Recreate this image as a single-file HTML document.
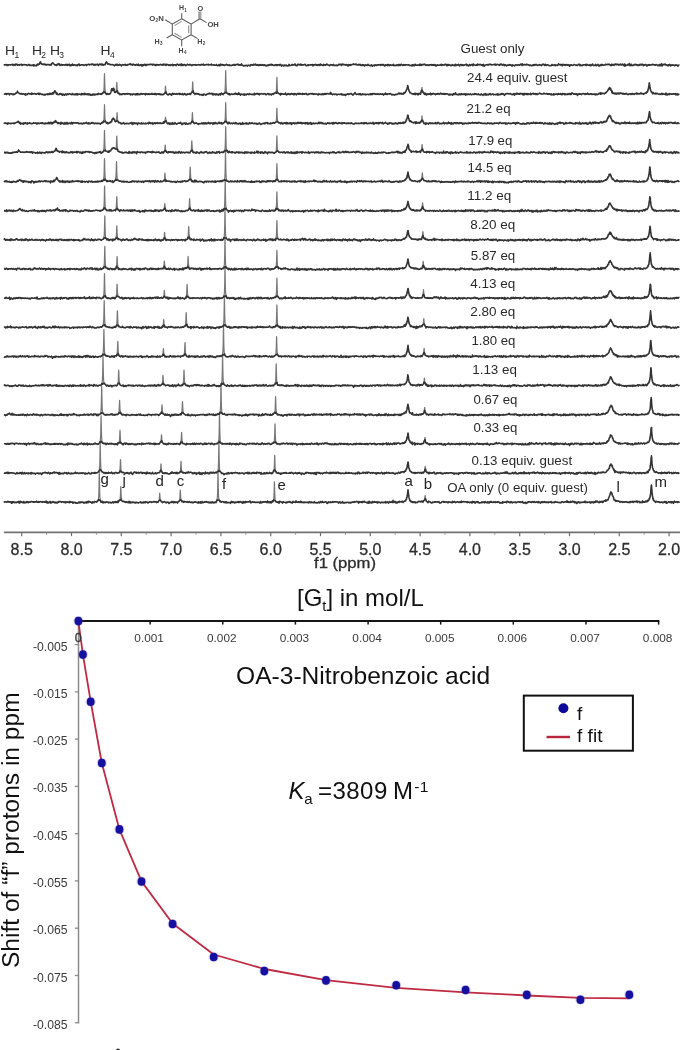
<!DOCTYPE html>
<html><head><meta charset="utf-8">
<style>
html,body{margin:0;padding:0;background:#fff;}
body{width:681px;height:1050px;overflow:hidden;position:relative;}
svg{position:absolute;left:0;top:0;filter:blur(0.3px);}
text{font-family:"Liberation Sans",sans-serif;}
.tk{font-size:16px;fill:#2e2e2e;stroke:#2e2e2e;stroke-width:0.3px;}
.lb{font-size:12.2px;fill:#2a2a2a;}
.pk{font-size:15px;fill:#222;}
.hl{font-size:12px;fill:#2a2a2a;}
.sm{font-size:6px;fill:#6a6a6a;}
.ct{font-size:11.8px;fill:#3a3a3a;}
.big{font-size:21px;fill:#111;}
</style></head>
<body>
<svg width="681" height="1050" viewBox="0 0 681 1050">
<rect x="0" y="0" width="681" height="1050" fill="#fff"/>
<!-- spectra -->
<g fill="none" stroke-linejoin="round">
<g stroke="#777" stroke-width="1.2"><path d="M103.2 93.2l.2-.5 .2-.6 .2-.9 .1-1.4 .1-1.1 .1-1.9 .1-3.1 .1-4 .1-3.9 .1-2.3 .1 2.3 .1 4.1 .1 4 .1 2.9 .1 2 .1 1.4 .1 .8 .2 1.1 .2 .7 .2 .5"/>
<path d="M115.8 92.2l.2-.6 .2-.9 .1-.6 .1-1.2 .1-1.6 .1-2.1 .1-2 .1-.9 .1 1.1 .1 2 .1 2.3 .1 1.4 .1 1.6 .1 .6 .2 .9 .2 .5"/>
<path d="M164.6 93.1l.2-.2 .2-1 .1-.6 .1-1.6 .2-2.7 .1-.9 .1 .8 .2 2.6 .1 1.5 .1 .8 .2 1.2 .2 .4"/>
<path d="M191.6 93.0l.2-.2 .2-.8 .2-1.5 .1-1.2 .1-1.7 .2-4.6 .1-1.2 .1 1 .2 4.7 .1 1.7 .1 1.1 .2 1.4 .2 .8 .2 .4"/>
<path d="M224.4 93.1l.2-.5 .2-.3 .2-1.4 .1-1 .1-1.5 .1-2.1 .1-3 .1-4.6 .1-5.4 .1-2.6 .1 2.6 .1 5.2 .1 4.9 .1 3.1 .1 2.4 .1 1 .1 1.1 .2 1.3 .2 .5 .2 .2"/>
<path d="M275.8 92.7l.2-.3 .2-.9 .1-.8 .1-.9 .1-1.6 .1-2.4 .2-6.7 .1-1.7 .1 1.7 .2 6.8 .1 2.2 .1 1.7 .1 1 .1 .6 .2 1 .2 .7"/>
<path d="M421.3 92.1l.2-.7 .2-1.7 .2-2 .1-.4 .1 .4 .2 1.9 .2 1.6 .2 .8"/>
<path d="M103.3 122.3l.2-.6 .2-.7 .2-1.2 .1-1.2 .1-2 .1-2.6 .1-3.5 .1-3.7 .1-2.1 .1 2 .1 3.6 .1 3.6 .1 2.8 .1 1.8 .1 1 .2 1.5 .2 .9 .2 .3"/>
<path d="M116.1 121.5l.2-.3 .2-.8 .1-.6 .1-1 .1-1.5 .1-1.8 .1-1.8 .1-1 .1 .9 .1 2.1 .1 1.6 .1 1.7 .1 1 .1 .6 .2 1 .2 .5"/>
<path d="M164.8 122.0l.2-.9 .2-1.4 .2-2.2 .1-.2 .1 .4 .2 2 .2 1.5 .2 .7"/>
<path d="M191.4 122.6l.2-.5 .2-.8 .1-1.2 .1-.8 .1-1.6 .1-2.2 .1-1.9 .1-1 .1 1 .1 2.1 .1 1.6 .1 1.9 .1 .9 .1 1 .2 .7 .2 .6"/>
<path d="M224.5 122.6l.2-.4 .2-.9 .2-1.5 .1-1.1 .1-1.9 .1-2.7 .1-4.6 .1-4.5 .1-2.3 .1 2.1 .1 4.9 .1 4.4 .1 2.8 .1 1.6 .1 1.5 .2 1.4 .2 .7 .2 .4"/>
<path d="M275.8 122.1l.2-.6 .2-.7 .2-1.5 .1-1.5 .1-1.8 .2-6.2 .1-1.7 .1 1.7 .2 6 .1 2.1 .1 1.4 .2 1.5 .2 1.1 .2 .2"/>
<path d="M421.3 121.1l.2-.9 .2-1.6 .2-1.7 .1-1 .1 .7 .2 2.3 .2 1.4 .2 1"/>
<path d="M103.2 151.1l.2-.1 .2-.8 .2-1.3 .1-1 .1-1.3 .1-2.2 .1-2.9 .1-4.4 .1-4.4 .1-2.3 .1 2.1 .1 4.4 .1 4.4 .1 3.2 .1 2.4 .1 .9 .1 1 .2 1.4 .2 .6 .2 .3"/>
<path d="M115.6 149.0l.2-.4 .2-.4 .2-.9 .1-.9 .1-1.7 .1-2.1 .1-2.6 .1-2.6 .1-1.3 .1 1.2 .1 3 .1 2.9 .1 2 .1 1.5 .1 1.3 .2 1.4 .2 .8 .2 .4"/>
<path d="M164.3 151.6l.2-.5 .2-1 .1-.8 .1-1 .2-2.8 .1-.5 .1 .4 .2 2.9 .1 1 .1 1.1 .2 .8 .2 .4"/>
<path d="M190.7 151.9l.2-.6 .2-.8 .2-1.2 .1-1.3 .1-1.6 .2-4.5 .1-1 .1 .9 .2 4.3 .1 1.9 .1 1.1 .2 1.6 .2 .7 .2 .3"/>
<path d="M224.4 151.2l.2-.2 .2-.7 .2-1.5 .1-.9 .1-1.5 .1-2.6 .1-3.5 .1-5.2 .1-5.6 .1-3 .1 2.8 .1 5.7 .1 5.3 .1 3.7 .1 2.2 .1 1.5 .1 1.2 .2 1.1 .2 .8 .2 .5"/>
<path d="M275.7 151.9l.2-.4 .2-.6 .2-1.4 .1-1.1 .1-1.6 .1-2.4 .1-3.4 .1-3.5 .1-1.6 .1 1.7 .1 3.6 .1 3 .1 2.6 .1 1.5 .1 1 .2 1.4 .2 .7 .2 .5"/>
<path d="M421.3 150.3l.2-.5 .2-1.4 .2-2.3 .1-1 .1-.6 .1 .3 .1 1.3 .2 2.3 .2 1.1 .2 1"/>
<path d="M103.2 180.2l.2-.4 .2-.6 .2-1.2 .1-1.2 .1-1.4 .1-2 .1-3.5 .1-4.4 .1-4.9 .1-2.1 .1 2.2 .1 5.1 .1 4.1 .1 3.4 .1 2.2 .1 1.6 .1 .6 .2 1.6 .2 .6 .2 .4"/>
<path d="M115.1 180.8l.2-.4 .2-.6 .2-1.2 .2-1.4 .1-1.5 .1-2.2 .1-2.7 .1-3.4 .1-4 .1-1.7 .1 1.9 .1 3.4 .1 3.7 .1 2.8 .1 2.1 .1 1.5 .2 1.7 .2 .7 .2 .7 .2 .3"/>
<path d="M164.0 180.5l.2-.5 .2-1.1 .1-.9 .1-1.1 .2-3.3 .1-.6 .1 .7 .2 3.1 .1 1.2 .1 .9 .2 1.1 .2 .6"/>
<path d="M189.0 180.4l.2-.5 .2-.4 .2-1.4 .1-1.1 .1-1.4 .1-2.2 .1-2.8 .1-2.7 .1-.9 .1 1 .1 2.8 .1 2.5 .1 2.2 .1 1.7 .1 .9 .2 1.3 .2 .7 .2 .4"/>
<path d="M224.1 180.7l.2-.5 .2-.7 .2-1.2 .1-.5 .1-1.5 .1-1.9 .1-2.7 .1-4.4 .1-6.1 .1-7 .1-3.4 .1 3.4 .1 7.1 .1 6 .1 4.2 .1 2.8 .1 1.9 .1 1.2 .1 1.1 .2 1.1 .2 .6 .2 .2"/>
<path d="M275.7 180.7l.2-.7 .2-.5 .2-1.4 .1-1.3 .1-1.7 .1-2.5 .1-3.1 .1-4.1 .1-1.7 .1 1.9 .1 3.7 .1 3.5 .1 2.3 .1 1.7 .1 1.7 .2 1 .2 .7 .2 .4"/>
<path d="M421.5 179.4l.2-1 .2-1.2 .2-2.5 .1-1.2 .1-.7 .1 .5 .1 1.3 .2 2.2 .2 1.8 .2 .4"/>
<path d="M103.2 209.7l.2-.6 .2-.4 .2-1 .1-.9 .1-1 .1-1.6 .1-2.4 .1-3.3 .1-4.9 .1-5.2 .1-2.4 .1 2.5 .1 5.4 .1 4.6 .1 3.6 .1 2.2 .1 1.3 .1 1.4 .1 .6 .2 1 .2 .6 .2 .7"/>
<path d="M115.7 209.4l.2-.4 .2-.7 .2-1.7 .1-1.7 .1-1.8 .2-5.2 .1-1.2 .1 1.3 .2 5 .1 2 .1 1.7 .2 1.3 .2 1 .2 .6"/>
<path d="M164.0 209.4l.2-.5 .2-1.3 .2-2.1 .1-1.4 .1-.4 .1 .7 .1 1.1 .2 2.3 .2 1.3 .2 .5"/>
<path d="M188.5 209.6l.2-.1 .2-.9 .2-1.5 .1-1.5 .1-1.5 .2-4.4 .1-1.2 .1 .8 .2 4.7 .1 1.8 .1 1.2 .2 1.5 .2 .8 .2 .4"/>
<path d="M223.8 209.9l.2-.6 .2-.5 .2-1 .1-1.1 .1-1.1 .1-2.1 .1-2.7 .1-4.2 .1-5.9 .1-7.2 .1-3.3 .1 3.2 .1 7.1 .1 6.2 .1 4.2 .1 2.6 .1 1.8 .1 1.6 .1 .6 .2 1.3 .2 .5 .2 .5"/>
<path d="M275.7 209.9l.2-.5 .2-.9 .2-1.7 .1-1 .1-1.8 .1-2.7 .1-3.5 .1-4.3 .1-1.6 .1 1.8 .1 3.9 .1 3.9 .1 2.3 .1 2 .1 1.3 .2 1.2 .2 .8 .2 .6"/>
<path d="M421.8 208.9l.2-.7 .2-1.3 .2-2.3 .1-1.5 .1-.3 .1 .5 .1 1.4 .2 2.3 .2 1.4 .2 .5"/>
<path d="M103.4 238.8l.2-.3 .2-.6 .2-.9 .1-1.1 .1-.9 .1-1.5 .1-2.4 .1-3.2 .1-4.7 .1-5.1 .1-2.2 .1 2.1 .1 5.3 .1 4.5 .1 3.3 .1 2.2 .1 1.6 .1 1.1 .1 .9 .2 .7 .2 1 .2 .3"/>
<path d="M115.7 238.8l.2-.8 .2-1 .2-1.5 .1-1.4 .1-1.9 .2-5.2 .1-1.2 .1 1.2 .2 5 .1 2.4 .1 1.1 .2 1.9 .2 1 .2 .3"/>
<path d="M163.7 239.3l.2-.4 .2-1.2 .1-.6 .1-1.3 .2-2.9 .1-.6 .1 .5 .2 2.9 .1 1.3 .1 .8 .2 1 .2 .3"/>
<path d="M187.6 238.7l.2-.4 .2-.9 .2-1.7 .1-1.4 .1-2 .2-4.8 .1-1 .1 1 .2 5 .1 1.7 .1 1.5 .2 1.4 .2 .9 .2 .3"/>
<path d="M223.6 238.8l.2-.4 .2-.8 .2-1.1 .1-.9 .1-1.4 .1-1.8 .1-2.8 .1-4 .1-6 .1-7.2 .1-3.5 .1 3.6 .1 6.9 .1 6.1 .1 4.4 .1 2.7 .1 1.8 .1 1.2 .1 1.2 .2 .9 .2 .7 .2 .3"/>
<path d="M275.7 238.8l.2-.3 .2-.9 .2-1.4 .1-1.3 .1-2.1 .1-2.8 .1-3.4 .1-4.2 .1-1.7 .1 1.7 .1 4 .1 3.9 .1 2.6 .1 1.9 .1 1.2 .2 1.6 .2 .9 .2 .2"/>
<path d="M422.1 237.7l.2-1 .2-1.2 .2-2.4 .1-1.3 .1-.1 .1 .5 .1 1.2 .2 1.9 .2 1.5 .2 .7"/>
<path d="M103.5 268.0l.2-.6 .2-.6 .2-1.1 .1-1.2 .1-1.4 .1-2.3 .1-3.1 .1-4.2 .1-4.8 .1-2.4 .1 2.4 .1 4.6 .1 4.4 .1 3.1 .1 2.4 .1 1.1 .1 1 .2 1.5 .2 .4 .2 .6"/>
<path d="M116.0 268.1l.2-.6 .2-.5 .2-1.5 .1-1.4 .1-2 .2-4.3 .1-1.3 .1 1.2 .2 4.7 .1 1.6 .1 1.2 .2 1.7 .2 .8 .2 .4"/>
<path d="M163.4 268.0l.2-.3 .2-1.1 .1-.9 .1-1.1 .2-2.9 .1-.7 .1 .7 .2 2.8 .1 1.2 .1 .8 .2 1.1 .2 .6"/>
<path d="M187.0 267.9l.2-.5 .2-.8 .2-1.6 .1-1.1 .1-1.9 .2-4.5 .1-1.1 .1 1.2 .2 4.5 .1 2 .1 1.1 .2 1.4 .2 .9 .2 .3"/>
<path d="M223.6 268.0l.2-.4 .2-.4 .2-1.5 .1-.8 .1-1.3 .1-1.8 .1-2.7 .1-4.4 .1-6.1 .1-6.8 .1-3.5 .1 3.3 .1 6.9 .1 6.4 .1 4.2 .1 2.8 .1 1.6 .1 1.4 .1 .9 .2 1.2 .2 .6 .2 .4"/>
<path d="M275.7 267.8l.2-.6 .2-.7 .2-1.4 .1-1.2 .1-1.7 .1-2.6 .1-3.6 .1-3.6 .1-2 .1 1.8 .1 4 .1 3.4 .1 2.6 .1 1.8 .1 1.1 .2 1.5 .2 .8 .2 .3"/>
<path d="M422.4 267.3l.2-.7 .2-1.3 .2-2.2 .1-1 .1-.8 .1 .5 .1 1.2 .2 2.3 .2 1.3 .2 .6"/>
<path d="M103.1 297.1l.2-.5 .2-.5 .2-1 .1-.8 .1-.9 .1-1.5 .1-2.8 .1-3.3 .1-4.6 .1-5.3 .1-2.4 .1 2.6 .1 5.3 .1 4.7 .1 3.3 .1 2.4 .1 1.5 .1 1.2 .1 .6 .2 1 .2 .7 .2 .6"/>
<path d="M116.0 297.0l.2-.8 .2-.7 .2-1.8 .1-1.3 .1-2.2 .2-4.9 .1-1.3 .1 1.2 .2 5.2 .1 1.7 .1 1.6 .2 1.9 .2 .7 .2 .6"/>
<path d="M163.4 297.3l.2-.6 .2-.9 .1-.7 .1-1 .2-2.9 .1-.9 .1 .9 .2 2.5 .1 1.3 .1 .7 .2 1.1 .2 .4"/>
<path d="M186.0 297.4l.2-.8 .2-.7 .2-1.8 .1-1.5 .1-2.1 .2-5 .1-1.2 .1 1.2 .2 5 .1 2 .1 1.5 .2 1.7 .2 .9 .2 .6"/>
<path d="M223.6 296.7l.2-.1 .2-1.2 .2-.7 .1-1.1 .1-1 .1-2.2 .1-2.5 .1-4.5 .1-6.2 .1-6.7 .1-3.5 .1 3.3 .1 7.4 .1 5.7 .1 4.5 .1 2.5 .1 1.9 .1 1.4 .1 .7 .2 1.4 .2 .3 .2 .7"/>
<path d="M275.7 296.8l.2-.5 .2-.7 .2-1.6 .1-1.3 .1-1.7 .1-2.9 .1-3.8 .1-4 .1-2.2 .1 2.1 .1 4 .1 4 .1 2.8 .1 1.8 .1 1.2 .2 1.6 .2 .8 .2 .7"/>
<path d="M422.7 296.2l.2-.8 .2-1.2 .2-2.4 .1-1.2 .1-.9 .1 .8 .1 1.3 .2 2.2 .2 1.5 .2 .7"/>
<path d="M102.8 325.9l.2-.3 .2-.5 .2-1.4 .1-.9 .1-1 .1-1.7 .1-2.5 .1-3.9 .1-4.9 .1-5.7 .1-2.4 .1 2.7 .1 5.2 .1 4.9 .1 4 .1 2.5 .1 1.8 .1 1.1 .1 .9 .2 1.4 .2 .3 .2 .4"/>
<path d="M116.2 326.3l.2-.7 .2-.5 .2-1.6 .1-1.3 .1-1.6 .1-2.2 .1-3 .1-3 .1-1.5 .1 1.2 .1 3.2 .1 3 .1 2.6 .1 1.1 .1 1.6 .2 1.3 .2 .8 .2 .3"/>
<path d="M162.8 326.4l.2-.6 .2-1 .1-.3 .1-1.2 .2-2.9 .1-.7 .1 .4 .2 3 .1 1.1 .1 .9 .2 .7 .2 .7"/>
<path d="M185.0 326.1l.2-.3 .2-.8 .2-1.2 .1-1 .1-1.8 .1-1.7 .1-2.6 .1-3.1 .1-1 .1 1 .1 2.8 .1 3 .1 2 .1 1.6 .1 .9 .2 1.4 .2 .6 .2 .6"/>
<path d="M223.0 326.3l.2-.6 .2-.8 .2-1.1 .1-.9 .1-1.1 .1-1.9 .1-2.9 .1-4 .1-6.3 .1-6.7 .1-3.6 .1 3.6 .1 6.7 .1 6 .1 4.2 .1 3.1 .1 1.6 .1 1.6 .1 .7 .2 1.2 .2 .4 .2 .5"/>
<path d="M275.6 326.2l.2-.4 .2-.9 .2-1 .1-1.2 .1-1.2 .1-2.3 .1-3.1 .1-4.3 .1-4.5 .1-2.4 .1 2.4 .1 4.4 .1 4.5 .1 3 .1 2.3 .1 1.3 .1 1.1 .2 1.4 .2 .5 .2 .3"/>
<path d="M423.0 325.0l.2-.7 .2-1.3 .2-2.6 .1-1.1 .1-.7 .1 .7 .1 1.2 .2 2.5 .2 1.5 .2 .6"/>
<path d="M102.5 355.7l.2-.9 .2-.6 .2-1 .1-1 .1-1.1 .1-1.7 .1-2.6 .1-3.8 .1-5.2 .1-5.5 .1-2.9 .1 2.7 .1 5.8 .1 5 .1 3.7 .1 2.7 .1 1.7 .1 1.3 .1 .8 .2 1.2 .2 .7 .2 .2"/>
<path d="M116.6 355.2l.2-.1 .2-.9 .2-1.4 .1-1.1 .1-1.3 .1-2.2 .1-2.9 .1-2.7 .1-1.3 .1 1.6 .1 2.6 .1 2.8 .1 2 .1 1.6 .1 1.2 .2 1.2 .2 .9 .2 .3"/>
<path d="M162.5 355.8l.2-.5 .2-1.1 .1-.6 .1-1.3 .2-2.9 .1-.9 .1 .7 .2 3 .1 1.1 .1 .9 .2 1 .2 .6"/>
<path d="M183.9 355.3l.2-.7 .2-.6 .2-1.9 .1-1.5 .1-1.9 .2-5.1 .1-1.1 .1 1.4 .2 4.9 .1 2.1 .1 1.2 .2 1.8 .2 .8 .2 .5"/>
<path d="M222.1 355.5l.2-.5 .2-.7 .2-1.2 .1-.6 .1-1.5 .1-1.9 .1-2.7 .1-4.2 .1-6.1 .1-6.9 .1-3.8 .1 3.6 .1 7.2 .1 6.2 .1 3.9 .1 2.9 .1 1.6 .1 1.4 .1 .9 .2 1.2 .2 .5 .2 .7"/>
<path d="M275.4 355.3l.2-.5 .2-.7 .2-1.6 .1-1.4 .1-1.8 .1-2.5 .1-4.1 .1-4.1 .1-2.1 .1 2 .1 4.2 .1 3.5 .1 3 .1 2 .1 1.3 .2 1.7 .2 1 .2 .2"/>
<path d="M423.3 354.4l.2-.7 .2-1.2 .2-2.5 .1-1.2 .1-.5 .1 .6 .1 .9 .2 2.5 .2 1 .2 1"/>
<path d="M101.5 384.6l.2-.2 .2-.8 .2-1.1 .2-1.4 .1-1.4 .1-1.8 .1-2.7 .1-4.1 .1-5.8 .1-6 .1-2.8 .1 3 .1 6.2 .1 5.3 .1 4 .1 2.7 .1 1.9 .1 1.2 .2 1.6 .2 1 .2 .6 .2 .2"/>
<path d="M117.5 384.5l.2-.5 .2-.7 .2-1.4 .1-1 .1-1.6 .1-2.5 .1-2.5 .1-2.8 .1-1.4 .1 1.4 .1 2.7 .1 2.9 .1 2.1 .1 1.7 .1 1.1 .2 1.1 .2 .8 .2 .6"/>
<path d="M162.0 384.5l.2-.5 .2-1 .1-.7 .1-.9 .1-1.4 .1-1.9 .1-2 .1-.7 .1 .8 .1 1.7 .1 1.9 .1 1.5 .1 .9 .1 .9 .2 .9 .2 .5"/>
<path d="M182.8 384.4l.2-.4 .2-.6 .2-1.5 .1-1 .1-1.6 .1-2.4 .1-2.5 .1-3.1 .1-1.3 .1 1.5 .1 2.6 .1 3.1 .1 2.1 .1 1.6 .1 1 .2 1.2 .2 .7 .2 .6"/>
<path d="M221.2 384.7l.2-.5 .2-.7 .2-1.1 .1-.8 .1-1.3 .1-1.8 .1-2.9 .1-4.1 .1-6.1 .1-6.9 .1-3.8 .1 3.6 .1 7.1 .1 5.7 .1 4.6 .1 2.7 .1 1.9 .1 1.2 .1 1 .2 .9 .2 .6 .2 .5"/>
<path d="M274.9 384.5l.2-.7 .2-.4 .2-1.2 .1-.9 .1-1.6 .1-1.9 .1-3.1 .1-4.1 .1-4.6 .1-2.2 .1 2.1 .1 4.5 .1 4.4 .1 2.8 .1 2.1 .1 1.5 .1 .9 .2 1 .2 .8 .2 .4"/>
<path d="M423.7 383.6l.2-.9 .2-1.8 .2-2.3 .1-.4 .1 .6 .2 2.2 .2 1.7 .2 .7"/>
<path d="M100.2 414.2l.2-.4 .2-.6 .2-.7 .2-1.9 .1-1.2 .1-2 .1-2.7 .1-4.1 .1-5.5 .1-6.2 .1-2.7 .1 2.9 .1 6 .1 5.5 .1 4.3 .1 2.8 .1 1.6 .1 1.3 .2 1.7 .2 .8 .2 .6 .2 .4"/>
<path d="M118.5 413.1l.2-.2 .2-1.1 .2-1.8 .1-1.3 .1-1.8 .2-5.4 .1-1.1 .1 1 .2 5.4 .1 1.9 .1 1.6 .2 1.6 .2 .8 .2 .3"/>
<path d="M161.0 413.8l.2-.4 .2-.9 .1-.7 .1-1 .1-1.4 .1-2 .1-1.8 .1-.7 .1 .8 .1 1.7 .1 1.7 .1 1.7 .1 1.1 .1 .8 .2 .7 .2 .4"/>
<path d="M181.4 413.5l.2-.5 .2-.9 .2-1.6 .1-1.4 .1-1.7 .2-4.7 .1-1.1 .1 1.1 .2 4.9 .1 2 .1 1.1 .2 1.8 .2 .6 .2 .5"/>
<path d="M219.6 413.4l.2-.6 .2-.2 .2-1.3 .1-.9 .1-1.1 .1-2 .1-2.7 .1-4.7 .1-5.7 .1-7 .1-3.6 .1 3.7 .1 6.8 .1 6 .1 4.1 .1 3.2 .1 1.4 .1 1.6 .1 1 .2 1.1 .2 .5 .2 .4"/>
<path d="M274.4 413.5l.2-.3 .2-.8 .2-1.5 .1-1.2 .1-1.4 .1-2.8 .1-3.4 .1-3.4 .1-2.1 .1 1.7 .1 3.8 .1 3.7 .1 2.4 .1 1.7 .1 1 .2 1.6 .2 .8 .2 .4"/>
<path d="M424.0 412.6l.2-.9 .2-1.9 .2-2 .1-.4 .1 .6 .2 2.1 .2 1.6 .2 .5"/>
<path d="M99.6 443.0l.2-.3 .2-.7 .2-.8 .2-1.8 .1-1.1 .1-1.8 .1-2.8 .1-3.9 .1-5.6 .1-5.9 .1-2.7 .1 2.6 .1 6.1 .1 5.6 .1 3.8 .1 2.7 .1 1.8 .1 1.2 .2 1.7 .2 .8 .2 .6 .2 .3"/>
<path d="M118.9 443.0l.2-.4 .2-.8 .2-1.7 .1-1.5 .1-2 .2-5.3 .1-1.1 .1 1.3 .2 5.2 .1 2 .1 1.1 .2 2 .2 .8 .2 .6"/>
<path d="M160.6 442.4l.2-.4 .2-1.2 .1-1 .1-1 .2-3.3 .1-.6 .1 .8 .2 3.2 .1 1.2 .1 .9 .2 .8 .2 .9"/>
<path d="M180.6 443.0l.2-.4 .2-1.1 .1-.9 .1-.9 .1-1.9 .1-2.1 .1-2 .1-1.4 .1 1.1 .1 2.4 .1 2 .1 1.8 .1 1.1 .1 .8 .2 1.2 .2 .4"/>
<path d="M218.1 442.9l.2-.3 .2-.8 .2-1.1 .1-.9 .1-1 .1-1.7 .1-2.9 .1-4.5 .1-6 .1-7 .1-3.4 .1 3.6 .1 6.8 .1 6.2 .1 3.8 .1 3.2 .1 1.7 .1 1.4 .1 .9 .2 1.1 .2 .7 .2 .5"/>
<path d="M273.8 442.4l.2-.4 .2-.4 .2-1.7 .1-1.4 .1-1.9 .1-2.8 .1-3.7 .1-4.3 .1-2 .1 1.9 .1 4.5 .1 3.7 .1 2.7 .1 1.8 .1 1.5 .2 1.6 .2 1 .2 .4"/>
<path d="M424.3 441.9l.2-.7 .2-1.5 .2-1.7 .1-.6 .1 .6 .2 1.9 .2 1.4 .2 .6"/>
<path d="M98.7 471.4l.2-.2 .2-.6 .2-1.2 .2-1.4 .1-1.1 .1-2.4 .1-2.4 .1-4.1 .1-5.8 .1-5.8 .1-3 .1 2.8 .1 6.3 .1 5.6 .1 3.8 .1 2.9 .1 2 .1 1.1 .2 2 .2 .7 .2 .7 .2 .4"/>
<path d="M119.4 472.1l.2-.4 .2-.9 .2-1.6 .1-1.6 .1-1.8 .2-5.2 .1-1.1 .1 1.1 .2 4.9 .1 2.1 .1 1.5 .2 1.8 .2 .7 .2 .5"/>
<path d="M160.1 471.8l.2-.6 .2-1 .1-1.1 .1-1.1 .2-3.5 .1-.6 .1 .6 .2 3.4 .1 1.5 .1 .6 .2 1.3 .2 .6"/>
<path d="M179.9 472.4l.2-.5 .2-.7 .2-1.6 .1-1 .1-1.7 .2-4.4 .1-1.2 .1 1.1 .2 4.3 .1 1.8 .1 1 .2 1.6 .2 .7 .2 .6"/>
<path d="M217.5 471.5l.2-.1 .2-.7 .2-1 .1-1.1 .1-1.2 .1-1.7 .1-3 .1-4.2 .1-6 .1-7.3 .1-3.2 .1 3.5 .1 6.9 .1 5.9 .1 4.3 .1 2.8 .1 1.9 .1 1.4 .1 .8 .2 1.3 .2 .5 .2 .5"/>
<path d="M273.5 471.8l.2-.4 .2-.6 .2-1.3 .1-1.3 .1-1.4 .1-2.7 .1-3.2 .1-3.9 .1-1.7 .1 1.9 .1 3.5 .1 3.4 .1 2.6 .1 1.7 .1 1 .2 1.5 .2 .6 .2 .4"/>
<path d="M424.5 471.3l.2-1.1 .2-1.4 .2-1.9 .1-.6 .1 .4 .2 2.1 .2 1.5 .2 .9"/>
<path d="M97.8 501.3l.2-.1 .2-.9 .2-.8 .2-2 .1-1.2 .1-1.9 .1-2.9 .1-4.2 .1-5.8 .1-6.3 .1-2.9 .1 3.1 .1 6.2 .1 5.6 .1 4.3 .1 2.8 .1 2.2 .1 1.4 .2 1.5 .2 .9 .2 .5 .2 .4"/>
<path d="M119.6 500.7l.2-.6 .2-.4 .2-1.2 .1-1.3 .1-1.6 .1-2.2 .1-2.6 .1-3.1 .1-1.2 .1 1.3 .1 2.5 .1 3.1 .1 2.3 .1 1.6 .1 1 .2 1.2 .2 1 .2 .4"/>
<path d="M158.8 501.1l.2-.4 .2-1.3 .1-.8 .1-1.4 .2-3 .1-1.1 .1 1.1 .2 2.8 .1 1.3 .1 1.1 .2 1 .2 .8"/>
<path d="M179.2 501.4l.2-.5 .2-.9 .2-1.4 .1-1.2 .1-1.9 .2-4.5 .1-1 .1 .9 .2 4.6 .1 1.9 .1 1.1 .2 1.3 .2 1 .2 .4"/>
<path d="M216.6 501.1l.2-.2 .2-.8 .2-1.3 .1-.9 .1-1.1 .1-2 .1-2.7 .1-4.3 .1-6 .1-7.2 .1-3.5 .1 3.6 .1 6.8 .1 6.2 .1 4.2 .1 2.8 .1 1.8 .1 1.3 .1 .7 .2 1.4 .2 .6 .2 .4"/>
<path d="M273.1 501.4l.2-.5 .2-.8 .2-.9 .1-1.1 .1-1.3 .1-2.2 .1-2.7 .1-3.9 .1-4.1 .1-2.1 .1 2.1 .1 4.1 .1 3.9 .1 3 .1 1.8 .1 1.4 .1 .9 .2 .9 .2 .7 .2 .6"/>
<path d="M424.5 499.8l.2-.6 .2-1.5 .2-2 .1-.2 .1 .4 .2 2 .2 1.2 .2 .8"/></g><g stroke="#333" stroke-width="1.6"><path d="M4.0 65.5l.5-.7 .5 .2 .5-.3 .5 .1 .5-.3 .5 1 .5-.6 .5 .5 .5-.4 .5-.3 .5 .1 .5-.1 .5 .2 .5-.1 .5 0 .5-.5 .5 .2 .5 1 .5-.9 .5-.2 .5 .6 .5 .4 .5-1.2 .5 .5 .5-.1 .5-.5 .5 1.1 .5-.4 .5 .1 .5-.3 .5 .5 .5-.4 .5 .1 .5-.4 .5-.1 .5 1.1 .5-.8 .5 .3 .5-.1 .5-.2 .5 0 .5 .4 .5-.3 .5 .1 .5 0 .5 .6 .5-.2 .5-.1 .5-.4 .5-.3 .5 1 .5 0 .5-.4 .5 .3 .5 .1 .5 0 .5 .1 .5-.6 .5 .9 .5-1.1 .5 .9 .5-.2 .5 .1 .5 .4 .5-.2 .5-1.2 .5-.4 .5 1 .5-1 .5 .1 .5-.1 .5-1.8 .5-.5 .5 1.6 .5 .5 .5 .2 .5 .4 .5-.3 .5-.2 .5 .6 .5-.3 .5-.3 .5 1 .5-.2 .5 .2 .5-.6 .5 .2 .5-.1 .5 0 .5 .5 .5-.5 .5 .4 .5-.1 .5 .5 .5-1.8 .5 .3 .5-.9 .5 .3 .5 0 .5 .9 .5 .8 .5-.2 .5 .2 .5-.1 .5 .6 .5-.5 .5-.9 .5 .7 .5-.6 .5-.5 .5 1.2 .5 .7 .5-.5 .5-.6 .5 .1 .5 .9 .5-.5 .5 0 .5-.1 .5 0 .5 .3 .5-.1 .5-.1 .5-.5 .5 .7 .5-.5 .5 .7 .5-.9 .5 .5 .5 0 .5-.5 .5 1.3 .5-.1 .5-.8 .5 .6 .5-.2 .5-1.2 .5 1.2 .5-.1 .5 0 .5-.4 .5 .3 .5 0 .5 .6 .5-.5 .5-.1 .5 .6 .5-1 .5 .1 .5-.7 .5 1.4 .5-.3 .5 0 .5-.1 .5-.2 .5 .1 .5-.2 .5 0 .5 .2 .5 .6 .5-.4 .5-.2 .5-.3 .5 0 .5 .9 .5-.5 .5-.2 .5-.2 .5-.4 .5 .4 .5 .4 .5-.6 .5 .1 .5 0 .5 .1 .5-.7 .5 .6 .5-.2 .5 .7 .5-.7 .5 .6 .5 .4 .5-.8 .5-.1 .5 .3 .5-.1 .5-.4 .5 .6 .5 .6 .5-1 .5 0 .5-.3 .5 .6 .5-.7 .5 .1 .5 1 .5-.9 .5 .8 .5 .1 .5-.6 .5 0 .5 .3 .5-1.4 .5-.9 .5-.7 .5 .9 .5 1.3 .5 .2 .5-.5 .5 .2 .5 .3 .5 .4 .5-.1 .5 .2 .5 .1 .5-.2 .5 .2 .5 .1 .5 0 .5 .2 .5 .7 .5-.5 .5-.3 .5-.7 .5 .9 .5-1 .5 .2 .5 1 .5-.1 .5-.3 .5-.7 .5 .6 .5-.2 .5 .6 .5 .6 .5-.8 .5-.4 .5-.2 .5 .4 .5 0 .5-.4 .5 .5 .5-.6 .5 .9 .5-.1 .5 0 .5-.7 .5 .4 .5-.4 .5-.1 .5-.1 .5-.4 .5 0 .5 1 .5-.4 .5 .2 .5 .4 .5-1.1 .5 .4 .5 .5 .5 .1 .5-.3 .5 .6 .5-.3 .5-.6 .5 .1 .5 .8 .5-.2 .5-.9 .5 1.3 .5-.3 .5 .3 .5-.7 .5 .1 .5-.4 .5 1.6 .5-1.2 .5 .8 .5-1 .5 .4 .5-.8 .5 .6 .5 .5 .5-1 .5 1 .5-.4 .5-.6 .5 .2 .5 0 .5 .1 .5-.2 .5-.2 .5 .3 .5-.3 .5-.1 .5 .5 .5 .4 .5-.9 .5 .6 .5-.2 .5-.1 .5 .8 .5-.6 .5 .8 .5-1 .5 .5 .5-.3 .5-.2 .5 .6 .5-.4 .5 .3 .5-.2 .5-.5 .5 .4 .5 .1 .5 .4 .5-.8 .5 .4 .5-.7 .5 1 .5-.7 .5-.3 .5 .7 .5 .6 .5-1.1 .5 .2 .5 .2 .5-.1 .5 .7 .5-.5 .5 .1 .5 .6 .5-.6 .5 .4 .5-.6 .5-.1 .5-.3 .5 1.5 .5-1 .5 .2 .5-.2 .5 .1 .5 0 .5 .8 .5-1.3 .5-.2 .5 .3 .5-.1 .5 .9 .5 0 .5-.7 .5-.2 .5 .5 .5 .7 .5-1.7 .5 1.4 .5-.7 .5 .9 .5-.8 .5 .3 .5-.5 .5 .3 .5 .9 .5-.2 .5-.6 .5-.2 .5-.5 .5 .6 .5 .2 .5-.1 .5 0 .5-.5 .5 .5 .5 0 .5 .5 .5 .3 .5-.8 .5-.3 .5 .3 .5-.2 .5 0 .5 .3 .5-.5 .5 .7 .5-.3 .5 .2 .5-.2 .5-.2 .5-.1 .5 .3 .5-.1 .5 .3 .5-.1 .5-.6 .5 .6 .5-.5 .5 .3 .5 .1 .5-.8 .5 1 .5 0 .5-.2 .5-.1 .5 0 .5-.3 .5 .3 .5-.2 .5 .3 .5-.6 .5 .6 .5-.1 .5-.1 .5-.1 .5 .4 .5-.9 .5 .9 .5 0 .5 0 .5 .1 .5-.4 .5 .2 .5 .4 .5-.1 .5 0 .5-.7 .5 .9 .5 .2 .5 0 .5-.3 .5-.7 .5 1.1 .5-.5 .5-1 .5 1.1 .5-.8 .5 0 .5 .2 .5 .7 .5-.7 .5 .2 .5 .6 .5-.2 .5-.6 .5 0 .5-.4 .5 .3 .5 .5 .5 0 .5 0 .5 .4 .5-.7 .5 .4 .5 .3 .5-.1 .5 .2 .5-.3 .5-.3 .5 .2 .5-.5 .5-.3 .5 .9 .5-.3 .5 .1 .5-.8 .5 .5 .5-.1 .5-.1 .5-.6 .5 .8 .5 .5 .5-.3 .5-.4 .5 .3 .5 .4 .5-1.4 .5 1.1 .5 .4 .5 .1 .5 .5 .5-.2 .5-.3 .5 .1 .5 .1 .5-.5 .5 .1 .5 .4 .5 .4 .5-.9 .5 0 .5 .1 .5 .5 .5-.6 .5 .5 .5-1 .5 .3 .5-.1 .5 .4 .5 0 .5-1.1 .5 .2 .5 .5 .5-.4 .5-.4 .5 1.1 .5-.2 .5 .1 .5-.4 .5 .6 .5-.5 .5 .6 .5-.8 .5 .1 .5 .4 .5-.4 .5 .6 .5-.1 .5-.5 .5 .4 .5-.2 .5 .6 .5-.7 .5 .1 .5 .7 .5 .4 .5-.1 .5-.8 .5 0 .5 .6 .5-.7 .5-.4 .5 .4 .5 .1 .5-.5 .5-.3 .5 .1 .5 .9 .5-.6 .5 .3 .5 .2 .5 .2 .5-.4 .5 .4 .5-.6 .5 .2 .5-.3 .5 .9 .5-.5 .5-.4 .5 .2 .5 0 .5 .4 .5-1 .5 .3 .5 .3 .5 1.2 .5-.6 .5-.5 .5 .4 .5 .6 .5-1 .5 0 .5 .7 .5-.3 .5 .1 .5-.5 .5 1 .5-.1 .5-.4 .5 .1 .5-1.2 .5 1.2 .5-.4 .5 .3 .5 0 .5-.5 .5-.6 .5 .8 .5-.5 .5 .2 .5-.2 .5 .1 .5-.9 .5 1.5 .5-.4 .5 .4 .5 .4 .5-.8 .5-.8 .5 .4 .5-.1 .5 .3 .5 .3 .5-.9 .5 1 .5-.8 .5 .7 .5-.2 .5-.1 .5 .1 .5-.2 .5 0 .5-.5 .5 .7 .5 .8 .5 .1 .5-.3 .5-.2 .5-.6 .5 .9 .5-.6 .5 0 .5-.1 .5 .1 .5-.2 .5 .1 .5-.4 .5 .2 .5 1.1 .5-1 .5-.1 .5 .3 .5 0 .5-.7 .5 .4 .5 .5 .5-.3 .5 0 .5 .6 .5-1 .5 .4 .5-.3 .5 .9 .5-1.4 .5 .5 .5 .1 .5 .5 .5 0 .5 .3 .5-1.2 .5 1 .5-.5 .5-.1 .5 .5 .5-.6 .5-.4 .5 .7 .5-.5 .5 .4 .5 .5 .5 0 .5 .5 .5-.7 .5-.5 .5 .3 .5-.1 .5-.1 .5 .7 .5-.4 .5-.6 .5 1.1 .5-.3 .5 .2 .5-.2 .5 .2 .5-.3 .5 .5 .5-.4 .5-.1 .5-.1 .5-.8 .5 .5 .5-.1 .5 .2 .5-.6 .5 1.2 .5-.6 .5-.5 .5-.2 .5 .6 .5 .1 .5-.3 .5 .4 .5-.3 .5 .5 .5-.5 .5 .3 .5 .5 .5 .7 .5-1.5 .5 .3 .5-.1 .5 .7 .5-.9 .5 .2 .5 .2 .5-.5 .5-.1 .5 .2 .5-.7 .5 .2 .5 .3 .5 .2 .5-.1 .5-.6 .5 .6 .5 .5 .5 0 .5-.3 .5-.3 .5 .7 .5-.5 .5-.2 .5 .2 .5 .9 .5-.5 .5 .4 .5-.7 .5 .6 .5-.6 .5 .2 .5 1.1 .5-.7 .5-.5 .5 .2 .5 .2 .5 .4 .5-.7 .5-.5 .5 .7 .5 .1 .5 .1 .5 .5 .5-.4 .5 .2 .5-.8 .5 .8 .5 .5 .5-.6 .5-.2 .5-.1 .5 .7 .5-1.1 .5 .3 .5 .2 .5 .1 .5-.5 .5 .3 .5-.3 .5 .1 .5-.1 .5-.4 .5 .4 .5 .4 .5-.8 .5 .3 .5 .4 .5-.7 .5 .5 .5-.5 .5 .9 .5 .5 .5-.1 .5-1 .5 .4 .5-.2 .5 0 .5 .6 .5-1.2 .5 1 .5-.5 .5 .6 .5-.5 .5-.3 .5 .4 .5 .3 .5-.3 .5 .2 .5-.3 .5-.7 .5 1.3 .5 0 .5-.2 .5-.1 .5 .4 .5-.7 .5-.1 .5 .1 .5 .6 .5-1.1 .5 1 .5-.8 .5-.3 .5 1 .5-.5 .5-.5 .5 .4 .5 .5 .5 .1 .5-.7 .5 .4 .5 .1 .5-.5 .5 .4 .5-.2 .5-.1 .5 0 .5 .2 .5 0 .5-.2 .5 .1 .5 .6 .5-.3 .5 .2 .5 .2 .5-.3 .5 .7 .5-1.3 .5 .7 .5-.5 .5 .9 .5-.1 .5-1.5 .5 .4 .5 .6 .5 .1 .5 0 .5-.4 .5 .3 .5 0 .5-.3 .5 .5 .5-1.4 .5 1.2 .5-.7 .5 .8 .5-.5 .5-.3 .5 .5 .5-.6 .5 0 .5-.3 .5 .6 .5 .3 .5 .2 .5-.4 .5 .5 .5-.4 .5 0 .5 .3 .5 .2 .5-.6 .5 .1 .5 0 .5 .1 .5-.4 .5 .8 .5-.6 .5 .3 .5-.5 .5 .5 .5 0 .5-.4 .5 1.1 .5-.7 .5 .7 .5-.4 .5-.6 .5 .2 .5 .3 .5-.1 .5 0 .5-.1 .5-.6 .5 .6 .5-.8 .5 1.1 .5-.5 .5 0 .5 .2 .5 .2 .5-.7 .5-.2 .5 .3 .5-.4 .5 .4 .5 1.1 .5-1.2 .5 .7 .5-.8 .5 .7 .5-.3 .5 .1 .5 .2 .5 .6 .5-.7 .5 0 .5-.4 .5 .6 .5-.3 .5 .5 .5-.4 .5 .8 .5-1.6 .5 .7 .5 .5 .5-.6 .5-.2 .5 .2 .5-.5 .5 .6 .5 1 .5-.6 .5-.9 .5 .1 .5 .2 .5 .7 .5-.8 .5 .1 .5 .7 .5 0 .5-.5 .5-.2 .5-.2 .5 .3 .5-.7 .5 1.3 .5-.6 .5 .4 .5 .6 .5-.4 .5-1 .5 .9 .5 .1 .5-.8 .5-.1 .5 .4 .5-.6 .5 1.3 .5-1.6 .5 .5 .5 .4 .5 0 .5 .2 .5 0 .5-.3 .5 .5 .5-1.4 .5 .9 .5-.4 .5 .4 .5-.1 .5-.5 .5 .2 .5 .6 .5-.1 .5-.4 .5 1.2 .5 .1 .5-1.5 .5 .7 .5 1 .5-.7 .5-.3 .5-.2 .5-.2 .5 .1 .5-.2 .5 .5 .5-.5 .5-.1 .5-.3 .5 .4 .5-.4 .5 .3 .5 .5 .5-.2 .5 0 .5-.1 .5-.1 .5-.1 .5-.1 .5 .5 .5-.8 .5 1.1 .5-.5 .5-.3 .5 .1 .5 0 .5 .4 .5-.3 .5 .8 .5-.8 .5-.6 .5 .6 .5-.5 .5 .8 .5 .4 .5-.2 .5-.8 .5 .2 .5 1.1 .5-.7 .5-.1 .5 .5 .5 .6 .5-.5 .5-.4 .5 .1 .5 .1 .5-.5 .5-.1 .5 .5 .5-.4 .5 .4 .5 .1 .5 1 .5-1.3 .5 .4 .5 0 .5 .3 .5 .3 .5-.6 .5-.2 .5-.4 .5 .2 .5 .5 .5-.2 .5-.5 .5 .2 .5 .1 .5 .1 .5-.5 .5 .1 .5-.6 .5 .2 .5 1.2 .5-1.6 .5 .8 .5 .2 .5-.2 .5-.2 .5 .3 .5 .1 .5 0 .5-.8 .5 .8 .5-.3 .5 .1 .5 .4 .5 .2 .5 .1 .5-.6 .5 .6 .5 .2 .5-.1 .5 .2 .5-.7 .5 0 .5 .4 .5-.9 .5 .7 .5-.3 .5 0 .5-.6 .5 .4 .5 .3 .5 .4 .5 0 .5-.4 .5-.1 .5-.3 .5 .5 .5-.2 .5 .3 .5 .5 .5-.8 .5-.6 .5 .3 .5-.3 .5 .2 .5 1 .5-.5 .5-.7 .5 1 .5 .2 .5-.6 .5-.1 .5 .1 .5 .3 .5 .2 .5 .2 .5 .1 .5-.1 .5 .1 .5-.3 .5-.9 .5 .6 .5 .2 .5-.3 .5 .5 .5-.5 .5-.3 .5 1 .5-.4 .5-.2 .5 .3 .5 0 .5-.3 .5-1.3 .5 .8 .5 0 .5-.2 .5 .5 .5 .4 .5-.7 .5-.2 .5 1.3 .5-1 .5-.3 .5 .6 .5 .1 .5-.4 .5 .6 .5-.5 .5-.2 .5 .5 .5 .2 .5-.6 .5 .4 .5-.1 .5 1.2 .5-1.5 .5 .9 .5-.7 .5 0 .5 .3 .5 .1 .5 .1 .5-.4 .5-.4 .5 0 .5 .4 .5 0 .5 .4 .5-.4 .5 .3 .5 .2 .5-.5 .5-.7 .5 .2 .5-.1 .5 1.3 .5-1 .5 .8 .5-.3 .5 .5 .5-.3 .5-.5 .5-.1 .5 .1 .5 0 .5-.3 .5 .2 .5 .8 .5-1.4 .5 .9 .5-.5 .5 .5 .5 .3 .5-.3 .5 .4 .5-1 .5 1.2 .5-.8 .5 .5 .5-.2 .5-1.2 .5 .8 .5 .4 .5 .5 .5-.5 .5 0 .5-.8 .5 1.2 .5 .2 .5-.8 .5-.1 .5-.6 .5 1.1 .5 .8 .5-.9 .5 .3 .5-.4 .5-.6 .5 .9 .5-1.1 .5 .5 .5 .1 .5 .3 .5-.2 .5-.1 .5-.4 .5-.3 .5 .6 .5-.3 .5-.2 .5 0 .5 .3 .5-.5 .5 .2 .5-.1 .5 .8 .5 0 .5 .6 .5-1.5 .5 .3 .5 .7 .5-.6 .5-.1 .5 .9 .5-.9 .5-.4 .5-.1 .5 .7 .5 0 .5-.6 .5 .1 .5 .7 .5 0 .5-.5 .5 .6 .5 0 .5-1 .5 .7 .5 .3 .5-.4 .5-.6 .5 .8 .5 .5 .5 .4 .5-1.6 .5 2.1 .5-1.6 .5 .8 .5 0 .5-.1 .5-.4 .5-.6 .5 .7 .5-.7 .5-.8 .5 2.2 .5-.8 .5 .5 .5-1.1 .5 1.1 .5 .1 .5 .1 .5-.6 .5-.4 .5 .4 .5-.7 .5 .1 .5 .7 .5-.5 .5 .3 .5 0 .5 .8 .5-.4 .5-.6 .5 .5 .5-.9 .5 .2 .5 .6 .5-.8 .5 .4 .5-.4 .5 .7 .5 .7 .5-1 .5 .5 .5-.4 .5-.2 .5 0 .5 1.1 .5 .3 .5-.8 .5-.5 .5 .5 .5-.5 .5 .5 .5-.3 .5 .1 .5 .1 .5-.4 .5 .1 .5-.5 .5 .5 .5-.3 .5 .5 .5-.3 .5 .5 .5 .1 .5-.8 .5 .3 .5-.1 .5 .7 .5 .4 .5-.4 .5-.5 .5 .8 .5-1.3 .5 1.2 .5-.9 .5-.9 .5 2.2 .5-.5 .5-1.1 .5 .4 .5-.2 .5 .1 .5-.7 .5 .4 .5 .6 .5-.1 .5 .5 .5-.4 .5 1 .5-1.2 .5 .5 .5-.9 .5 .3 .5 1.1 .5-.9 .5 .6 .5-.2 .5-.4 .5 .3 .5-.1 .5 0 .5 .5 .5 0 .5-.6 .5-.1 .5 .4 .5-.2 .5 .5 .5 .6 .5-.8 .5-.4 .5-.1"/>
<path d="M4.0 93.5l.5 .6 .5 .2 .5-.7 .5 .2 .5 .6 .5-.7 .5 .3 .5-.5 .5 .1 .5 .1 .5 1.1 .5-1.1 .5 0 .5 0 .5 .1 .5 .4 .5-.2 .5 .8 .5-.8 .5 .5 .5-.5 .5 .1 .5-1 .5 .3 .5-.3 .5-.6 .5-1.3 .5 1.5 .5 .1 .5 .4 .5 .3 .5 .2 .5 .3 .5-.6 .5 .2 .5 .6 .5 0 .5-.2 .5-.1 .5 0 .5 .3 .5 .6 .5-1 .5 1.1 .5-.3 .5-.6 .5 .5 .5-1 .5-.1 .5 .1 .5 .4 .5 0 .5-.1 .5 .3 .5-.9 .5 1.1 .5-.8 .5 .3 .5 .1 .5-.3 .5-.1 .5 .2 .5 .4 .5 .2 .5 0 .5-.7 .5 0 .5 0 .5 .5 .5-1 .5 1.3 .5-.7 .5-.1 .5 .5 .5 .4 .5-.2 .5 .3 .5-.3 .5 .5 .5 .1 .5-.5 .5 .7 .5-.6 .5-.1 .5-.4 .5 .2 .5 .4 .5-.9 .5 .8 .5-.1 .5-.1 .5-1.1 .5 .9 .5 .3 .5-.7 .5 .3 .5-1.1 .4 1.1 .1-.6 .5 .2 .1-1.2 .4 .4 .2-.8 .3-.2 .1-.8 .3-.2 .1 1.2 .2-.9 .3 .5 .1 .4 .4 .5 .2 1.2 .3 .5 .4-.7 .1-.4 .5 1.4 .5 0 .5 0 .5 .2 .5-.9 .5 .3 .5-.5 .5 .1 .5 1 .5-.7 .5 1.3 .5-.9 .5-.3 .5 .6 .5 .5 .5-.6 .5-.7 .5 .6 .5 .4 .5-.8 .5-.2 .5 .7 .5-.4 .5-.5 .5 .3 .5-.2 .5 .4 .5 0 .5 .4 .5-.1 .5-1 .5 .9 .5 .2 .5-.2 .5 .3 .5-.6 .5-.2 .5 .9 .5-.8 .5-.4 .5 1.3 .5-.7 .5 .3 .5-.4 .5 0 .5 .1 .5 .3 .5 .2 .5-1.2 .5 1.2 .5-.9 .5 0 .5 .6 .5-.4 .5-.7 .5 1.3 .5-1 .5 .5 .5 0 .5 .6 .5-.8 .5 .7 .5-.7 .5 .9 .5-.8 .5 .2 .5 1 .5-.7 .5 0 .5 .9 .5-.8 .5-.5 .5 .7 .5-.8 .5 .9 .5 .1 .5-.8 .5 0 .5 .3 .5-.1 .5-.5 .5 .6 .5-1.1 .5 .6 .5 0 .5 0 .5 .2 .5-.7 .5 .8 .5-.5 .5-.3 .5-.7 .5-.8 .5 .4 .5-.6 .5 .4 .5 .7 .5 .9 .5 .6 .5-.7 .5-.2 .5 .9 .5-.4 .5 .3 .5-.6 .5 .2 .2-.4 .3-.4 .3-.6 .2-.8 .2-.9 .3-1.1 0 .3 .3-1.3 .2 1 .1-.7 .3 1.1 .1-.3 .1 0 .2 .8 .2-1.3 0-.5 .3-.5 .1 0 .1 .9 .1-.9 .3 1 .1-.3 .2 1.2 .3 1.3 .1 .8 .4-.5 .2 .7 .3 0 .5-1.2 .5 .3 .5 0 .5-.7 .5 2.4 .5 .5 .5-.2 .5-.3 .5 1.3 .5-.5 .5 .3 .5 .2 .5-.8 .5 .5 .5-.4 .5 0 .5 0 .5 0 .5 .5 .5-.4 .5-.2 .5 0 .5 .3 .5-.5 .5 .1 .5 .2 .5-.2 .5 .2 .5-.2 .5 1.1 .5-.3 .5-.3 .5-.2 .5 .9 .5-.8 .5-.2 .5 .2 .5 0 .5 .5 .5-.6 .5 .9 .5-1.2 .5 .6 .5-.7 .5 1.2 .5-.9 .5 .2 .5 .4 .5 .1 .5-1 .5 .4 .5-.5 .5 .7 .5-.1 .5-.1 .5-.1 .5 .1 .5-.1 .5 .5 .5 .4 .5-1.4 .5 .7 .5-.1 .5 .4 .5-.6 .5 .4 .5-.4 .5 .7 .5-.2 .5-.2 .5 .2 .5-.3 .5-.6 .5 .9 .5-.2 .5-.2 .5 .4 .5 .1 .5-1 .5 .2 .5 1 .5 0 .5-.8 .5-.1 .5 .3 .5 .1 .5-.4 .5 .8 .5-.5 .5 0 .5 .9 .5-.7 .5 .2 .5 .3 .5 0 .5-.6 .5 0 .5-.8 .5-.2 .5-.4 .5-.8 .5 1.7 .5 .7 .5 0 .5 .7 .5-.2 .5-.8 .5 .2 .5-.5 .5 .7 .5-.1 .5 1 .5-1.1 .5-.9 .5 .6 .5 .3 .5-.6 .5 .1 .5 .2 .5 .3 .5-.2 .5-.3 .5 .7 .5-.5 .5 0 .5-.4 .5 .3 .5 .6 .5-1 .5 .7 .5 .3 .5-.4 .5 .3 .5-.6 .5 1 .5 0 .5-.4 .5-.8 .5 .3 .5 .8 .5 .4 .5-.7 .5 .4 .5-.8 .5 .2 .5 .1 .5 .1 .5-.8 .5 1 .5 0 .5-1.3 .5-.5 .5-.5 .5-.5 .5-.7 .5 1.5 .5 .7 .5 0 .5 1.2 .5-.7 .5-.3 .5 .5 .5-.4 .5 .2 .5 .5 .5-.3 .5 .1 .5 .9 .5-.3 .5 .1 .5-.1 .5 0 .5 .5 .5-.6 .5 .9 .5-1.2 .5 .4 .5-.4 .5 .4 .5 .3 .5 .3 .5-1 .5 .2 .5-.3 .5-.3 .5-.3 .5 .5 .5-.9 .5 .7 .5 0 .5-.2 .5-.1 .5-.1 .5 1.4 .5-1.3 .5 1.3 .5-.3 .5-.4 .5-.2 .5 .9 .5 .2 .5-1.1 .5 .3 .5 .5 .5-.3 .5 .7 .5-1.1 .5 .4 .5-.8 .5 1.4 .5-1.2 .5-.6 .5 .8 .5-.1 .5 .8 .5-1.1 .5-.1 .5-.3 .5-.4 .5-.7 .5 .5 .5-.2 .5 .7 .5 .7 .5 .2 .5-.3 .5 1 .5-1 .5 1.1 .5-.1 .5-.5 .5-.3 .5 .2 .5 .2 .5 .1 .5-.3 .5 .3 .5-.7 .5 .3 .5-.8 .5 1 .5-.2 .5-.2 .5 .7 .5-.2 .5-1.4 .5 1.2 .5-.6 .5 1.1 .5 .6 .5-1.2 .5 .3 .5-.1 .5 .3 .5 .1 .5 .3 .5-.9 .5 1.1 .5-1 .5 .5 .5 .3 .5-.2 .5-.8 .5 .1 .5 .1 .5 .1 .5 .5 .5-1.1 .5 .7 .5 0 .5 0 .5 0 .5 .4 .5-.4 .5 .1 .5-.1 .5 .5 .5-1.5 .5 1.3 .5-.6 .5 0 .5-.3 .5-.4 .5 .6 .5-.1 .5 .5 .5-.8 .5 1.3 .5-.5 .5-.2 .5-.3 .5 0 .5-.2 .5 .3 .5 .2 .5-.1 .5-.5 .5 .4 .5-.2 .5 .4 .5 .8 .5-.5 .5-.3 .5-.5 .5 .1 .5-.1 .5 1.1 .5-.6 .5 .4 .5-.4 .5 .3 .5 .5 .5-1 .5 .1 .5-.3 .5 .6 .5-.9 .5-.1 .5-.3 .5-.3 .5-.1 .5 .5 .5-1.4 .5 .8 .5 .6 .5 .1 .5 .6 .5 .2 .5-.1 .5 1.1 .5-1.6 .5 .9 .5-.1 .5-.4 .5 .3 .5 .2 .5-.3 .5 .1 .5 0 .5-1.1 .5 1.6 .5 .3 .5-.5 .5 .1 .5-1 .5 .6 .5-.2 .5 .1 .5 .7 .5-.8 .5 .3 .5-.8 .5 .8 .5 0 .5-.3 .5 0 .5 1 .5-1.3 .5 .1 .5 0 .5 .8 .5 .3 .5-.8 .5-.5 .5 .1 .5 .6 .5-.9 .5 .9 .5 0 .5-.6 .5 .3 .5 .2 .5 .3 .5-1 .5 1 .5-.6 .5-.1 .5 .4 .5 0 .5-.4 .5-.3 .5 .3 .5 1 .5 .1 .5-.5 .5 .2 .5-.8 .5 .2 .5 .1 .5-.5 .5 0 .5 .5 .5-.2 .5-.3 .5 .7 .5-.3 .5 .5 .5-.4 .5-.1 .5 .2 .5 0 .5-.2 .5 .2 .5 .5 .5 0 .5 .3 .5-1.2 .5 .6 .5 0 .5 .2 .5-.3 .5-.1 .5 .5 .5-.3 .5-.7 .5 1 .5-.2 .5-.7 .5 .5 .5-.6 .5 .8 .5-.6 .5-.2 .5 .1 .5-.1 .5 .4 .5 0 .5-.1 .5-.2 .5-1.3 .5 1.7 .5-.8 .5 .9 .5 .5 .5-.3 .5-.3 .5 .2 .5 .1 .5-.2 .5 0 .5-.2 .5 .9 .5-.6 .5 .4 .5-.5 .5 .1 .5-.1 .5 .2 .5 .1 .5-.2 .5-.3 .5-.1 .5 1.1 .5-.8 .5 0 .5 .8 .5-.1 .5-.2 .5-.4 .5 1.2 .5-.9 .5 0 .5-.3 .5-.5 .5 0 .5 .7 .5-.1 .5-.3 .5-.4 .5-.1 .5 .4 .5-.5 .5 1 .5 .1 .5 .6 .5-.8 .5-.7 .5-.1 .5-1.1 .5 1.2 .5 .2 .5 .5 .5-.1 .5 0 .5-.2 .5 .2 .5 .4 .5-1 .5 .2 .5-.3 .5 1.3 .5-.1 .5-.2 .5-.8 .5 .6 .5-.2 .5 .2 .5-.1 .5 .3 .5-.4 .5 .6 .5-.3 .5-.2 .5 0 .5-.1 .5 .5 .5-.5 .5 .3 .5-.3 .5-.5 .5 1 .5-.9 .5 .7 .5-.1 .5-.9 .5 .3 .5 .2 .5-.2 .5-.2 .5 .8 .5-.4 .5 .3 .5-.3 .5 .3 .5-.5 .5 .3 .5 .3 .5-.2 .5-.3 .5-.2 .5 .5 .5 .1 .5-.3 .5-.2 .5 .5 .5 .8 .5-1.1 .5 .2 .5 .1 .5-1.3 .5 1.1 .5-.3 .5 .8 .5-.7 .5-.2 .5 .2 .5 .2 .5-.4 .5 .2 .5-.4 .5 .5 .5 .5 .5 .5 .5-.5 .5-.1 .5 .4 .5 0 .5 .3 .5-.2 .5-.5 .5 .1 .5-.1 .5 0 .5-.1 .5-.5 .5-.6 .5 .6 .5-.7 .5 .8 .5-.1 .5-.7 .5 .9 .5 0 .5-.5 .5 .6 .5-.1 .5-1.5 .5 .7 .5-.7 .3-.2 .2 0 .5-1.4 .3-.6 .2-.4 .1-.3 .4-.7 0-.7 0 .1 .4-.8 .1-.8 .1-.2 0-1 .2 .2 .2 .6 0 .3 .2 .8 0 .7 .3 .9 .1 .3 .3 1 .1 .6 .5 .5 .4 1.3 .1-.3 .5 .4 .5 .2 .2 .3 .3 .4 .5 .1 .5-.1 .5 .4 .5-.3 .5 .6 .5-.5 .5-.8 .5 1.5 .5-.5 .5-.6 .5 .5 .5-.3 .5 1.2 .5-.7 .5-.9 .5 .7 .5-.5 .5 .7 .5-1.9 .5-2 .5 .4 .5 .3 .5 1.5 .5-.1 .5 1.3 .5 .7 .5-1.4 .5 1.3 .5-.7 .5 1.3 .5-.8 .5-.2 .5 .5 .5-.2 .5-.5 .5 .5 .5-.5 .5-.5 .5 1.6 .5-1 .5 0 .5 .4 .5-.8 .5 .1 .5 .4 .5 0 .5 .2 .5 .5 .5-.8 .5 .4 .5 0 .5-.7 .5 .5 .5-.5 .5 .8 .5-.3 .5-.2 .5-.6 .5 .6 .5-.3 .5 .6 .5-.4 .5-.2 .5 .7 .5-.1 .5-.5 .5 .7 .5-.5 .5 0 .5 .2 .5-.3 .5 .2 .5 .2 .5 .7 .5 .1 .5-.7 .5 .8 .5-.7 .5 .1 .5 .2 .5-.3 .5 .9 .5-1 .5-.6 .5 1 .5-.7 .5 0 .5-1.1 .5 1.7 .5-.1 .5 0 .5 .1 .5 .4 .5-.8 .5 .5 .5-.7 .5 .2 .5 .6 .5-.3 .5-.7 .5 .8 .5-.3 .5-.2 .5 .5 .5-.3 .5-.5 .5 .3 .5 1.1 .5-1.3 .5 .7 .5 .1 .5 0 .5-.8 .5 .4 .5 .2 .5 .2 .5-.6 .5-.2 .5 .9 .5 0 .5-.3 .5-.4 .5 .4 .5-.2 .5 .3 .5-.9 .5 .6 .5-.1 .5-.3 .5 .6 .5 0 .5-.2 .5 .4 .5-.7 .5 .6 .5 .3 .5-.1 .5 .3 .5-.9 .5-.2 .5 .7 .5 .1 .5 .6 .5-.6 .5-.7 .5 .7 .5-.8 .5-.3 .5 1.7 .5-.9 .5 .1 .5-.1 .5 .5 .5-.6 .5 .3 .5-.9 .5-.2 .5 1.2 .5 0 .5-.3 .5-.1 .5 0 .5-.4 .5 1 .5-.4 .5 0 .5 0 .5 .2 .5-.2 .5 .1 .5-.8 .5 .7 .5 .7 .5-1.2 .5 .2 .5 .4 .5 0 .5-.1 .5-1 .5 .9 .5-.8 .5 .1 .5 .6 .5-.4 .5 .4 .5 1 .5-1 .5 0 .5-.7 .5 .1 .5-.1 .5 .2 .5-.2 .5 .2 .5 .2 .5-.3 .5-.1 .5 0 .5 .7 .5-.1 .5 .4 .5 0 .5-.6 .5 .4 .5-.9 .5 1.6 .5-.5 .5-.6 .5-.5 .5 .6 .5-.9 .5 .4 .5 .6 .5-.3 .5-.3 .5 .5 .5-.8 .5 .6 .5-.3 .5-.1 .5 .6 .5-.6 .5 1.2 .5-1 .5 1.2 .5-1.3 .5 .8 .5-.8 .5-.1 .5 .7 .5 .2 .5-.8 .5 1 .5-.8 .5 .3 .5 .1 .5 .1 .5-1 .5 1.5 .5-.5 .5-.4 .5-.3 .5-.3 .5 .2 .5 .8 .5-.4 .5-.3 .5 .2 .5 .8 .5-.8 .5-.1 .5 .8 .5-.4 .5-.2 .5-.3 .5-.5 .5 .2 .5 .3 .5 .1 .5 .3 .5 .1 .5-.1 .5 0 .5-.4 .5-.5 .5 .7 .5-.1 .5 .1 .5 .2 .5-.4 .5 0 .5 .5 .5 .1 .5-.4 .5 .5 .5-.3 .5-.3 .5 .5 .5 .7 .5-1 .5 .7 .5 .1 .5 .1 .5-1 .5 1.2 .5-.8 .5-.1 .5-.1 .5 .4 .5-.3 .5-.1 .5 .6 .5-.9 .5-.2 .5 .8 .5-.1 .5 .1 .5-.8 .5 .9 .5-.2 .5 .6 .5-1.2 .5 .6 .5-.2 .5-.5 .5 .4 .5 .9 .5-.8 .5-.1 .5 .6 .5 0 .5 0 .5-.8 .5 .3 .5 .4 .5-.8 .5-.1 .5 .7 .5 .4 .5-1.2 .5-.5 .5 .5 .5 .2 .5 .4 .5 .3 .5-.3 .5-.2 .5 .4 .5-.5 .5 .5 .5-.3 .5 1.5 .5-.8 .5-.6 .5-.1 .5 .3 .5-.5 .5 .4 .5-.1 .5 .6 .5-.6 .5-.2 .5-.2 .5 0 .5 .4 .5-.1 .5 .5 .5-.7 .5 .7 .5-.3 .5-.1 .5-.9 .5 .3 .5 .9 .5 .2 .5-.5 .5 .3 .5-.5 .5 .1 .5-.1 .5 .7 .5-.2 .5-.2 .5-.1 .5 .4 .5 0 .5-.5 .5 1 .5-.6 .5-.2 .5 .6 .5-.2 .5-.5 .5 .2 .5-.8 .5 .2 .5-.8 .5 1.5 .5-1.4 .5 1.1 .5-.7 .5-.1 .5 .2 .5 .1 .5 .1 .5 .3 .5-.7 .3 .1 .2-.8 .5 .3 .5-.6 .3-.5 .2-.1 .5-.6 .5-.7 0 0 .5-1.2 .3-.6 .2 .3 .5-1.3 .5 .8 .2 1.2 .3-1.3 .5 1.7 0 .6 .5-.1 .5 2.5 .2-1.9 .3 1.9 .5 .5 .5 0 .2-.4 .3 .4 .5-.3 .5 .9 .5-.8 .5 .3 .5 .6 .5-.9 .5 .3 .5 .2 .5-.7 .5 1 .5-.4 .5-.8 .5 .6 .5-.2 .5 .1 .5 .3 .5-.3 .5 .8 .5-.7 .5 .8 .5-.4 .5 .4 .5-.6 .5 0 .5-.3 .5 .8 .5 .1 .5 .5 .5-.3 .5-.5 .5-.2 .5 .3 .5-.2 .5 .6 .5-.2 .5-.7 .5 0 .5 .9 .5-.5 .5-.2 .5 .6 .5-.7 .5 .1 .5-.1 .5-.6 .5 1.2 .5-.9 .5 .3 .5-.1 .5 .6 .5-.3 .5 0 .5-.8 .5 .7 .5-.6 .5 .7 .5 0 .5-.2 .5 .8 .5-.7 .5-.1 .5-.3 .5-.3 .5 .3 .2-.1 .3-1.2 .5 .5 .2-.6 .3-.2 .5-1.4 .2-1.2 0-.2 .3 0 .1-1.2 .1-1.1 .3-1.1 0-.4 .2-1.8 0-.3 .2-.1 .1 1 .1 .5 .1 .8 .1 1 .2 1.5 .2-.1 0 1.1 .3 .9 .1 .2 .4 1.3 .2 .5 .3 .4 .5 0 .2 .6 .3 1.2 .5-1.1 .5-.1 .5 1 .5 .2 .5-.1 .5-.5 .5 .9 .5-.7 .5-.1 .5 .3 .5 .3 .5 .3 .5 0 .5-.2 .5 .4 .5-.3 .5 .4 .5-1 .5-.1 .5 1 .5-.8 .5 .4 .5 .1 .5-.1 .5 0 .5 .7 .5-1.6 .5 1.4 .5 .6 .5-1 .5-.1 .5 .3 .5 .5 .5-1.3 .5 .5 .5-.1 .5 .3 .5-.1 .5 .2 .5-.4 .5 .2 .5-.3 .5 0 .5 .3 .5 0 .5-.4 .5 1.2 .5-.7 .5-.5 .5 1.1 .5-.8 .5 .6 .5-.2 .5 .2"/>
<path d="M4.0 124.0l.5-1 .5 0 .5 .3 .5-.2 .5 .1 .5 .5 .5 .5 .5-1.5 .5 .8 .5 0 .5-.1 .5 0 .5-.1 .5 .5 .5-.6 .5 .1 .5 0 .5 0 .5-.2 .5 .5 .5-.5 .5 0 .5-.1 .5-.5 .5 0 .5-.4 .5 .1 .5-.9 .5 0 .5 1.2 .5 .7 .5-.7 .5 1.6 .5-.7 .5 0 .5 .4 .5-.4 .5-.3 .5 1.1 .5-1.4 .5 .4 .5 .3 .5-.8 .5 .5 .5 .2 .5 .8 .5-1.4 .5 .4 .5 .3 .5-.2 .5-.6 .5 .7 .5-.1 .5 .1 .5 .3 .5 0 .5-.3 .5 0 .5-.6 .5 .4 .5 .1 .5-.2 .5 .2 .5-.4 .5 .9 .5 .3 .5-1.1 .5 .3 .5-.2 .5 .6 .5-.4 .5-.1 .5-.1 .5 .1 .5-.4 .5 .7 .5-.6 .5 .6 .5-.2 .5 .5 .5-.5 .5 .5 .5-.8 .5 .6 .5-.4 .5 .2 .5-.1 .5 .4 .5-1.3 .5 1 .5-.8 .5 1.1 .5-1.3 .5 .4 .5-.3 .5 1.4 .5-1.3 .5 .6 .5-.5 .5-.8 .2 .4 .3 .1 .3-.8 .2 .1 .2-.9 .3-.2 .3 .2 .2 .6 .2 1 .3-.2 .3 .3 .2-.1 .5 .2 .5 1.1 .5-1 .5 .2 .5 .3 .5-.1 .5 1 .5-1.8 .5 1.2 .5 .2 .5-.8 .5 .2 .5 .5 .5 .5 .5-1.1 .5-.3 .5 1.1 .5 .2 .5-.8 .5-.8 .5 1.5 .5-.7 .5 .5 .5-.5 .5-.1 .5-.1 .5 .8 .5 0 .5-1.5 .5 .4 .5 1.1 .5-.9 .5-.4 .5 .5 .5 0 .5-.1 .5-.1 .5 .1 .5 0 .5 .3 .5-.4 .5 .2 .5 .1 .5 .7 .5-.4 .5-.2 .5 .3 .5-.1 .5 .3 .5-.3 .5 .5 .5-.2 .5-.6 .5-.1 .5 .5 .5-.2 .5-.2 .5-.5 .5-.2 .5 1 .5 .2 .5 .1 .5-.9 .5 1 .5-.6 .5 .4 .5 0 .5-.5 .5 .1 .5-.7 .5 .5 .5-.4 .5 .9 .5-.2 .5 .4 .5-.3 .5-.4 .5 .5 .5-.3 .5 .4 .5-.1 .5-.5 .5 .5 .5 0 .5-.1 .5 .5 .5 .3 .5-.9 .5-.1 .5-.9 .5 .7 .5-.4 .5-1.6 .5 .5 .5 .1 .5-.6 .5 .6 .5 .6 .5 1 .5-.8 .5 .5 .5 1 .5-.9 .5 .2 .5-.4 .5-.6 .2 .4 .3 0 .5-1.1 0 .6 .5-.3 .3-.6 0-1.2 .2-.2 .2-.6 .3 .5 .1-.3 .4-.3 0-.7 .1-.2 .3 .5 0 0 .1-.4 .3 .5 .2 .6 .2 .1 0-.5 .3 .4 .5 1.8 .1 .3 .4 .1 .3 0 .2-.2 .5-.4 .5-.1 .5 .1 .5 .4 .5 .9 .5 .6 .5-.3 .5-.1 .5 .5 .5 .7 .5-.4 .5 .6 .5-.7 .5 0 .5-.5 .5 .4 .5 .9 .5-.5 .5 .2 .5 0 .5-.3 .5-.1 .5 .2 .5 .2 .5-.1 .5 .1 .5-.2 .5-.4 .5 .2 .5-.3 .5 .8 .5-1.4 .5 .8 .5 1.1 .5-1.2 .5-.4 .5 .4 .5 .6 .5-.6 .5 .3 .5-.2 .5-.1 .5 1.5 .5-1.3 .5-.2 .5 0 .5 .4 .5 .1 .5 .2 .5-.3 .5-.6 .5 .9 .5-.3 .5 .1 .5-.5 .5 .4 .5 0 .5 .3 .5-.6 .5 .6 .5-.1 .5-.5 .5 .1 .5-.2 .5 .7 .5-1.5 .5 .9 .5-.6 .5 .5 .5 .5 .5-.6 .5 .3 .5-.4 .5 1.2 .5-.5 .5 .1 .5-1 .5 .1 .5 .9 .5-.6 .5 0 .5 .2 .5-.6 .5 .8 .5-.3 .5 .1 .5-.4 .5 .4 .5-.5 .5 .7 .5 0 .5-.1 .5-.2 .5 0 .5-1.5 .5 1.4 .5-.8 .5-1.1 .5-.3 .5-.2 .5 1.6 .5 .9 .5 .5 .5-.7 .5-.1 .5 1.1 .5-.9 .5 1.3 .5-.9 .5-.4 .5 .8 .5 .3 .5-1.4 .5 1.2 .5-.7 .5 .7 .5-.8 .5-.6 .5 .9 .5 .2 .5 .5 .5-.2 .5-.4 .5-.4 .5-.1 .5 .1 .5-.2 .5 .2 .5-.9 .5 1.2 .5-.1 .5 1.2 .5-.8 .5-.5 .5 .5 .5-.7 .5 .3 .5-.5 .5 1.4 .5-.3 .5-.8 .5 .5 .5 .4 .5-.2 .5 0 .5-.5 .5 0 .5 .3 .5 .1 .5-1 .5-.9 .5 .1 .5-.9 .5 .8 .5 .6 .5 .7 .5 .4 .5-.4 .5 .1 .5-.6 .5 .2 .5 .6 .5 .4 .5 0 .5 .4 .5-.8 .5 0 .5 .4 .5-.4 .5 0 .5-.5 .5 .9 .5-.9 .5 .7 .5-.8 .5 1 .5-.9 .5 .8 .5-1 .5 .4 .5 .7 .5-.8 .5 .3 .5-.2 .5-.8 .5 1.1 .5 .1 .5-.7 .5 .7 .5-.6 .5 0 .5 .4 .5-.3 .5 1.2 .5-1.6 .5 1 .5 .1 .5-1.2 .5 0 .5 1 .5-.5 .5 .4 .5 .3 .5-.6 .5-.4 .5-.7 .5 1.2 .5-.4 .5 .5 .5 0 .5-.7 .5 1.3 .5-.2 .5-.2 .5-.9 .5 .1 .5-.5 .5-.8 .5-.3 .5 .6 .5-.1 .5 1.1 .5 0 .5 1 .5-.4 .5-1.2 .5 .9 .5 .2 .5 .5 .5-.6 .5 .1 .5-.2 .5 .5 .5-.4 .5-.1 .5-.1 .5 .6 .5-.5 .5-.4 .5 1 .5-.6 .5 .5 .5 0 .5 .4 .5-.1 .5-.6 .5 .2 .5-.5 .5 1.3 .5-.6 .5 .4 .5-.7 .5-.7 .5 1.5 .5-.6 .5 0 .5-.1 .5 .3 .5-.1 .5-.9 .5 1.1 .5-.7 .5 0 .5 1 .5-.4 .5-.5 .5-.7 .5 .9 .5 .1 .5-.2 .5-.5 .5 .2 .5-.2 .5 .6 .5 .2 .5 .1 .5-.7 .5 .4 .5 .1 .5-.4 .5 .2 .5 1 .5-.8 .5 .3 .5-.5 .5 .2 .5-.7 .5 .8 .5 .5 .5 .3 .5-.4 .5-.2 .5-.3 .5-.3 .5 .1 .5 .3 .5-.6 .5 .7 .5-.8 .5-.4 .5 .3 .5-.3 .5 .2 .5 1 .5-.6 .5 .2 .5 .4 .5 0 .5-.8 .5 .8 .5-.5 .5-.1 .5 .1 .5-.8 .5 .2 .5 .2 .5 .3 .5-.6 .5-.2 .5-.3 .5-.4 .5-.2 .5 .2 .5 .3 .5 .6 .5 .4 .5-.1 .5 0 .5 .9 .5-.8 .5-.3 .5 .6 .5 .6 .5-.8 .5 .5 .5-.7 .5 0 .5-.1 .5 .2 .5 .9 .5-1.3 .5 1.2 .5-1 .5 .3 .5 .5 .5-.1 .5-.1 .5-.8 .5 .9 .5-.6 .5 1.5 .5-1.2 .5 .2 .5-.5 .5 .2 .5-.3 .5 1 .5-.6 .5 .3 .5-.5 .5 0 .5 .7 .5-1 .5-.4 .5 .9 .5-.7 .5 .2 .5 .5 .5-.7 .5 .8 .5-.6 .5 1 .5-.1 .5-.7 .5 .2 .5-.2 .5 .4 .5 .5 .5-1.1 .5 1 .5-.9 .5 .2 .5-.4 .5 1.7 .5-.9 .5 .1 .5-.4 .5 .8 .5-1.4 .5 .9 .5 .9 .5-1.1 .5 .2 .5 .3 .5-.7 .5 .4 .5 .3 .5-.3 .5 .1 .5-.4 .5 .3 .5-.1 .5 .5 .5-.3 .5-.4 .5-1 .5 1.3 .5 0 .5-.6 .5-.5 .5 .5 .5 .9 .5-.8 .5 .3 .5 .3 .5 .5 .5-.5 .5 0 .5-.2 .5 .9 .5-.3 .5-.5 .5-.6 .5 .2 .5 .5 .5-.6 .5 .7 .5-.3 .5 0 .5 .1 .5-.1 .5-.6 .5 .2 .5 1.2 .5-1.5 .5 .2 .5 .7 .5-.5 .5-.3 .5-.2 .5 .8 .5 .2 .5 .1 .5-.5 .5 .4 .5-.9 .5 .5 .5-.3 .5 .4 .5 .2 .5 .2 .5-.9 .5 1 .5-.7 .5-.2 .5 .4 .5-.5 .5 .6 .5 .1 .5-.1 .5 .3 .5-.4 .5 .2 .5-.6 .5 .7 .5-.4 .5 .2 .5 .2 .5 .1 .5-.8 .5 .1 .5 .5 .5 .3 .5 0 .5 .2 .5 .2 .5-.3 .5-.3 .5-.4 .5 0 .5 .2 .5 .3 .5-.1 .5-.1 .5-.1 .5 .3 .5-.2 .5 .1 .5-.1 .5-.4 .5-.2 .5 .6 .5 0 .5-.3 .5-.2 .5 1.1 .5-1.3 .5 .2 .5 .3 .5-.6 .5 .5 .5 .7 .5-.3 .5-.1 .5 0 .5-.2 .5 .3 .5-.4 .5-.1 .5 .2 .5 .3 .5-.2 .5 .1 .5-1.1 .5 1.3 .5 .5 .5-.4 .5-.7 .5-.3 .5 .5 .5-.5 .5 .8 .5-.6 .5 .7 .5 .2 .5-1.4 .5 .9 .5-.4 .5-.3 .5 .3 .5 .1 .5 .5 .5-1.1 .5 1.1 .5 .3 .5-.6 .5-.1 .5-.2 .5-.5 .5 .8 .5 0 .5 .1 .5 .9 .5-.8 .5-.1 .5 .6 .5-1.2 .5 .1 .5 .3 .5-.1 .5 .6 .5-.4 .5 .8 .5 0 .5-.3 .5-.5 .5 .4 .5 .1 .5-.8 .5 .5 .5 .2 .5-.3 .5 .6 .5-.2 .5-.9 .5 .4 .5-.5 .5 .6 .5-.7 .5 .8 .5-.3 .5 .2 .5-.5 .5-.7 .5 1.3 .5-1 .1 .6 .4-.6 .5-.2 .4 .2 .1-.8 .5-.2 .4-2.1 .1 .9 .2-1 .3-.8 .1-.2 0 0 .4-1 0-1.5 .2 0 0-.4 .2 .4 .1-.5 .1 .8 .2 .7 0 .5 .2 1 .2 .1 .3 1.1 0-.5 .1 1 .4 1 .5 .1 0 .7 .5-.9 .5 .4 .3 .3 .2 .5 .5 .3 .5 .1 .5 .1 .5 .4 .5-.5 .5-.3 .5 0 .5 1.5 .5-1.9 .5 1 .5 .7 .5-.4 .5-.6 .5 .4 .5 .3 .5 .1 .5-1.1 .5 .5 .5-.8 .5-1.1 .5-.4 .5-.1 .5 1.1 .5 1.4 .5 .9 .5-.2 .5-.1 .5 1 .5-1.4 .5 .9 .5-.6 .5 .2 .5 .1 .5 .6 .5-1.1 .5 .2 .5-.4 .5 .8 .5-.4 .5 .3 .5-.6 .5 .3 .5 .5 .5-.5 .5 .3 .5-.1 .5-.4 .5-.5 .5 1.2 .5-.4 .5 .4 .5-1.2 .5 .2 .5-.2 .5 .6 .5 .8 .5-.1 .5-.3 .5 0 .5 .3 .5-.5 .5 .2 .5-.1 .5-1 .5 .7 .5 .7 .5-.8 .5 .2 .5-.2 .5 .1 .5 .7 .5-.5 .5-.3 .5-.8 .5 1.1 .5-.5 .5 .1 .5 1 .5 0 .5-1.2 .5 1.2 .5-.2 .5-.5 .5 .6 .5-1 .5 .1 .5-.1 .5 .1 .5 .8 .5-.9 .5 0 .5 .1 .5 .5 .5-.3 .5 .5 .5-.7 .5-.3 .5 .4 .5 .3 .5-.4 .5 .5 .5 .7 .5-1 .5 .3 .5 .6 .5-.8 .5-.1 .5-.1 .5 .6 .5 0 .5-.3 .5 0 .5 .5 .5-.2 .5-1 .5 .5 .5 .1 .5 .2 .5-.4 .5-.2 .5 .1 .5-.6 .5 .8 .5-.3 .5 .5 .5-.7 .5 .3 .5-.2 .5-.1 .5 .7 .5-.5 .5 .4 .5-.7 .5 .5 .5-.7 .5 .5 .5-.1 .5 .5 .5-.1 .5-.1 .5 .5 .5-.3 .5 .2 .5 .1 .5-.3 .5 0 .5 .3 .5-.3 .5 .3 .5 .3 .5-.1 .5-.6 .5-.3 .5 .5 .5-.1 .5 .5 .5-.6 .5 .1 .5 .4 .5-.5 .5 .1 .5 .8 .5-.1 .5-.4 .5-.1 .5-.5 .5 .6 .5-.2 .5 0 .5-.3 .5 .2 .5-.1 .5 .2 .5 .5 .5-.4 .5-.9 .5 .3 .5-.2 .5 .3 .5 .6 .5 0 .5-.4 .5 .4 .5-.3 .5-.3 .5 .1 .5 .2 .5 .9 .5-1.2 .5 1.1 .5 0 .5-.7 .5 0 .5-.3 .5 .3 .5 .2 .5-.3 .5 .4 .5 .1 .5-.4 .5 0 .5-.2 .5 .2 .5-.6 .5 .6 .5-.1 .5-.4 .5 1.3 .5-1.3 .5 .1 .5 .5 .5-.9 .5 .5 .5-.2 .5 .3 .5 .3 .5 .3 .5 .3 .5-.1 .5 .2 .5-.3 .5-.4 .5 .6 .5-.6 .5-.1 .5 .9 .5-.3 .5-.2 .5 .2 .5 0 .5-1 .5 .5 .5-.5 .5 .6 .5-.4 .5 .8 .5-.3 .5-.6 .5 .2 .5-.5 .5 .5 .5 .1 .5-.1 .5-1 .5 .6 .5 .3 .5-.1 .5 .4 .5-1 .5 .8 .5-.5 .5 .4 .5 .1 .5 .1 .5-.5 .5 .4 .5-.6 .5 0 .5 .8 .5-.2 .5-.6 .5 .3 .5 .4 .5 .7 .5-.2 .5-.1 .5-1 .5 .6 .5 .3 .5-.1 .5 0 .5-.3 .5 .9 .5-.2 .5-.6 .5-.4 .5 1.2 .5-1 .5 .7 .5 .4 .5-1.2 .5 .6 .5-.3 .5 .4 .5 0 .5 .7 .5-.5 .5-.4 .5 .4 .5-.6 .5-.1 .5 1 .5-1.3 .5 0 .5 .2 .5-.5 .5-.5 .5 1.3 .5-.7 .5 .2 .5 .1 .5-.2 .5 0 .5 .5 .5 1 .5-.6 .5 0 .5-1 .5 .6 .5-.5 .5 .8 .5-.4 .5 0 .5 0 .5-.3 .5-.4 .5 .9 .5-.8 .5 .1 .5 .4 .5-.1 .5 .4 .5 .4 .5-.3 .5 0 .5 0 .5 .4 .5-1.2 .5 .9 .5-.6 .5-.1 .5 .5 .5-.2 .5 .4 .5 .1 .5-1.4 .5 .9 .5 .9 .5-.5 .5 .3 .5-.5 .5-.7 .5 .2 .5 .8 .5 .1 .5-.7 .5 .2 .5 .2 .5-.9 .5 .6 .5 .8 .5 .2 .5-1 .5 .7 .5-1 .5-.2 .5-.6 .5 1.3 .5-.6 .5 1.2 .5-.9 .5-.1 .5-.9 .5 1.4 .5-.8 .5 .1 .5-.9 .5 1.3 .5 0 .5-.7 .5 .3 .5 .1 .5 .3 .5-.4 .5 .6 .5-.8 .5-.2 .5 .1 .5-.9 .5 .6 .5 .8 .5-.4 .5-.6 .5 .4 .5-1.1 .5 .6 .5 .1 .4-.1 .1-.7 .5 .4 .5-.1 .4-1.4 .1 .3 .5-1.8 .5-1.2 .1 .8 .4-1.1 .4-.7 .1-.6 .5-.5 .1 .5 .4 .6 .3-.2 .2-.2 .5 2.4 .1-.1 .4 1 .5 .7 .3 1.4 .2-.7 .5 .8 .5-.6 .3 .8 .2 0 .5 .6 .5 .4 .5-.3 .5 1.1 .5-1.1 .5 .4 .5 .3 .5-.5 .5 .8 .5 .1 .5-.4 .5 1 .5-.8 .5 .1 .5-.5 .5-.4 .5 .5 .5 .1 .5-.1 .5 .5 .5-1.3 .5 .5 .5-.3 .5 1.3 .5-.8 .5 0 .5-.3 .5 .8 .5-.6 .5 .3 .5-1 .5 1.3 .5-.3 .5 .1 .5 .3 .5-.6 .5 .1 .5 .4 .5-.1 .5-.3 .5 .1 .5-.2 .5 .5 .5 .1 .5-.4 .5 .8 .5-1.5 .5 .5 .5 .8 .5-.9 .5-.5 .5 1.2 .5-.3 .5-.7 .5 .8 .5-.7 .5-.1 .5 .5 .5-.2 .5-.3 .5 .3 .5-.3 .5 .2 .5-.3 .3 .2 .2-.7 .5-.9 .4-.5 .1 .2 .5-.5 .2-1.2 .1-.8 .2-.2 .2-2.1 .1 .6 .2-2.3 .1-.2 .2-1.6 0-.5 .2-.3 .2 .4 .1 1.4 .1 1.4 .1 2 .3 .7 .1 .1 .1 .3 .2 1.7 .3-.2 .2 1 .3 .9 .5-.1 .3 1.5 .2-.1 .5-.4 .5 .2 .5-.2 .5 .1 .5 .8 .5 .2 .5-.1 .5 0 .5-.4 .5 .4 .5-.7 .5 .6 .5 .6 .5-.1 .5-.7 .5 0 .5 .7 .5 .1 .5-1.4 .5 .4 .5 .3 .5 .4 .5-.9 .5 .6 .5-.5 .5 1.2 .5-.8 .5-.2 .5 0 .5 .6 .5-.2 .5-.7 .5 .6 .5-.6 .5 .3 .5-.3 .5 0 .5 .3 .5-.2 .5 .7 .5 .1 .5-.5 .5-.4 .5 .9 .5-1.2 .5 0 .5 1.2 .5 0 .5 .2 .5-.5 .5-.4 .5 .3 .5 .5 .5-.5"/>
<path d="M4.0 152.2l.5 0 .5 .8 .5-.7 .5 .6 .5-.4 .5-.3 .5 .6 .5-.4 .5 .8 .5 0 .5-.3 .5 .2 .5 0 .5-.4 .5 .4 .5-.5 .5 .3 .5-.8 .5 .4 .5 .1 .5-.6 .5 .1 .5-.1 .5 .5 .5-.7 .5 .3 .5 .2 .5-1 .5-1.4 .5 .6 .5 1 .5 0 .5 .8 .5 0 .5 0 .5-.3 .5 0 .5 .1 .5 .1 .5 .2 .5-.1 .5-.3 .5 .2 .5 .1 .5-.8 .5 .4 .5 0 .5 .2 .5 0 .5 0 .5-.2 .5 .6 .5-.1 .5-.8 .5 .8 .5-.5 .5 1.2 .5-.8 .5 0 .5 .2 .5 0 .5 0 .5 .7 .5-.5 .5 .2 .5 .1 .5-.8 .5 1.1 .5-.5 .5 .2 .5-.8 .5 .7 .5-.2 .5-.4 .5 1.2 .5-.8 .5-.3 .5 .2 .5 .2 .5 .1 .5-.2 .5 .2 .5 .1 .5-1.1 .5 .3 .5-.3 .5 .5 .5 .5 .5-.4 .5-.7 .5 .3 .5 .5 .5-.6 .5 .2 .5 .1 .5-.9 .5 1.1 .5-.3 .5 0 .5-.8 .1 0 .4-.2 .3 0 .2-.4 .4-.9 .1 .5 .3-.9 .2-1.3 .1 0 .3 1.4 .1-.7 .3 1.4 .2 .5 .4-.2 .1 .3 .5 .5 .1-.3 .4 .1 .5 .4 .5 .6 .5-.6 .5 .2 .5 0 .5-.3 .5 1.2 .5-1.6 .5 .8 .5 .5 .5-.7 .5 .8 .5 .3 .5-.8 .5 .4 .5-.5 .5 .7 .5-.2 .5 0 .5 .5 .5-.3 .5 .3 .5-.3 .5-.8 .5 .6 .5 .1 .5-.8 .5 1.2 .5-.6 .5 .1 .5-.5 .5 .4 .5 .1 .5-.3 .5 .2 .5-.9 .5 1.5 .5-1 .5-.4 .5 .5 .5 .1 .5 .6 .5-.6 .5 .5 .5-.6 .5 1.3 .5-.7 .5 .6 .5-1.3 .5 .7 .5-.7 .5 .6 .5 0 .5-.9 .5 .2 .5 0 .5-.2 .5 .3 .5-.1 .5-.2 .5 .7 .5 .2 .5-.8 .5 .3 .5 .3 .5 0 .5-.2 .5 .7 .5 .1 .5 0 .5-.3 .5 .9 .5 0 .5-.9 .5 0 .5 .6 .5-.9 .5 .5 .5-.2 .5-.4 .5 .2 .5-.6 .5 .3 .5-.6 .5 1.8 .5-.4 .5-.2 .5-.6 .5-.1 .5-.8 .5-.3 .5-.1 .5-.8 .5 .7 .5 .5 .5 0 .5 .1 .5 .6 .5 .2 .5-1.1 .5 1.2 .1-.2 .4-.9 .5-.4 .5-.1 .1 .3 .4-.8 .5-.9 .5 0 0-1 .5 .2 .2 .1 .3-.7 .5 0 .5 0 .3 .4 .2 0 .5 .2 0 .3 .5 .3 .5 0 .4 .5 .1-.4 .5-.2 .5 .3 .4 1.1 .1 .9 .5 .2 .5 .2 .5-.1 .5 .8 .5-.1 .5-.1 .5 .2 .5 .7 .5-.7 .5 .8 .5-.2 .5-.4 .5 .3 .5-.3 .5-.3 .5 .3 .5-.3 .5 .7 .5-.2 .5 .3 .5 .1 .5-1.6 .5 1.5 .5-.9 .5 .8 .5-.5 .5 .4 .5 .4 .5-1.3 .5 .7 .5-.1 .5-.9 .5 1.1 .5-.3 .5-.3 .5 0 .5 1.6 .5-1.5 .5-.6 .5 .4 .5 .3 .5 0 .5 .1 .5-.4 .5 .7 .5-.5 .5-.3 .5 .2 .5 .2 .5 .5 .5-.2 .5-.3 .5 .1 .5 .1 .5 .7 .5-1.2 .5 .4 .5 0 .5-.8 .5 .4 .5-.1 .5-.3 .5 .4 .5 .1 .5 .1 .5-.5 .5 .2 .5 .9 .5-1.4 .5 .6 .5 .3 .5-.2 .5 .2 .5-.1 .5 .3 .5 .2 .5-.6 .5 .2 .5-.1 .5-.1 .5 .2 .5-.4 .5 .8 .5 .4 .5 0 .5-.1 .5-1 .5 1 .5-.9 .5 .2 .5 .7 .5-1.4 .5-.1 .5-.8 .5-.2 .5 .5 .5 1.2 .5-.2 .5 .7 .5 .1 .5-1.1 .5 .4 .5 .1 .5-.4 .5 0 .5 .6 .5-.1 .5-.6 .5 .6 .5 .4 .5-.6 .5 .1 .5 1.1 .5-.1 .5-1.2 .5 .1 .5 .7 .5-.6 .5 .4 .5-.1 .5 .4 .5-1.3 .5 .2 .5 .4 .5 .9 .5-.5 .5-.7 .5 .9 .5 0 .5-.4 .5-.1 .5 .3 .5 .3 .5-.5 .5 .2 .5-.2 .5-.1 .5-.2 .5 .5 .5-.2 .5 0 .5 .5 .5-.2 .5 0 .5-1.3 .5-.1 .5-.8 .5-.1 .5 0 .5 2.1 .5 .2 .5-.5 .5 0 .5 .5 .5-.2 .5 .9 .5-1.3 .5-.2 .5 .6 .5 .1 .5 .1 .5 .2 .5 .5 .5-1 .5-.1 .5-.6 .5 .8 .5 .3 .5-.5 .5 .5 .5-.5 .5 .6 .5-.5 .5-.6 .5 .2 .5-.3 .5-.1 .5 .9 .5 .4 .5 .5 .5-.8 .5-.1 .5-.3 .5 1 .5-.3 .5-.5 .5 .5 .5-.1 .5-1 .5 1 .5-.2 .5-.3 .5 0 .5 .8 .5-.1 .5 .1 .5-1.2 .5 .2 .5 .6 .5-.9 .5 .2 .5-.4 .5 1.5 .5-.4 .5-.2 .5-.1 .5-.3 .5 0 .5 .4 .5-.6 .5 .6 .5-.9 .5-.9 .5 .3 .5-.6 .5 .3 .5-.4 .5 0 .5 1.7 .5-.6 .5 1.2 .5-1.1 .5-.1 .5 .9 .5 .2 .5-.1 .5-.5 .5 .9 .5-1 .5 .5 .5-.1 .5 .2 .5 .6 .5-.6 .5 .5 .5 0 .5-1 .5 .2 .5 .4 .5-.1 .5 .4 .5-1 .5 1.1 .5 0 .5-.4 .5-.5 .5 .6 .5-.2 .5 .5 .5-.3 .5 .4 .5-.5 .5 .8 .5-1.6 .5 .6 .5 .6 .5-.9 .5 1 .5-.9 .5 .6 .5-.5 .5 .2 .5 .3 .5-.2 .5-.1 .5 1 .5-.9 .5-.5 .5 .8 .5-.1 .5 .2 .5 .2 .5-1.2 .5 .8 .5 .1 .5-.5 .5 .1 .5-1.3 .5 1 .5 1 .5-1.5 .5 .6 .5 .3 .5 .1 .5 .5 .5-1.4 .5 .8 .5 .4 .5-.9 .5 .5 .5 .9 .5-.3 .5-.3 .5-1.3 .5 1 .5 .2 .5-.3 .5 .1 .5 1.3 .5-1.4 .5-.4 .5 .5 .5-.3 .5 0 .5 .2 .5 .4 .5-.2 .5-.5 .5 .5 .5 .3 .5-.4 .5 .7 .5-.1 .5-.8 .5 .1 .5-.3 .5-.6 .5-.7 .5 .3 .5 .1 .5 .2 .5 1 .5-.1 .5 .2 .5-.2 .5 .1 .5-.3 .5 .4 .5 .2 .5-.4 .5 .3 .5-1 .5 .4 .5 .9 .5 .2 .5-.6 .5-.1 .5-.5 .5 .7 .5 .3 .5-.9 .5 .8 .5 .1 .5 0 .5-.7 .5 .7 .5-.9 .5 1.3 .5-.6 .5-.5 .5 1 .5-.1 .5-.8 .5 1.2 .5-1.3 .5 .5 .5 .4 .5-1.5 .5 1.3 .5-.4 .5 0 .5-.5 .5 .6 .5-.6 .5 0 .5 .2 .5-.3 .5 1.2 .5-1.2 .5 .2 .5 .2 .5 .1 .5 .3 .5 0 .5-.4 .5 0 .5 .2 .5 .3 .5 0 .5-.5 .5-.7 .5 1.8 .5-.5 .5-.3 .5 .1 .5-.4 .5-.2 .5 .3 .5 .1 .5-.2 .5-.3 .5 .5 .5 .4 .5-.5 .5 .2 .5-.8 .5 .7 .5 .1 .5-.5 .5-.2 .5 .9 .5-.5 .5 .5 .5-.4 .5 .5 .5-.5 .5-.5 .5 .6 .5-.1 .5 .3 .5-.4 .5 0 .5 .5 .5 .1 .5-.2 .5 .1 .5-.2 .5 .2 .5 0 .5-.2 .5-.1 .5 .1 .5 .9 .5-1 .5-.1 .5 0 .5 .2 .5 .1 .5-.6 .5-.3 .5 .9 .5-.8 .5 .8 .5 0 .5 .4 .5 .2 .5-.5 .5-.4 .5-.3 .5 .2 .5 .3 .5-.9 .5 .9 .5 0 .5 .2 .5-.5 .5 .1 .5-.4 .5 0 .5-.6 .5 .7 .5 .5 .5-.7 .5 0 .5-.5 .5 1.1 .5-.9 .5 .7 .5-.2 .5-.4 .5 .8 .5-.3 .5 .1 .5 .1 .5-.2 .5-.1 .5 .4 .5-.4 .5 .2 .5-.3 .5-.4 .5 .4 .5 .1 .5 .2 .5 .5 .5-1.2 .5 .8 .5-1 .5 .5 .5 .2 .5-.7 .5 .2 .5 .8 .5 0 .5 0 .5-.3 .5 1.2 .5-.9 .5-.3 .5 1 .5-.4 .5-.4 .5 .7 .5-.5 .5 .3 .5-.2 .5-.5 .5 .9 .5-.4 .5-.4 .5 .1 .5 .7 .5-.5 .5 .2 .5 .2 .5-.2 .5-.7 .5 .9 .5 .1 .5 0 .5 .3 .5-.6 .5 .2 .5 .3 .5-.8 .5 .9 .5-.1 .5-.4 .5 .5 .5-.5 .5-.7 .5 .8 .5-.3 .5 0 .5-.1 .5 .5 .5-.4 .5-.5 .5 .5 .5 .1 .5-.6 .5 .1 .5 .1 .5-.1 .5 .4 .5 .3 .5 .4 .5-.2 .5-.1 .5 .1 .5 .1 .5-.6 .5 .4 .5-.1 .5-.2 .5-.2 .5-.1 .5 .1 .5-.5 .5 .7 .5-.3 .5 0 .5 0 .5 .1 .5-.5 .5 .2 .5-.6 .5-.3 .5 .2 .5 1.4 .5-1.4 .5 1 .5 .4 .5-.8 .5 .9 .5 0 .5-.4 .5 .6 .5-.8 .5-.6 .5 .4 .5-.5 .2-.5 .3-.1 .5 1.3 .5-1.7 0 .2 .5-.9 .5-.6 0-.2 .3-.8 .2-.9 .2-.6 0 0 .3-.8 .1 .4 .2-1.5 0 .3 .2-.9 .2 .4 .2 .6 0 .6 .1-.5 .3 2.1 .2 1.6 .1-.4 .1 .8 .3 0 .5 .3 .1 .5 .4 .4 .5 .9 .4 .5 .1-1.1 .5 .3 .5 .2 .5-.1 .5-.3 .5 .5 .5 .1 .5 0 .5-.6 .5 .6 .5-.6 .5 1.1 .5-.7 .5 .3 .5 0 .5-.1 .5-.2 .5-.4 .5 1.2 .5-1.2 .5-1.4 .5 0 .5-.8 .5 1.9 .5 .5 .5 .8 .5-.1 .5 .1 .5-.2 .5 .3 .5 .4 .5-1.3 .5 .8 .5-.1 .5 .1 .5-.7 .5 1.2 .5-.7 .5 .3 .5-.1 .5-.4 .5 .5 .5-.6 .5 .4 .5 .3 .5 .2 .5 .1 .5-.1 .5 .9 .5-.7 .5-.7 .5 .3 .5-.1 .5 .2 .5-.2 .5-.1 .5 1 .5-.6 .5-.2 .5 0 .5 0 .5 .7 .5-.4 .5 .2 .5-1.8 .5 1.5 .5 .2 .5 .4 .5-.8 .5-.7 .5 1 .5-.5 .5-.4 .5 .5 .5 .7 .5 .1 .5-.2 .5-.7 .5 1.5 .5-1.6 .5 .5 .5-.6 .5 1.2 .5-.4 .5 .2 .5-.4 .5-.1 .5 .1 .5-.8 .5 1.2 .5-.1 .5-.5 .5 .1 .5 .1 .5 .6 .5-.5 .5-.2 .5-.2 .5-.4 .5 .3 .5 .3 .5-.1 .5 .1 .5 .3 .5-.1 .5-.1 .5 .2 .5-.2 .5-.1 .5 .2 .5-.9 .5 1.2 .5-1 .5 .9 .5-.4 .5 .5 .5-.5 .5-.4 .5 .9 .5-.4 .5-.1 .5 0 .5 .4 .5-.1 .5-.3 .5-.7 .5 .4 .5 .2 .5 .7 .5-.6 .5-.2 .5 .6 .5-.6 .5 .1 .5 0 .5-.7 .5 1.1 .5-.3 .5-.2 .5-.4 .5 .6 .5 .5 .5-.9 .5-.1 .5 .6 .5-.8 .5-.3 .5 .8 .5-.1 .5 .1 .5-.1 .5 .3 .5-.2 .5-.2 .5 0 .5 .5 .5 .1 .5-.1 .5-.1 .5-1.6 .5 .9 .5 .3 .5 .2 .5-.8 .5 1.3 .5-.5 .5-.4 .5 .4 .5-.2 .5-.1 .5 .6 .5-.4 .5-.3 .5 .4 .5 .2 .5-.3 .5 1 .5-.9 .5 1.2 .5-.4 .5-.8 .5 .4 .5 .4 .5-.6 .5-.5 .5 .5 .5 .8 .5-1.5 .5 .9 .5-.3 .5 0 .5-.1 .5 0 .5 .6 .5-.2 .5-.7 .5 1.1 .5-1.2 .5 .8 .5-.2 .5 .5 .5-.4 .5 .3 .5-.5 .5 .5 .5-.3 .5 .7 .5-1.1 .5 .7 .5-.3 .5-.1 .5-.3 .5 .4 .5-.8 .5 .1 .5 .9 .5-1 .5 1.3 .5-.7 .5 .2 .5-.1 .5 .2 .5-.3 .5-.1 .5 .1 .5 .5 .5 .1 .5 0 .5-.4 .5-.2 .5-.6 .5 1 .5 0 .5-.5 .5 .5 .5 .2 .5-.5 .5 .4 .5-.3 .5-.9 .5 .5 .5 0 .5 .4 .5-.6 .5 .2 .5-.3 .5 .4 .5 0 .5 .4 .5 0 .5-.2 .5 .1 .5-.1 .5 .1 .5 .6 .5-1.6 .5 1 .5 .2 .5 .3 .5-1 .5 .6 .5 .2 .5-.6 .5-.6 .5 .6 .5-.4 .5 .7 .5-.6 .5 1.1 .5-.6 .5-.4 .5 .2 .5-.2 .5 .6 .5 .5 .5-.7 .5 .5 .5-.7 .5 .5 .5 .7 .5-1.6 .5 1.1 .5-.1 .5-1.4 .5 .1 .5 .2 .5 .7 .5-.6 .5 .1 .5 .4 .5-.2 .5 0 .5-.2 .5 .6 .5-.7 .5 1 .5-.8 .5-.2 .5 .7 .5-.1 .5-1 .5 1 .5-.6 .5 .3 .5 .7 .5-.7 .5 .6 .5-.3 .5 1 .5-.9 .5-.5 .5 0 .5 .1 .5 .4 .5-.1 .5 .4 .5-.4 .5 0 .5 0 .5-.2 .5 .2 .5 .2 .5 0 .5-.6 .5-.5 .5 .4 .5 .4 .5-1.1 .5 .8 .5 .4 .5-.4 .5-.2 .5 1.2 .5-.1 .5-.7 .5 .7 .5 0 .5-1 .5 1.6 .5-1.5 .5 .2 .5-.4 .5 .5 .5-.6 .5 .5 .5 .4 .5-.4 .5-.2 .5 .8 .5-1 .5 .8 .5-.5 .5 .2 .5-.1 .5 .1 .5-.1 .5-.2 .5 .1 .5 .3 .5-.2 .5-.5 .5 .1 .5-.1 .5 .3 .5 0 .5-.1 .5-.4 .5 .2 .5-.5 .5-.6 .5 1.2 .5-.6 .5 .3 .5-.1 .5 .8 .5-.8 .5 .7 .5-.3 .5-.4 .5-.2 .5 .8 .5-.1 .5 .1 .5 .4 .5-.8 .5-.1 .5-.3 .5-.1 .5-.4 .5-.4 .5 .8 .5-2.1 0 .9 .5-.6 .5-.9 .2-.9 .3-.2 .5-1.1 0-.3 .5-.1 .2-.2 .3 .1 .4 1.1 .1-.6 .5 1.6 .2-.1 .3 1.1 .5 .7 .4 .6 .1-.4 .5 .5 .5 .4 .4 .6 .1 .3 .5 .4 .5-.5 .5 .3 .5-.6 .5-.2 .5 .6 .5 .1 .5-.4 .5 0 .5 .9 .5-.6 .5-.3 .5 1.7 .5-.8 .5-.1 .5 .4 .5-.5 .5 1.1 .5-1.3 .5 .2 .5 .5 .5-.2 .5 .9 .5-1.3 .5 .3 .5 .4 .5 .1 .5 .1 .5-.3 .5 .7 .5-1.2 .5 .3 .5 .2 .5-.5 .5 0 .5-.1 .5-.1 .5-.3 .5 .2 .5-.4 .5 .8 .5-.9 .5 1.5 .5-.1 .5-.3 .5-.6 .5-.1 .5 .7 .5-.4 .5 .1 .5-.6 .5 .8 .5-.7 .5 .4 .5-.7 .5 .5 .5 .5 .5-.3 .5 0 .5 .6 .5-.4 .5 .5 .5-1.7 .5 1 .5-.3 .5-1.3 .5-.6 .1 .8 .4-1.8 .4-1.2 .1 .3 .4-2.5 .1-.1 0-.7 .3-1.6 .2-1.3 0-.4 .2-1.6 .2 2.2 .1 .5 0-.2 .1 1.9 .4 1.5 0 1.6 .1-.7 .3 2.5 .1-.3 .4 .6 .1 .6 .5 .9 .5 .5 .5 .5 .5-.6 .5 .8 .5 .2 .5-.4 .5-.2 .5 0 .5 .8 .5 .1 .5-.7 .5-.2 .5 1.1 .5-1.1 .5 .7 .5-.4 .5-.4 .5 .8 .5-.1 .5 .6 .5 .4 .5-1.1 .5 .6 .5 0 .5-.7 .5-.1 .5 1 .5-.7 .5 .2 .5-.1 .5 .1 .5-.1 .5 .6 .5 .3 .5-.6 .5-.4 .5 .6 .5-.7 .5 .3 .5 .8 .5 .4 .5-.8 .5-.7 .5 .8 .5-1.3 .5 .6 .5 1 .5-.3 .5-.9 .5 0 .5 1 .5-.3 .5-.2 .5 .5 .5-.4"/>
<path d="M4.0 180.8l.5 .7 .5 .2 .5-.3 .5-.7 .5 .9 .5-.5 .5 .8 .5-.3 .5 .1 .5 .2 .5-.5 .5 .6 .5 .2 .5-.3 .5 .4 .5-.8 .5 .7 .5-.3 .5-.5 .5 .4 .5-.2 .5 .1 .5 .2 .5 .3 .5-.7 .5 .1 .5-.9 .5 .4 .5 0 .5-.8 .5-.5 .5 .1 .5 .4 .5 .7 .5-.4 .5 .2 .5 1 .5-.8 .5 1.2 .5-1.4 .5 .8 .5-.6 .5 .6 .5-.5 .5 .5 .5 0 .5-.1 .5 .5 .5 .4 .5-.8 .5 .7 .5-.3 .5-.1 .5 .9 .5-1.9 .5 .6 .5-.5 .5 .5 .5 0 .5 1.6 .5-1.4 .5 .5 .5-.2 .5-.7 .5 .4 .5 .5 .5-.7 .5 0 .5 .2 .5-.9 .5 .3 .5 .5 .5 .1 .5-.7 .5 .3 .5 0 .5 0 .5 .3 .5-.2 .5 0 .5-.7 .5 .1 .5 .6 .5-.7 .5 .8 .5-.3 .5 0 .5 .6 .5-.5 .5 0 .5 .1 .5 .4 .5 1 .5-2 .5 .8 .5-.1 .5 .4 .5-.6 .5-1 .5 1.4 .5-1.2 .2 .3 .3-.8 .4-.3 .1 .1 .5-.5 .4-.9 .1-.8 .2 .3 .3-.1 0 .3 .4 .9 .1 .5 .5 .4 .5 .8 .2 .3 .3 .1 .5-.2 .5 1.2 .5-.9 .5 .6 .5-.2 .5 .4 .5-1.4 .5 1.8 .5-.9 .5-.5 .5 .6 .5 .9 .5-.7 .5-.8 .5 .4 .5 .7 .5-1.1 .5 .5 .5-.1 .5 1 .5-1 .5 .7 .5-.9 .5 0 .5 .7 .5-.2 .5-1 .5 1 .5 0 .5-.5 .5 .3 .5 0 .5-.3 .5-.1 .5 0 .5 .2 .5-.5 .5 .6 .5-.6 .5 .6 .5 0 .5-.4 .5 .8 .5 .5 .5-.3 .5-1.1 .5 1.2 .5-.5 .5 0 .5-.2 .5 .2 .5 .6 .5-.3 .5-.4 .5-.1 .5 .1 .5 .4 .5 .5 .5-1.2 .5 .4 .5-.2 .5-.1 .5 .5 .5 .1 .5-.8 .5 .2 .5 .9 .5-.3 .5 .1 .5-.4 .5 .1 .5 .4 .5-.5 .5-.3 .5 .4 .5 .4 .5-.9 .5 .8 .5-.2 .5-.7 .5 .3 .5-.1 .5 .2 .5 0 .5-.9 .5-.1 .5 .9 .5-.8 .5-.9 .5-.1 .5 .5 .5-1.1 .5 1 .5 .2 .5 1 .5 .4 .5-1 .5 .8 .5-.3 .5 0 .5 .2 .5-.5 .5 .1 .5 .7 .5 .1 .5-.5 .5-.4 .5 1.6 .5-.5 .5-.3 .5-.8 .5-.1 .5-.8 .5-.5 .5 1 .5-.7 .5 .1 .5 .4 .5 .4 .5 .1 .5 .5 .5-.2 .5 .1 .5 .3 .5 0 .5 .6 .5-.6 .5-.3 .5 .5 .5 .6 .5-.8 .5 .3 .5-.1 .5 .3 .5 0 .5-.5 .5 .3 .5 .5 .5 .1 .5-.1 .5 0 .5-.5 .5 0 .5 .5 .5-.9 .5 .4 .5-.8 .5 .6 .5-.2 .5-.2 .5 .7 .5-.6 .5 .2 .5 .1 .5-.2 .5 .9 .5-.8 .5 .3 .5-.6 .5 .4 .5 .1 .5 0 .5-.2 .5 .3 .5 .5 .5-.8 .5 0 .5-.2 .5 1.1 .5-.4 .5-.5 .5 0 .5-.5 .5 .2 .5 .2 .5 0 .5-.4 .5 .1 .5 .6 .5-.1 .5-.9 .5 .9 .5 .5 .5-.8 .5 .3 .5-.7 .5 .9 .5-.8 .5-.1 .5 .3 .5 1.1 .5-1.2 .5-.3 .5 .8 .5-.1 .5 .6 .5-1.1 .5-.1 .5 .5 .5 .4 .5 0 .5 .3 .5-1.1 .5 .3 .5 .3 .5 .3 .5-.2 .5-.4 .5-.5 .5 .2 .5-.9 .5 .7 .5-1.2 .5 2 .5-.8 .5 .4 .5 0 .5 .1 .5-.2 .5 .2 .5 .2 .5-.2 .5 .5 .5-.3 .5 .1 .5 .6 .5-.4 .5 0 .5-.1 .5 .1 .5 .3 .5-.6 .5 .8 .5 .2 .5-.2 .5-.7 .5-.5 .5 .5 .5 .2 .5 .3 .5-.4 .5-.1 .5 .7 .5-.9 .5 .7 .5-.1 .5-.9 .5 .6 .5-.3 .5-.2 .5-.4 .5 .1 .5 .8 .5-.4 .5 .3 .5-.6 .5 .2 .5-.1 .5-.7 .5-.6 .5 0 .5-.2 .5-.4 .5 .3 .5 1.4 .5 .9 .5-1 .5 .7 .5 .6 .5-.8 .5 .6 .5-1.7 .5 1.7 .5-.5 .5-.8 .5 1.2 .5 .1 .5 .1 .5 0 .5-.5 .5-.2 .5 .1 .5 .3 .5 .2 .5-.3 .5 .2 .5 .4 .5-.1 .5 .8 .5 0 .5-1.3 .5 .3 .5-.4 .5 0 .5 .7 .5-.7 .5-.1 .5 .2 .5 .4 .5-.5 .5-.1 .5 .5 .5-.2 .5 0 .5 .3 .5-.8 .5 .5 .5-.3 .5 .7 .5-.1 .5-.7 .5 1 .5-1.1 .5 1 .5-.4 .5-.5 .5-.1 .5 .3 .5 .1 .5-.4 .5 .5 .5-.8 .5 .6 .5 0 .5-.8 .5 .9 .5-.7 .5-.6 .5 .6 .5-.2 .5-.5 .5-.5 .5 .8 .5-.1 .5-.1 .5 1 .5 .1 .5-.2 .5 .6 .5 .2 .5-.3 .5-.1 .5-.6 .5 .9 .5-.1 .5-.7 .5 .6 .5 .2 .5-.3 .5 .3 .5 0 .5-.9 .5 .4 .5 .3 .5 .2 .5 .2 .5-1.5 .5 .8 .5 .3 .5 .2 .5 .1 .5-1.1 .5 .3 .5-.3 .5 .8 .5-.9 .5 1.1 .5-.1 .5-.1 .5-1.1 .5 .7 .5 .6 .5-.9 .5 .5 .5 .1 .5 .5 .5-.2 .5 0 .5-.3 .5 .3 .5-.1 .5 .4 .5-.4 .5 .5 .5-1.2 .5 1.2 .5-.6 .5 .5 .5-.5 .5 .3 .5 .3 .5-.9 .5 .3 .5-.1 .5 .2 .5-.8 .5 .6 .5 0 .5-.2 .5 .3 .5-.6 .5 1.3 .5-.4 .5 .5 .5-1.1 .5-.2 .5 .6 .5-.8 .5 .7 .5-.4 .5 .1 .5 .3 .5-.2 .5 .8 .5-.6 .5-.8 .5 .9 .5-1 .5 .6 .5-.6 .5 .1 .5 .9 .5-.8 .5 .1 .5 0 .5 .2 .5 .7 .5-1 .5 0 .5 .7 .5-.9 .5 .4 .5 .2 .5-1.4 .5-.4 .5-.1 .5-.1 .5 .9 .5 .9 .5 .7 .5 0 .5-.6 .5 0 .5 .6 .5-1 .5 .5 .5 .1 .5-.4 .5 .1 .5 .5 .5-.8 .5 .2 .5 .2 .5 .3 .5-.6 .5 1 .5-.6 .5 0 .5 0 .5-.1 .5-.1 .5 .9 .5-.4 .5-.1 .5 .4 .5-.7 .5 .6 .5-.2 .5-.4 .5 .7 .5-.9 .5 .9 .5-.7 .5 .6 .5 .3 .5-.3 .5-.5 .5 .2 .5-.2 .5-.3 .5 0 .5 .4 .5 .3 .5-1 .5 .8 .5 .2 .5-.1 .5-.5 .5 .9 .5-.9 .5 .8 .5 .4 .5-1.5 .5 .9 .5 0 .5 0 .5-.4 .5 .1 .5-.4 .5 .6 .5 .1 .5-.5 .5-.1 .5 .1 .5 .2 .5-.1 .5-.1 .5 .1 .5-.7 .5-.6 .5 1.3 .5 .3 .5-1.1 .5 .4 .5 .4 .5 .3 .5-.1 .5 .4 .5-.5 .5 .2 .5 0 .5-.3 .5 .7 .5-.2 .5 .1 .5-.6 .5 .6 .5-.9 .5 .6 .5-1.2 .5 .6 .5 .7 .5-.5 .5 .3 .5-.8 .5 1.3 .5-.4 .5-.2 .5 .2 .5-.1 .5 .5 .5-.5 .5-.7 .5 .5 .5 .7 .5-.3 .5-.4 .5 .5 .5-.2 .5 .2 .5-.8 .5 .3 .5 .6 .5-.4 .5 .2 .5 .7 .5-1 .5 .2 .5-.3 .5-.1 .5 .2 .5-.6 .5-.2 .5 1.4 .5-.5 .5 .5 .5-.4 .5 0 .5 .3 .5 0 .5-.8 .5 1.1 .5-.9 .5 .5 .5 .9 .5-1 .5 .7 .5-.8 .5 .4 .5-.2 .5 .1 .5-.5 .5 0 .5 .5 .5-.8 .5 .3 .5 .5 .5-.5 .5-.1 .5-.1 .5 .5 .5-.3 .5 .2 .5-.2 .5 .8 .5-.9 .5-.7 .5 .8 .5-.1 .5 0 .5-.7 .5 1.1 .5-.5 .5 0 .5-.6 .5 .9 .5-.2 .5 .6 .5-.7 .5-.4 .5 .6 .5-.4 .5 .6 .5-.6 .5 .4 .5 0 .5 .1 .5-.1 .5-.1 .5 .3 .5-.1 .5 .3 .5-.2 .5-.8 .5 .8 .5 .6 .5-.5 .5 .1 .5-.1 .5-.4 .5-.3 .5 .8 .5 .1 .5-.2 .5-.1 .5 0 .5-.2 .5 .1 .5-.1 .5 .1 .5-.5 .5 .1 .5 .5 .5-.4 .5-.8 .5 1.1 .5-1 .5 1.7 .5-.4 .5-.1 .5-.5 .5-.2 .5 .4 .5 .1 .5-.3 .5 .4 .5 .2 .5 0 .5-.6 .5-.5 .5 .9 .5-.3 .5 .5 .5 .5 .5 0 .5-.6 .5 .3 .5 .2 .5-.6 .5 .1 .5 .2 .5-.4 .5-.2 .5-.1 .5 .3 .5-.2 .5 .5 .5-.4 .5 .7 .5-.1 .5-1 .5 .9 .5-.7 .5 .7 .5-.5 .5-.3 .5 .2 .5-.6 .5 .2 .5-.2 .2-.3 .3 .1 .5-.9 .5 .2 0-.8 .5 .1 .5-.9 0 0 .3-1.2 .2 .9 .2-2 0 0 .3-1.7 .1 .4 .2-1.8 0 .5 .2-1.2 .2 1.2 .2 1 0 .6 .1 0 .3 1.2 .2 1.4 .1-.5 .1 .5 .3 1.4 .5-.2 .1 1.2 .4-.1 .5 .1 .4 .7 .1 .2 .5-.3 .5 .3 .5 .5 .5 0 .5-.2 .5-.3 .5 0 .5 .2 .5 .5 .5 0 .5-.1 .5 .4 .5-.7 .5 0 .5-.1 .5 .9 .5-1.7 .5 .7 .5-.4 .5-1.2 .5-.5 .5-.5 .5 .9 .5 .4 .5 1 .5-.1 .5 .2 .5 .2 .5-.1 .5 .5 .5 .5 .5-.2 .5-.3 .5-.8 .5 1.3 .5 0 .5-.4 .5-.2 .5 .5 .5-.6 .5 .6 .5-.8 .5 .1 .5 .3 .5-.6 .5 .6 .5 .2 .5-.7 .5 .9 .5-.5 .5 .5 .5-.1 .5-.2 .5 .1 .5-.4 .5 .4 .5 .1 .5 .9 .5-.2 .5-1 .5 .9 .5-.2 .5-.3 .5 .4 .5 .1 .5-.5 .5 .1 .5 .2 .5-.5 .5 .5 .5-.1 .5-.2 .5-.1 .5 .5 .5 .2 .5-.2 .5-.5 .5 .6 .5-.2 .5 .1 .5 .2 .5-.8 .5 .3 .5-.2 .5-.1 .5 1.1 .5-.5 .5-1.1 .5 .9 .5-.4 .5 .6 .5-.4 .5-.2 .5 .1 .5 .1 .5-.2 .5-.1 .5 .1 .5 .2 .5-.6 .5 .5 .5 0 .5-.1 .5 .5 .5-.8 .5 .4 .5-.1 .5 .5 .5-.4 .5 .1 .5 .1 .5-.8 .5 .8 .5-.5 .5 .2 .5 0 .5 .4 .5 0 .5 .4 .5-.6 .5-.3 .5 0 .5 .5 .5 .4 .5-.5 .5-.3 .5 .3 .5 0 .5-.1 .5-.4 .5-.7 .5 .7 .5 .6 .5-.3 .5-1 .5 .8 .5-.7 .5 1.5 .5-.7 .5-.6 .5 .8 .5-.6 .5 .6 .5-.3 .5-.4 .5 .7 .5-.8 .5 1.1 .5-.5 .5-.4 .5-.3 .5 1.4 .5 0 .5-1.1 .5 1.2 .5-.6 .5-.1 .5 .1 .5-.1 .5 .7 .5-.4 .5-.8 .5 1.6 .5-.5 .5-.7 .5 .3 .5-.2 .5 .4 .5 .1 .5-.1 .5-.4 .5-.1 .5 .6 .5-.4 .5 .8 .5-1.2 .5 .6 .5-.2 .5-.3 .5 .9 .5-.5 .5-.3 .5 .3 .5 .5 .5-.8 .5 1.1 .5-.3 .5-.3 .5 .6 .5 .2 .5-.4 .5-.2 .5 .7 .5-.2 .5-.9 .5 .3 .5 0 .5-.2 .5-.5 .5 .9 .5-.4 .5-.1 .5 .4 .5-.8 .5 .1 .5 0 .5-.4 .5 .2 .5 .4 .5-.3 .5 .5 .5-.7 .5 .4 .5-.7 .5 .6 .5-.2 .5 .8 .5-.2 .5-.2 .5 .6 .5-.2 .5-.3 .5-.6 .5-.3 .5 .5 .5-.1 .5-.2 .5 .2 .5-.5 .5 1.2 .5-1 .5 .2 .5 .5 .5-.8 .5 1 .5 0 .5-.5 .5-.3 .5 .3 .5-.6 .5 1.3 .5-.6 .5-.3 .5-.1 .5 .6 .5 .4 .5-1.1 .5 .3 .5-.5 .5 1 .5-.2 .5 .8 .5-.9 .5-.1 .5-.1 .5 .6 .5-1 .5 1 .5-.2 .5-.3 .5-.1 .5 .8 .5 .3 .5-.8 .5 .4 .5 .5 .5-1 .5 .2 .5-.4 .5 .4 .5 .1 .5-.2 .5-.1 .5-.3 .5 .1 .5 .1 .5 .6 .5-.4 .5-.2 .5 .6 .5 0 .5-.6 .5 0 .5 .5 .5-.1 .5-.5 .5 .4 .5-.1 .5 .5 .5-.8 .5 .7 .5-.2 .5-.6 .5 .8 .5 0 .5-.9 .5 1.3 .5-1.3 .5 .1 .5 .3 .5 .4 .5-.1 .5-.2 .5 .5 .5-.3 .5 .4 .5 .5 .5-1 .5-1.1 .5 .8 .5-.2 .5 .4 .5 0 .5-.5 .5 0 .5 .4 .5 0 .5-.9 .5 1.4 .5-.4 .5 0 .5 .2 .5-.6 .5 .4 .5 .5 .5 0 .5-.2 .5-.3 .5-.3 .5 .9 .5-.3 .5-.4 .5-.8 .5 .5 .5-.4 .5 1.3 .5-.5 .5-.3 .5 .2 .5 1.1 .5-.5 .5-1 .5 .5 .5-.5 .5-.2 .5 .8 .5 .9 .5-.3 .5-.7 .5-.2 .5 .2 .5 .3 .5-1.1 .5-.2 .5 1.5 .5-.7 .5 .5 .5-.5 .5 .5 .5-.8 .5 .5 .5 .5 .5-.2 .5-.6 .5 .6 .5-.6 .5-.3 .5 .9 .5 .3 .5-.2 .5-.9 .5 .9 .5 0 .5-.5 .5-.9 .5 1.5 .5-.1 .5-.2 .5-1 .5 0 .5 1 .5-.2 .5-.2 .5-.5 .5 .1 .5-.5 .5-.1 .5-.5 .1 .4 .4-.6 .5 .2 .5-.6 .1-.8 .4 .5 .5-2.1 .3 0 .2-.1 .5-1 .1-1.6 .4 .7 .3-.1 .2 .1 .5-.8 0 .7 .5 1.3 .3 .4 .2 1.3 .5 .1 .5 1.6 0-.3 .5-.3 .5 .7 .5 .6 .5 .5 .5 .6 .5-.4 .5 .6 .5-1 .5-.6 .5 1.2 .5 .3 .5-.3 .5-.3 .5 .6 .5 .6 .5-.9 .5-.3 .5 0 .5 1.1 .5-.9 .5 .2 .5 .2 .5-.1 .5-.8 .5 .7 .5 0 .5-.1 .5 .3 .5-.6 .5 .3 .5-.1 .5 .6 .5-.6 .5 .5 .5-.5 .5 .4 .5-.1 .5 .1 .5 .2 .5-.1 .5 0 .5-.8 .5 1.3 .5-.7 .5 .2 .5-.2 .5 .7 .5-.8 .5 .6 .5 .3 .5 .1 .5-.2 .5-.2 .5-.8 .5 1 .5 0 .5-.2 .5 0 .5-.3 .5-.3 .5 .7 .5 0 .5-1 .5 .8 .5-.4 .5 .1 .5-.4 .5 0 .2-.1 .3-.4 .5-1.5 .3 .5 .2-.9 .5-2 .1 .1 .1-1.1 .3-.8 .1-.5 .1-1.4 .3-2.5 0-.4 .2-1.9 0-1 .2 0 .1 .1 .1 1.3 .1 1.1 .1 1.6 .2 1.7 .2 1.8 .1 .8 .2 1.1 .1 .8 .4 1 .1 .5 .4 .3 .5 1.1 .2 .4 .3-.3 .5 .6 .5 .1 .5-.6 .5 .7 .5 .5 .5-.7 .5-.6 .5 .8 .5-.3 .5 1 .5-.8 .5 0 .5-.3 .5 .3 .5-.3 .5-.1 .5 .4 .5-.3 .5 .9 .5-1 .5 .5 .5-.2 .5-.3 .5 1.3 .5-1.5 .5 1.5 .5-1.2 .5 .7 .5 .9 .5-1.8 .5 .3 .5 1.2 .5-.5 .5-.2 .5 .2 .5-.4 .5 .5 .5 .6 .5-.8 .5 .2 .5 .5 .5 .3 .5-1 .5 .4 .5-.4 .5-.1 .5 .1 .5-.2 .5-.5 .5-.1 .5 .5 .5 .3 .5 .4"/>
<path d="M4.0 210.5l.5 0 .5 .7 .5-.3 .5-.2 .5-.8 .5 1.7 .5-1.1 .5 .3 .5-.5 .5 .6 .5-.8 .5 .6 .5-.1 .5 .5 .5-.8 .5 .2 .5 .2 .5 .9 .5-1.4 .5 .7 .5-.4 .5 .4 .5 .1 .5-.2 .5 0 .5-.1 .5-.4 .5 0 .5-.8 .5 .1 .5-.8 .5-.2 .5 .8 .5 .5 .5 .4 .5 .5 .5-1.2 .5 1.2 .5-.1 .5 0 .5-.4 .5 .7 .5 .3 .5-.1 .5-.4 .5 .3 .5 .1 .5 .3 .5-.2 .5-.5 .5 0 .5 0 .5 0 .5-.3 .5 .5 .5-.6 .5 0 .5 .4 .5-.4 .5 .2 .5-.8 .5 1.2 .5-.3 .5 0 .5 .2 .5 0 .5-.3 .5 1.1 .5-1 .5 .6 .5 .4 .5-.9 .5 .2 .5-.4 .5 .7 .5-.5 .5-.4 .5 1 .5-.2 .5-.8 .5 .8 .5-.4 .5 .9 .5-.4 .5-.9 .5 .1 .5-.3 .5 .4 .5-.1 .5 .3 .5-.3 .5-.7 .5 .3 .5 .9 .5-.1 .5-.5 .5 0 .5 0 .5 .1 .5-.7 .5 1 .5-.7 .5 .2 .5-1.3 .5 .6 .5-.1 .5-1.5 .5 2.1 .5 .1 .5-.2 .5-.1 .5 1.2 .5-.3 .5 .1 .5-.4 .5-.2 .5 .7 .5-.8 .5 .7 .5-1 .5 .2 .5-.2 .5 1.2 .5-1.2 .5 .3 .5 .7 .5-.1 .5 .8 .5-.1 .5-.4 .5 0 .5-.9 .5 .4 .5 .2 .5 0 .5-.4 .5 .1 .5 .1 .5 .7 .5-.2 .5-.3 .5 0 .5 .3 .5-.4 .5 .2 .5-.6 .5 1 .5 .2 .5-.2 .5 0 .5 0 .5 .7 .5-.8 .5-.7 .5 .1 .5 .6 .5 .1 .5-.1 .5-.1 .5-.3 .5-.7 .5 .2 .5-.4 .5 .6 .5-.4 .5 .7 .5-.1 .5-.7 .5 1.1 .5 0 .5-.8 .5 .6 .5 .2 .5-.4 .5 .4 .5-.3 .5 .3 .5-.4 .5-.2 .5 .2 .5 0 .5-.2 .5-.3 .5-.1 .5 .2 .5-.1 .5 .4 .5 0 .5-.1 .5 0 .5 .1 .5 .6 .5-.2 .5-.7 .5 .3 .5-.4 .5 0 .5-.4 .5-1 .5-.6 .5-.4 .5 1.1 .5 .4 .5 0 .5 1.1 .5-.2 .5 .4 .5-.3 .5 .3 .5 0 .5-.9 .5 1.1 .5-.1 .5-1 .5 1.3 .5-.3 .5 0 .5 .1 .5-.4 .5-.3 .5 .2 .5-.2 .5 .7 .5-1.3 .5-1 .5 .1 .5 .3 .5 1.1 .5-.1 .5 .1 .5 1.3 .5-.3 .5-1 .5-.1 .5 .4 .5 .4 .5 .1 .5-.3 .5-.6 .5 .8 .5 .1 .5-.2 .5-.2 .5 .4 .5-.2 .5-.4 .5 .5 .5-.6 .5 .9 .5-.2 .5-.6 .5 .5 .5 .5 .5-1.4 .5 .8 .5 .8 .5-1.3 .5 .6 .5-.5 .5 .5 .5-.9 .5 .3 .5 .5 .5 .3 .5 .1 .5 0 .5 .3 .5-.2 .5 0 .5-.7 .5 .4 .5 1.4 .5-.4 .5-.6 .5 0 .5 .1 .5-.6 .5 1 .5-1 .5 .1 .5 1 .5-1.8 .5 1 .5-.8 .5 .4 .5 .3 .5-.1 .5 .2 .5-.4 .5 .3 .5-.5 .5 .4 .5-.4 .5 .8 .5-.8 .5 .8 .5-.4 .5 0 .5 .7 .5-.5 .5-.8 .5 1 .5-1.5 .5 1.3 .5-.4 .5-.5 .5 .6 .5-.2 .5 .9 .5-1.1 .5 .9 .5-.3 .5-.8 .5-.1 .5 .9 .5-.6 .5 .1 .5-.2 .5-.6 .5-.2 .5-1.2 .5-.2 .5 1.2 .5 1.7 .5 .2 .5-.6 .5 .1 .5 .2 .5 .4 .5-.4 .5-.3 .5 0 .5 .6 .5 .6 .5-1.3 .5-.6 .5 1.2 .5-.4 .5 .1 .5 .4 .5-.5 .5-.6 .5-.2 .5 .8 .5-.4 .5 .7 .5-.7 .5 .5 .5-.5 .5 .5 .5 0 .5 .5 .5 .3 .5-.6 .5-.3 .5 1.1 .5-.6 .5 0 .5 0 .5 .4 .5-.2 .5-.2 .5 0 .5-.7 .5 .1 .5 .1 .5-.1 .5-.2 .5-.4 .5-1.1 .5-.2 .5-.6 .5 1.6 .5 .7 .5-.3 .5 .7 .5 0 .5 0 .5-.8 .5 .3 .5 .3 .5 .9 .5-1 .5 .2 .5-.3 .5 .3 .5 .4 .5-1 .5-.3 .5 1.5 .5-.2 .5-.3 .5 .7 .5-.1 .5-1.3 .5 .8 .5 .5 .5-.8 .5 .1 .5 .5 .5-.5 .5-.4 .5 .2 .5-.3 .5 .8 .5-1 .5 1.2 .5-1.1 .5 .7 .5-.7 .5 .5 .5 .6 .5 .1 .5 .1 .5-.6 .5 .1 .5 .1 .5 .2 .5-.4 .5 .6 .5-.3 .5 .4 .5-.3 .5 .1 .5-.6 .5 .1 .5-.4 .5 .4 .5 0 .5 .4 .5-.9 .5 1.9 .5-1.4 .5 .6 .5-.1 .5-1.6 .5 .9 .5 .6 .5-2 .5 .6 .5-1.1 .5 .2 .5 .3 .5-.9 .5 1.5 .5 .2 .5 .3 .5 .7 .5 1.2 .5-1.3 .5 .1 .5-.2 .5-.3 .5 .5 .5 .5 .5-.5 .5 .3 .5-.5 .5 1.2 .5-1.7 .5 .9 .5 0 .5-.1 .5-.6 .5-.1 .5 .4 .5 .1 .5-.6 .5 0 .5 .7 .5 .2 .5-.7 .5-.1 .5 0 .5 1.3 .5-.8 .5-.3 .5 .5 .5 .5 .5-.5 .5-1.1 .5 .6 .5-.1 .5 0 .5-.3 .5 .3 .5-.2 .5 .6 .5-.1 .5-.6 .5-.1 .5 .5 .5 .4 .5-.1 .5-.3 .5-1.4 .5 1.1 .5-.1 .5 .1 .5-.4 .5 .2 .5-.1 .5 1.5 .5-.8 .5-.3 .5 .1 .5 0 .5 .2 .5-.1 .5 .2 .5 .5 .5 0 .5-.2 .5 .4 .5-.5 .5-.5 .5-.3 .5 .5 .5 .3 .5 .2 .5 .3 .5-.7 .5-.1 .5 .6 .5 .2 .5-.8 .5 .4 .5 .4 .5-.5 .5-.2 .5-.8 .5 1.4 .5-.3 .5-.3 .5-.2 .5-.4 .5 .5 .5 0 .5 .4 .5-1 .5 1 .5-.8 .5 .2 .5-2 .5 .5 .5 .4 .5-.4 .5 0 .5 1.2 .5 .7 .5-.7 .5 .1 .5 .7 .5-.5 .5 .7 .5-.8 .5-.3 .5 .4 .5 1 .5-1 .5 .3 .5 .1 .5-.5 .5 .9 .5-.4 .5 .2 .5-.9 .5 0 .5-.4 .5 1.1 .5 0 .5 .4 .5 .4 .5-.7 .5 0 .5 .3 .5 .5 .5-1 .5 .7 .5-.4 .5 0 .5 .5 .5-.7 .5-.1 .5 .7 .5-.3 .5-.2 .5 .1 .5 .2 .5-.4 .5 .4 .5-.1 .5 .4 .5-.1 .5-.1 .5-.5 .5 .2 .5-.3 .5 1.4 .5-1.3 .5 .4 .5 .3 .5-1.1 .5 .2 .5 .1 .5-.2 .5-.1 .5 .3 .5 .7 .5-.2 .5-.3 .5 0 .5-.8 .5 1 .5-.1 .5-.6 .5 .5 .5-.2 .5-.1 .5-.2 .5 .1 .5-.1 .5 .6 .5-.1 .5 0 .5-.2 .5-.1 .5 1.1 .5-1.7 .5 1.3 .5-.4 .5-.1 .5-.2 .5 .1 .5-.4 .5-.1 .5 .5 .5-.6 .5 1 .5 .1 .5-1.9 .5 .8 .5 .8 .5 0 .5 0 .5 .1 .5 .2 .5 0 .5 .5 .5-.8 .5 .4 .5-1 .5 .6 .5-.6 .5 1.1 .5 .3 .5-.8 .5-.8 .5 .4 .5 0 .5 0 .5 .4 .5-.1 .5-1.5 .5 1.8 .5-.8 .5 0 .5 .9 .5-.7 .5-.4 .5 0 .5 .6 .5 .4 .5 .3 .5-.7 .5-.1 .5 .9 .5-.9 .5 .8 .5-.5 .5 .1 .5-.2 .5 .2 .5-.4 .5-.1 .5 .2 .5-.3 .5 .4 .5-.1 .5-.2 .5 0 .5 0 .5 .8 .5-.7 .5-.2 .5 .1 .5 .4 .5-.3 .5 0 .5 0 .5 .2 .5 .1 .5 0 .5-.9 .5 .2 .5-.6 .5 1.4 .5 .1 .5 .1 .5-.5 .5 .4 .5-.5 .5 0 .5-.6 .5 .3 .5 .1 .5 .7 .5 .3 .5-.8 .5 .3 .5 0 .5-.4 .5-.4 .5 .4 .5-.2 .5 .4 .5 .1 .5 0 .5 0 .5 .3 .5-.6 .5 .8 .5-1.1 .5 .8 .5 .1 .5-.5 .5-.3 .5 1 .5-.6 .5 .6 .5 0 .5-.3 .5 0 .5 .4 .5-.3 .5-.5 .5 .4 .5 .1 .5-.1 .5-.1 .5-.1 .5 0 .5-.4 .5-.2 .5 1 .5-.7 .5 .3 .5-.8 .5 .7 .5-.4 .5 1.5 .5-1.7 .5 .1 .5 .8 .5 .1 .5-1.3 .5 1 .5 .2 .5-.8 .5 .8 .5-.5 .5-.2 .5 .3 .5 0 .5-.4 .5 1.5 .5-1.1 .5-.1 .5 .6 .5-.4 .5 .6 .5-.6 .5 .2 .5-.1 .5 .1 .5-.2 .5 .1 .5 .7 .5-1 .5 .1 .5 .1 .5 .3 .5-.1 .5 .1 .5-1.1 .5 .5 .5-.3 .5-.2 .5 0 .5-1.2 .2 .9 .3-.3 .5-1 .5 .2 0 .6 .5-1.4 .5-.4 0-.5 .3-.8 .2-.7 .2-.3 0 .5 .3-1.5 .1-1.1 .2-.4 0-.5 .2-.6 .2 1.1 .2 .8 0-.2 .1 1.6 .3 .2 .2 1.8 .1-.6 .1 1 .3 .7 .5 .7 .1-.5 .4 1.2 .5 .3 .4-.2 .1 .4 .5 .6 .5-.7 .5 .5 .5-.6 .5 .7 .5 .1 .5 .8 .5-.6 .5-.1 .5 .4 .5-.9 .5 .9 .5-.6 .5 0 .5 .7 .5-.3 .5 .4 .5-1.3 .5 .4 .5-.9 .5-1.2 .5-1.5 .5 1.3 .5 1.4 .5 .2 .5 .2 .5 .4 .5 1.1 .5-.6 .5 0 .5 .4 .5-.2 .5 .1 .5 .2 .5-.1 .5 .2 .5-.8 .5 .5 .5-.1 .5 .2 .5-.1 .5-.2 .5 .1 .5 .6 .5-.7 .5-.2 .5 .7 .5 .2 .5-.5 .5 .1 .5-.4 .5 .3 .5 .5 .5-.1 .5-.3 .5-.2 .5-.6 .5 .8 .5 .1 .5 .2 .5 .4 .5-.7 .5 .2 .5-.9 .5 .9 .5-.1 .5 .2 .5-.3 .5-.1 .5 .5 .5-.9 .5 .6 .5 .2 .5-.8 .5-.1 .5 .7 .5-.1 .5 .2 .5 0 .5-.5 .5 .4 .5 .4 .5-.6 .5 0 .5-.3 .5 .8 .5 .5 .5-1.4 .5 .9 .5 0 .5-.6 .5 0 .5-.3 .5 .1 .5 .4 .5 .1 .5-.2 .5 .3 .5-.3 .5-.5 .5 1 .5-.1 .5-.7 .5 1 .5-.6 .5-.1 .5 .7 .5-1.8 .5 .4 .5 .9 .5-.4 .5-.4 .5 1 .5-.4 .5-.8 .5 .3 .5 .5 .5 .5 .5-1.5 .5 1 .5-.3 .5-.5 .5 .7 .5-.5 .5 .5 .5 .9 .5-.4 .5 .1 .5-.1 .5-.2 .5 .3 .5-.9 .5 .2 .5 .5 .5-.7 .5 .1 .5 .7 .5 .1 .5-.9 .5-.1 .5 .6 .5-.2 .5-.3 .5 .5 .5-.1 .5-.2 .5 1.2 .5-.6 .5-.2 .5 0 .5 .8 .5-.7 .5-.7 .5 .4 .5-.1 .5-.3 .5 .4 .5 0 .5-.2 .5-.2 .5 .6 .5-1 .5 1 .5-.4 .5 .1 .5-1.1 .5 1.7 .5-1.4 .5 .4 .5 .6 .5-.5 .5 .1 .5-.8 .5 .8 .5 .3 .5 .2 .5-.4 .5 .2 .5 .2 .5-.5 .5 0 .5 1.2 .5-1.1 .5 .8 .5-.4 .5 .6 .5-.8 .5 .4 .5 0 .5-.3 .5 .2 .5-.4 .5 .2 .5-.1 .5 .5 .5-.4 .5-.5 .5 .4 .5 .1 .5-.3 .5 .9 .5-.3 .5 .2 .5-.7 .5 .2 .5 .6 .5-1 .5 .7 .5-.1 .5-.2 .5 .2 .5-.5 .5 .6 .5-.6 .5 0 .5 1.1 .5-.9 .5-.6 .5 1.2 .5-.8 .5-1.2 .5 1.4 .5 .4 .5-.3 .5 .5 .5-.8 .5 .2 .5-.6 .5 .5 .5 .6 .5-.4 .5-.1 .5-.9 .5 .7 .5-.3 .5 .9 .5-.6 .5 .4 .5-.5 .5 1.2 .5-1.2 .5 .5 .5 1.1 .5-1 .5-.4 .5 .6 .5 .2 .5 0 .5-1.2 .5 .9 .5-.9 .5 1.7 .5-.8 .5-.2 .5 .5 .5-.1 .5-.6 .5 1 .5-.8 .5-.7 .5 1.2 .5 0 .5-.2 .5-.4 .5-.6 .5 .6 .5 .3 .5-.4 .5 .3 .5-1 .5 .8 .5 0 .5-1.1 .5 0 .5 .4 .5 .3 .5 .2 .5-.3 .5 .1 .5 0 .5 .2 .5 .2 .5 0 .5-.2 .5 .2 .5-.3 .5 .6 .5-.6 .5 .9 .5-.7 .5 .1 .5-.4 .5 .1 .5 .2 .5-.1 .5-.3 .5-.2 .5 .5 .5 0 .5 .2 .5 .3 .5-.7 .5-.7 .5 .7 .5-.7 .5 .2 .5 1 .5-.2 .5-.5 .5 .1 .5 .2 .5-.6 .5 .9 .5-.3 .5 .9 .5-1.1 .5 .9 .5-.8 .5 .7 .5-.8 .5 .6 .5-.5 .5-.2 .5 .3 .5 .2 .5 0 .5 .4 .5-.3 .5-1.5 .5 .9 .5-.7 .5 .7 .5 .4 .5-.9 .5 0 .5 .6 .5-.3 .5 .9 .5-.5 .5 .1 .5 .6 .5-.9 .5 .2 .5-.3 .5 .5 .5 .4 .5 .2 .5-.6 .5-.3 .5 0 .5-.3 .5 .7 .5 .5 .5-1.6 .5 .1 .5 1.5 .5-1.3 .5 .9 .5-.7 .5 .9 .5 0 .5-.3 .5 .3 .5-.3 .5 .2 .5 .5 .5-.3 .5-.7 .5-.1 .5 .2 .5 0 .5 .2 .5-.3 .5 .5 .5-.3 .5 .1 .5-.2 .5 .3 .5-.9 .5 1.1 .5-.5 .5-.1 .5 0 .5 .1 .5-.3 .5-.4 .5-.3 .5-.9 .2 .7 .3-.4 .5-.4 .5 .6 .2-2 .3 .3 .5-.4 .4-1 .1-.1 .5-2.2 .2-.2 .3 .1 .4-.7 .1 .9 .5-.1 .1 .2 .4 .9 .4 .6 .1 .4 .5 .7 .5 1.1 .1 0 .4 .7 .5-.3 .5 .3 .1 .9 .4 .1 .5-.3 .5 .5 .5-.2 .5 1.3 .5-1.4 .5 1.4 .5-1 .5 .5 .5-.2 .5-.1 .5 .6 .5 0 .5-.4 .5-.2 .5 1.3 .5-.3 .5-.5 .5-.1 .5 .3 .5-.1 .5 .5 .5-.8 .5 .4 .5-.3 .5 .9 .5 .3 .5-.8 .5 .3 .5 .4 .5-.7 .5-.2 .5 .8 .5-.2 .5-.3 .5 .7 .5-.5 .5-.9 .5 .9 .5-.2 .5 .8 .5-.8 .5-.1 .5 .3 .5 0 .5-.7 .5 .7 .5-.2 .5 .8 .5 .4 .5-1.4 .5 0 .5 0 .5 0 .5 0 .5 .2 .5 .4 .5-1.1 .5-.2 .5-.3 .5 1.2 .5-.1 .5-1.4 .5-.2 .5 .4 .3 .2 .2-.2 .5-.9 .3-.3 .2-.5 .5-1.7 .3 0 0-1 .2-1.5 .2-1.1 .1-.9 .2-1.4 .1-.3 .2-3.1 0 1 .2-.4 .2 .5 .1 .6 .1 1.2 .1 1.2 .3 2.1 0 .6 .2 1.3 .2 1 .3 1.4 .3-.1 .2 1.8 .5 .4 .3 .3 .2-.5 .5 1.3 .5-.6 .5 1.1 .5-.1 .5-.8 .5 .3 .5 1 .5-.3 .5-.4 .5 .1 .5 .1 .5-.4 .5 .3 .5-.2 .5 0 .5 .4 .5-.6 .5 .6 .5-.3 .5 .3 .5 0 .5 .1 .5-.3 .5 0 .5-.4 .5 .3 .5-.6 .5 .2 .5 .5 .5-.4 .5 .2 .5-.6 .5 1 .5-.8 .5 .4 .5-.1 .5 .4 .5-.5 .5-.2 .5-.4 .5 .8 .5-.4 .5 .8 .5 .4 .5-1.5 .5 .4 .5 .7 .5 .4 .5-.4 .5 0 .5 .1 .5 0 .5 .5"/>
<path d="M4.0 239.9l.5-1.2 .5 .6 .5 1 .5 0 .5-.7 .5-.2 .5 .8 .5-.4 .5 .2 .5 .2 .5-.7 .5 .8 .5-1.3 .5 1.5 .5-1.3 .5 .4 .5-.1 .5 .6 .5 0 .5-.2 .5 0 .5 0 .5-.2 .5-.8 .5-.1 .5 0 .5 1.1 .5-.1 .5 .1 .5 .2 .5-.1 .5-.3 .5-.3 .5-.2 .5 1.3 .5-.2 .5-1 .5 .4 .5 .3 .5 .5 .5-1.1 .5 .3 .5 .5 .5-1.3 .5 .5 .5 .3 .5-.2 .5 1.2 .5-.5 .5-.3 .5-.5 .5 .9 .5-.2 .5-.5 .5 .1 .5-.5 .5 .6 .5 .4 .5 0 .5-.2 .5 .1 .5-.6 .5 0 .5 .8 .5-.3 .5-.6 .5 .6 .5 .2 .5-.1 .5-.2 .5-.3 .5 .4 .5 .6 .5-.7 .5-.3 .5 .5 .5-.7 .5 .6 .5-.2 .5 .6 .5-.3 .5 .4 .5 .5 .5-1.1 .5-.3 .5 .5 .5-.2 .5 .1 .5-.4 .5 .5 .5-.2 .5-1 .5 .8 .5 .3 .5 .4 .5-.8 .5-.1 .5 .9 .5-.7 .5 .3 .5 .2 .5 .1 .5-.3 .5-.6 .5 .9 .5-.6 .5-.1 .5 1.1 .5-.5 .5-.9 .5 .2 .5 .1 .5-.2 .5-.4 .5 1.2 .5 .1 .5-.2 .5-.3 .5 .4 .5 .2 .5-.7 .5 .4 .5-.2 .5 .5 .5-.2 .5-.7 .5 .2 .5 1 .5-1.2 .5 .4 .5-.4 .5 .8 .5-.5 .5-.1 .5-.3 .5 .4 .5 .5 .5 0 .5-.8 .5 1.3 .5-.8 .5-.3 .5 .5 .5-.3 .5 .1 .5 0 .5 .2 .5-.1 .5-.5 .5 1 .5-.5 .5 .8 .5-.4 .5 0 .5-.3 .5 .3 .5-.8 .5-.4 .5 .5 .5-1.4 .5 .9 .5 .2 .5-.3 .5 .8 .5-.2 .5-.3 .5-.1 .5 .6 .5-.7 .5 .1 .5 .6 .5-.1 .5 .7 .5-1 .5-.7 .5 1.1 .5 .3 .5-.6 .5 .8 .5 .1 .5-1.1 .5 .1 .5-.3 .5 .8 .5 .1 .5 0 .5-.8 .5 .3 .5-.3 .5 0 .5 .1 .5-.1 .5 .5 .5 .2 .5 0 .5-.4 .5-.4 .5 0 .5-.4 .5-1.1 .5 .1 .5-.2 .5-.1 .5 .8 .5 .2 .5 1.3 .5-1 .5 1 .5-.7 .5 1.3 .5-.3 .5-.7 .5 .2 .5-.3 .5 .4 .5 .2 .5 .9 .5-1.8 .5 1.1 .5-.9 .5 .3 .5 .1 .5-.6 .5-1.1 .5-.2 .5 .1 .5 .1 .5 1.4 .5-.6 .5 .7 .5-.2 .5 .2 .5 0 .5 .8 .5 .5 .5-.4 .5-1.1 .5 .5 .5-.6 .5 .7 .5 .3 .5-.3 .5 .1 .5-.4 .5-.7 .5 .1 .5 .8 .5 .4 .5 .3 .5-.7 .5 .3 .5 .1 .5 .3 .5-.6 .5-.5 .5 .8 .5-.4 .5-.1 .5-.8 .5 .5 .5-.8 .5-.2 .5 .8 .5-.1 .5 .5 .5 .4 .5-.7 .5 .9 .5-1 .5 .6 .5-.9 .5 .6 .5-.1 .5 .2 .5 .4 .5-1 .5 1 .5-.4 .5 .5 .5 .2 .5-.2 .5 .1 .5-.4 .5 .7 .5-.6 .5 .5 .5-.9 .5 1.2 .5-1.1 .5 .9 .5-.7 .5 .4 .5-.3 .5 .3 .5-.3 .5 .5 .5-.3 .5 0 .5 .4 .5-1 .5 .8 .5-.6 .5-.6 .5 .9 .5-.2 .5 .9 .5-.9 .5 .3 .5 .2 .5-.9 .5 1.1 .5-.6 .5 1 .5 .1 .5-.8 .5-.7 .5 .7 .5-.2 .5-.1 .5-1.7 .5-.5 .5 .4 .5 .7 .5 1.7 .5-.9 .5 .1 .5 .3 .5-.5 .5 .4 .5 .2 .5-.2 .5 .1 .5 .6 .5-.3 .5-.8 .5 .3 .5 .5 .5-.6 .5 .2 .5 0 .5 .2 .5-.4 .5 .1 .5-.3 .5 .5 .5-.5 .5 1.2 .5-.8 .5 0 .5 .4 .5-.3 .5 .1 .5-.1 .5-.3 .5-.1 .5 .1 .5 .8 .5-.8 .5 .1 .5 0 .5 .4 .5 .6 .5-1.4 .5 .6 .5-.4 .5-.4 .5-.1 .5-1.9 .5 .8 .5-.3 .5-.5 .5 2.2 .5 .1 .5 .4 .5-1 .5 .6 .5 0 .5 .5 .5 .4 .5-1.3 .5 .9 .5 0 .5 .4 .5-.4 .5-.6 .5 .5 .5-.4 .5 .1 .5 .3 .5-.2 .5 .3 .5-.8 .5 1.7 .5-.4 .5-.2 .5-.9 .5-.3 .5 .6 .5 .3 .5 1.1 .5-.4 .5-.7 .5 .7 .5 0 .5-.5 .5 .5 .5-.4 .5-.4 .5-.2 .5 .4 .5 .5 .5-1 .5-.1 .5 .8 .5-1.4 .5 1.9 .5-1 .5 .4 .5 .5 .5-1.5 .5 .1 .5 1.4 .5-1.1 .5 .1 .5 .1 .5 .4 .5 .1 .5-.5 .5-.2 .5 .1 .5 .1 .5 .4 .5-.5 .5 .7 .5-1.1 .5 .5 .5 .4 .5-.4 .5-.8 .5-1.5 .5 .1 .5 .3 .5 .2 .5-.2 .5 .4 .5 .8 .5 .7 .5 .3 .5-.9 .5 .5 .5-.5 .5 .5 .5 1.8 .5-1.5 .5-.2 .5-.1 .5-.3 .5-.3 .5 .7 .5-.1 .5 .8 .5-1.4 .5 .9 .5 .4 .5-1.4 .5 1.1 .5-1 .5 1 .5 .4 .5-.6 .5 .1 .5-.4 .5 .4 .5 .4 .5-.6 .5 .1 .5 .2 .5 .2 .5-1 .5 .7 .5-.3 .5 .6 .5 .2 .5-.3 .5 .4 .5-1 .5 .2 .5-.2 .5 .4 .5 .1 .5-.2 .5-.4 .5 .5 .5-.2 .5 .5 .5-.3 .5 .6 .5-.4 .5-.9 .5 .8 .5-.6 .5 1.1 .5 .2 .5-.7 .5 .2 .5-.8 .5-.4 .5 .7 .5 .1 .5-.5 .5 .6 .5 .1 .5 .1 .5 .4 .5-.4 .5-.5 .5 .2 .5 .2 .5-.8 .5 1 .5-.2 .5-.5 .5-.2 .5 1.9 .5-1.3 .5 0 .5 .4 .5-.4 .5-.4 .5 .2 .5-.7 .5 .7 .5-.9 .5 .9 .5 .1 .5-.9 .5 1.5 .5-1.2 .5 .9 .5-.7 .5 .4 .5-.6 .5 1 .5-1.8 .5 .3 .5-.5 .5 0 .5 .4 .5 .5 .5 .6 .5-.1 .5-.1 .5-.5 .5 .5 .5 .4 .5-.4 .5 .3 .5-.2 .5-.3 .5 0 .5 .1 .5 .2 .5 0 .5 .6 .5-.9 .5-.4 .5 1.1 .5-.5 .5 .2 .5 1.1 .5-.4 .5-.4 .5 .1 .5-.4 .5 .4 .5-.7 .5-.1 .5 .1 .5 .8 .5 0 .5-1 .5 .8 .5-.6 .5 .6 .5-.6 .5 .6 .5-.4 .5-.1 .5 .1 .5 .1 .5-.2 .5-.4 .5 1.3 .5-.9 .5-.7 .5-.2 .5-.3 .5 .9 .5 .8 .5-1.4 .5 .6 .5-.8 .5 1.4 .5-.3 .5 0 .5 .5 .5 .2 .5-.2 .5-.7 .5-.2 .5 .1 .5-.2 .5 1.5 .5-.9 .5 .2 .5 0 .5 .8 .5-1.2 .5 .8 .5-.4 .5-.2 .5-.8 .5 1.3 .5-.7 .5 .2 .5 .4 .5 0 .5 .5 .5-.7 .5 .4 .5 .1 .5 0 .5 .2 .5-.4 .5 .6 .5-.9 .5-.3 .5 .5 .5 .5 .5-.7 .5-.1 .5 .1 .5 .2 .5-.2 .5 .2 .5-.9 .5 1.4 .5-.4 .5-.6 .5 .9 .5-.4 .5 .4 .5-1.1 .5 1.2 .5-.7 .5-.9 .5 1.2 .5-.4 .5-.3 .5 .4 .5-.8 .5 1.1 .5-.3 .5 0 .5 .7 .5-.6 .5-.3 .5-.1 .5 .4 .5 .5 .5-.7 .5-.2 .5 .9 .5-.4 .5-.1 .5 .9 .5-1.5 .5 .6 .5-.9 .5 .6 .5 .3 .5 .2 .5-1 .5 .9 .5 0 .5-.3 .5 1.1 .5-1.1 .5-.3 .5 .5 .5-.9 .5 1.4 .5-.2 .5-.6 .5 .4 .5 0 .5 .6 .5-1.1 .5-.3 .5-.3 .5 .7 .5-.5 .5 .6 .5 .4 .5-.4 .5-.1 .5 1 .5-.6 .5 .3 .5 .4 .5-.9 .5 .2 .5 1.4 .5-1.2 .5-.4 .5 .3 .5-.2 .5-.4 .5 .3 .5 .1 .5 0 .5 .2 .5-1.1 .5 .1 .5 .9 .5-.5 .5 .6 .5-.4 .5-.8 .5 .8 .5-.7 .5 .5 .5 .5 .5 .4 .5-.9 .5 .4 .5-.1 .5 .3 .5-1.4 .5 1 .5 .4 .5 .1 .5-.5 .5 .7 .5 .2 .5-.4 .5-.1 .5 0 .5 .2 .5 .5 .5 .2 .5-.8 .5-.3 .5 0 .5 .7 .5-.4 .5-.1 .5 0 .5-.1 .5-.3 .5-.5 .5 .1 .5 .4 .5 .3 .5-.3 .5 .1 .5 .9 .5-.7 .5 .4 .5-.2 .5-.1 .5-.2 .5 .4 .5-.3 .5 .7 .5-1 .5 .3 .5 .3 .5-.4 .5 .2 .5 .1 .5-1.2 .5 .6 .5-.3 .5 1 .5-.6 .5 .3 .5 .5 .5-.8 .5 .1 .5 .2 .5-.3 .5 .6 .5-.3 .5 0 .5-.5 .5-.3 .5-.1 .5-.2 .5-.7 .2 .7 .3 .1 .5-.7 .5-.7 0 .2 .5-.5 .5-.9 0 .5 .3-1.8 .2-.1 .2-.5 0-.5 .3-1.6 .1-.8 .2-1 0 .5 .2-.2 .2-.2 .2 1.9 0 .1 .1 .7 .3 1.2 .2 1 .1 .4 .1-.4 .3 1.2 .5 .1 .1 .1 .4 .8 .5 0 .4 1.1 .1 .2 .5-.3 .5 .1 .5 .1 .5 0 .5 .2 .5 .2 .5-.4 .5-.1 .5 .2 .5 .5 .5-.5 .5 .8 .5-.7 .5 .7 .5-1.1 .5 .2 .5 .4 .5-.1 .5-.5 .5 .5 .5-1.6 .5-1.5 .5-.6 .5 1.7 .5 1 .5 .4 .5-.6 .5 1.1 .5-.2 .5 .5 .5 .3 .5-.6 .5 .5 .5 .4 .5-.2 .5-.1 .5-.2 .5 .1 .5-.3 .5 .9 .5-.4 .5-.6 .5 .4 .5-.6 .5-.9 .5 1.9 .5-.1 .5-1.1 .5 .4 .5 .4 .5-.2 .5-.2 .5 .2 .5 .2 .5-.1 .5 .3 .5-.1 .5-.2 .5 .3 .5-.7 .5 1.3 .5-1.3 .5 .6 .5 .2 .5 .1 .5-.1 .5 .4 .5-1 .5 .4 .5 .1 .5-.3 .5-.1 .5 .8 .5-.9 .5 .1 .5 .1 .5 0 .5 .1 .5-.1 .5 .3 .5-.1 .5 .1 .5 .4 .5-.9 .5 1.1 .5-.9 .5 .5 .5-.2 .5-.2 .5-.7 .5 1.5 .5-1 .5 0 .5 .7 .5-.4 .5 .8 .5-.1 .5-.4 .5-.2 .5 .2 .5-.9 .5 .6 .5 0 .5-.3 .5 .3 .5-.7 .5 1 .5 .2 .5-1.1 .5 .6 .5 .6 .5-.5 .5-.6 .5 .1 .5 .8 .5 .4 .5-1.2 .5 .4 .5-.3 .5 .2 .5 .3 .5-.2 .5-.3 .5 1.2 .5-.9 .5 0 .5 .5 .5-.5 .5-.1 .5 .5 .5-.9 .5 .7 .5 .1 .5-.2 .5-.3 .5 0 .5-.7 .5 .6 .5 .2 .5 .2 .5-.3 .5-.2 .5-.2 .5 .3 .5 .1 .5 .4 .5-.5 .5-.2 .5 .2 .5-.1 .5 .1 .5-.8 .5 .2 .5 .2 .5 .7 .5-.2 .5 .1 .5 .4 .5-.9 .5 1 .5-.3 .5-.5 .5 1 .5-1.2 .5 .1 .5 .4 .5 .3 .5-.2 .5-.8 .5 .8 .5 .1 .5 1.1 .5-.4 .5-.5 .5-.5 .5 .6 .5-.6 .5 .6 .5 .1 .5-.3 .5 .2 .5-.2 .5-.1 .5 .9 .5-.4 .5-.4 .5-.2 .5 .4 .5 .1 .5 .1 .5 .3 .5-.5 .5-.7 .5 1.3 .5-.4 .5-.1 .5 .1 .5-1.1 .5 .5 .5-.1 .5 .7 .5-.9 .5 .3 .5 .8 .5-.3 .5-.4 .5 .9 .5-1.3 .5 .7 .5-.3 .5 .3 .5-.4 .5-.2 .5 .4 .5-.7 .5 .8 .5-.4 .5 .5 .5-.5 .5-.1 .5 .5 .5 .4 .5-1.4 .5 .9 .5 .3 .5-.8 .5 .2 .5 .6 .5-.6 .5 0 .5 1 .5-1.1 .5 0 .5-.7 .5 .5 .5 0 .5 1.1 .5-.2 .5-1 .5 1.4 .5-.5 .5-.4 .5 .4 .5-.2 .5-.4 .5-.4 .5 .3 .5 .4 .5-.2 .5-.2 .5 .7 .5-.8 .5 .8 .5-.6 .5 .2 .5-.5 .5 .4 .5-.3 .5-.4 .5 .8 .5-.1 .5 .4 .5-.2 .5-.5 .5 .1 .5-.7 .5 .5 .5 1.1 .5 .1 .5-.3 .5-.1 .5 .2 .5 0 .5-.9 .5 .4 .5 .9 .5 0 .5-.4 .5-.3 .5-.1 .5-.2 .5-.2 .5-.5 .5 .8 .5-.3 .5 0 .5 .7 .5-.4 .5-.5 .5 .6 .5-.9 .5 1.1 .5-.3 .5-.2 .5 .4 .5 .4 .5-.8 .5-.2 .5 1.2 .5-.8 .5 .6 .5-.9 .5 .4 .5-.5 .5 .6 .5-.4 .5-.2 .5 .9 .5-.4 .5-1 .5 .8 .5-.2 .5-.1 .5 .3 .5 0 .5 .3 .5-.3 .5-.4 .5 .5 .5 .6 .5-.9 .5 .9 .5-.1 .5-.3 .5 .3 .5-.4 .5 .1 .5-.3 .5 .6 .5 .3 .5-.9 .5 .7 .5-1.4 .5 .5 .5-.1 .5 1.1 .5-1 .5 .5 .5-1.3 .5 .9 .5 .1 .5-.3 .5-1.2 .5 1.2 .5 .2 .5 .1 .5-.4 .5-.8 .5 .7 .5 .5 .5-.6 .5 .6 .5-.3 .5 .3 .5 .3 .5-.5 .5 1.6 .5-1.2 .5 .1 .5-.5 .5 .4 .5-.2 .5-.5 .5 0 .5 .7 .5-.1 .5-1.1 .5 .1 .5 .7 .5 .1 .5 .2 .5-.8 .5 .7 .5-.5 .5-.2 .5 .1 .5 .4 .5-.2 .5 .2 .5-.7 .5 .1 .5-.4 .5 .3 .5 0 .5-.1 .5 .3 .5-.2 .5-.1 .3-.4 .2 .3 .5-.8 .5-.1 .3-.5 .2-.3 .5-1.1 .5-1.6 0-.1 .5 .3 .3-1.2 .2-.4 .5-.7 .5 .3 .2 1.8 .3-1.2 .5 1.5 0 .1 .5 .5 .5 .8 .2 .5 .3 .4 .5 .4 .5 .9 .2-.8 .3 .8 .5 .7 .5-.1 .5-.6 .5-.6 .5 1.8 .5 0 .5-.4 .5 .9 .5-.5 .5 .3 .5-.4 .5 .6 .5-.3 .5 0 .5 .7 .5-.4 .5-.7 .5 .9 .5 .1 .5-.7 .5 .2 .5 .2 .5-.2 .5 .2 .5 .2 .5-.5 .5 1.1 .5-1.1 .5 0 .5 1.1 .5 .1 .5-1 .5-.1 .5-.4 .5 .9 .5-.4 .5-.5 .5 .5 .5 .4 .5-.3 .5 .6 .5-.5 .5-.3 .5-.1 .5 .2 .5 .3 .5-.2 .5 .1 .5-.3 .5 .2 .5 .2 .5-.6 .5-.5 .5 1.2 .5-.5 .5-.4 .5 .2 .5-.2 .5-.7 .5 .6 .5-.6 .5 .6 .5-.3 .5 .3 .4-.7 .1 .1 .5-.7 .5-.7 0-.5 .5-.2 .3-1.6 .1-.5 .1-.1 .3-2.2 .1-.6 .1-.5 .2-1.3 .2-2.6 0-.6 .1-.2 .1 .8 .2 .1 .1 2 .1 .3 0 .6 .4 3 .1-.1 0 .8 .3 2.5 .2-.2 .3 1.2 .2-.1 .5 .8 .4 .5 .1 .2 .5 1 .5-.8 .5 .1 .5-.1 .5-.2 .5 0 .5 1.1 .5-1 .5 1.5 .5-.2 .5-.4 .5-.2 .5 .5 .5 .1 .5 .5 .5-.8 .5 .1 .5 .1 .5-.1 .5-.2 .5-.4 .5 0 .5 .4 .5 .1 .5 .5 .5 .5 .5-.3 .5-.6 .5 .5 .5-.9 .5-.2 .5 1.2 .5-1.5 .5 .2 .5 .2 .5 .8 .5-.8 .5 .7 .5-.5 .5-.2 .5 .7 .5 .1 .5-.5 .5 .2 .5 0 .5 .7 .5-.2 .5-.2 .5 .1 .5-.4 .5 .3 .5-.5 .5-.3"/>
<path d="M4.0 268.4l.5 .1 .5 .7 .5 0 .5-.7 .5-.2 .5 .3 .5 .7 .5-.4 .5 .3 .5-.3 .5 0 .5 .2 .5-.3 .5 .2 .5-.5 .5 .2 .5 .4 .5-.3 .5-.2 .5 .7 .5-.1 .5-.2 .5-.3 .5 .6 .5 .7 .5-1.4 .5-.3 .5 .3 .5-.1 .5-.2 .5 0 .5 .8 .5 .1 .5 .2 .5-.2 .5-.5 .5 .6 .5-.7 .5 .2 .5-.4 .5 1.1 .5-.1 .5-.6 .5 .1 .5 .1 .5 .1 .5 .3 .5-.3 .5 .1 .5-.7 .5 .5 .5-.6 .5 1.4 .5-.1 .5-.4 .5 .2 .5 .3 .5-.4 .5-1.1 .5 .5 .5-.9 .5 .6 .5-.1 .5 .5 .5 .2 .5-.6 .5 .3 .5 .3 .5-.2 .5 0 .5-.9 .5 .8 .5 .5 .5-.2 .5-.8 .5 .5 .5 .3 .5-.6 .5 .7 .5-.6 .5 .2 .5 .1 .5 1 .5-1.1 .5-.1 .5 .6 .5-.5 .5 .3 .5-1 .5 1 .5-.1 .5-.5 .5 1.1 .5-.6 .5 0 .5-.4 .5-.1 .5 .4 .5-.4 .5 .9 .5 .2 .5-.6 .5-.5 .5 .5 .5-.3 .5 .5 .5 0 .5-.2 .5 .2 .5 .4 .5 .2 .5-.9 .5 .5 .5-.4 .5-.3 .5 .9 .5-.3 .5-.1 .5 .1 .5-.3 .5-.3 .5 1.2 .5-.4 .5-.4 .5 .3 .5 .1 .5-.7 .5 .3 .5-.4 .5 .4 .5-.5 .5 1.1 .5-1.1 .5 .4 .5 0 .5-.3 .5 .5 .5-.4 .5-.1 .5 .2 .5-.3 .5 .9 .5-.3 .5 .2 .5-.9 .5 .7 .5-.4 .5 .3 .5 .6 .5-.4 .5-.2 .5 .6 .5-.1 .5 .3 .5-1.6 .5 .9 .5-.4 .5-.2 .5 .4 .5-.6 .5-.5 .5 .6 .5 .2 .5 .9 .5-1 .5-.2 .5-.3 .5 .6 .5 .1 .5 .2 .5-.7 .5 .3 .5-.6 .5 1 .5-.8 .5-.5 .5 1.7 .5-.3 .5-.1 .5 0 .5-.6 .5 .8 .5-.8 .5 1.3 .5-.7 .5-.8 .5 1.2 .5 .5 .5-.9 .5 .6 .5-.5 .5-.1 .5-.9 .5 1.5 .5-.8 .5 .3 .5-.8 .5-.2 .5 .3 .5-1.5 .5-.1 .5-.4 .5 .6 .5 .9 .5 .1 .5 .4 .5-.3 .5 1.2 .5-.8 .5 .2 .5 .8 .5-.8 .5-.5 .5 .3 .5 .2 .5 1 .5-.7 .5-.2 .5 .5 .5 .2 .5-.9 .5 .9 .5-.5 .5-.7 .5-2.1 .5 1.1 .5 .5 .5-.2 .5 1.9 .5-.6 .5-.3 .5 .8 .5-.1 .5 .2 .5-.4 .5 .6 .5-.8 .5 .3 .5-.6 .5 .2 .5 .4 .5-.4 .5 .1 .5 .2 .5 .2 .5 .2 .5 0 .5 .1 .5-.3 .5-.3 .5-.4 .5 .5 .5-.2 .5-.5 .5 1.5 .5-1.5 .5 .9 .5 .1 .5-.4 .5 1.2 .5-1.1 .5-.3 .5 1 .5-1.1 .5-.3 .5 .2 .5 .2 .5 .3 .5 .1 .5-.8 .5 .8 .5 .8 .5-1.3 .5 .2 .5 .4 .5 .2 .5-.8 .5-.1 .5-.1 .5 .9 .5-.1 .5-1.3 .5 0 .5 .4 .5-.1 .5 .8 .5-.1 .5 .8 .5-.5 .5-.3 .5 .4 .5-.9 .5-.2 .5 .6 .5 .4 .5-1.1 .5 1.1 .5 0 .5-.6 .5 .3 .5-.2 .5 .1 .5 .4 .5-.7 .5 .8 .5-.1 .5 .1 .5-1.2 .5 0 .5 1.1 .5-.5 .5 0 .5-.1 .5-.3 .5 .5 .5-.3 .5-.1 .5 .3 .5-1.4 .5 .1 .5-1.4 .5 2.5 .5-.7 .5 1.1 .5 .2 .5-.3 .5 .4 .5-.4 .5-.7 .5 1 .5 .3 .5-.7 .5-.5 .5 .5 .5 .4 .5 0 .5 .4 .5-.3 .5 0 .5-1 .5 1.8 .5-.9 .5 .3 .5-.5 .5 0 .5 .1 .5 .7 .5-.1 .5-.4 .5 .6 .5-1 .5 .3 .5-.4 .5 .7 .5-.6 .5 .4 .5 .3 .5-1.7 .5 1.8 .5-.8 .5-.4 .5-.7 .5 .6 .5-.9 .5 .8 .5-.6 .5-.1 .5-.9 .5 .6 .5 .6 .5 1.2 .5-.7 .5 .6 .5-1 .5 .3 .5 .3 .5 .2 .5-.6 .5 .4 .5 .5 .5-.5 .5 .1 .5-.3 .5 .9 .5 .2 .5-.7 .5-.2 .5 .8 .5-.5 .5-.5 .5-.3 .5 .3 .5 1.2 .5-1.2 .5 1.6 .5-1.2 .5-.1 .5 .8 .5-.7 .5 .3 .5-.5 .5-.1 .5 .2 .5 .4 .5-.4 .5-.6 .5 1 .5-.3 .5-.1 .5-.1 .5-.8 .5 1.7 .5-.9 .5 .4 .5 .4 .5-.2 .5-.4 .5 0 .5 .1 .5 .2 .5-.1 .5-.5 .5 .4 .5 0 .5 .1 .5-.2 .5 .5 .5-.5 .5 .3 .5-.3 .5-.3 .5-.2 .5 .4 .5 .3 .5 .3 .5-.6 .5-.3 .5-.1 .5 .3 .5-1.4 .5-.2 .5 .6 .5-1 .5 .6 .5 .9 .5 .4 .5-.3 .5 1 .5 .4 .5-1.3 .5 .6 .5 .3 .5 .7 .5-1.1 .5-.2 .5 .4 .5 .9 .5-.8 .5 .2 .5 .6 .5-1.6 .5 0 .5 1.3 .5-.1 .5-.9 .5 .8 .5-.2 .5 0 .5-.5 .5 .2 .5-.2 .5 .3 .5-.1 .5 .8 .5-.4 .5-1 .5 .9 .5 .4 .5-.5 .5 .3 .5-.5 .5 .3 .5-.6 .5 .7 .5-.9 .5 1.2 .5-1.2 .5-.2 .5 1.1 .5-.3 .5 .2 .5 .2 .5-.2 .5-.4 .5 .5 .5 0 .5 .1 .5 .6 .5-1.1 .5 .3 .5 .2 .5-.4 .5-.4 .5 .3 .5 .7 .5-.6 .5 .4 .5-.6 .5 .5 .5-.5 .5-.1 .5 .4 .5 0 .5 .6 .5-1.4 .5 .9 .5 .4 .5-.1 .5-.8 .5-.1 .5 0 .5 .3 .5 0 .5 .1 .5 .1 .5-.7 .5 0 .5-.1 .5 0 .5 .6 .5 .1 .5 1 .5-.9 .5-.2 .5 .6 .5-1 .5 .4 .5 .3 .5-.2 .5-.2 .5-.4 .5-.6 .5 .1 .5-1.2 .5 .4 .5-.3 .5 .3 .5-.2 .5 1.8 .5-.5 .5-.1 .5 .1 .5 .4 .5 .8 .5-.2 .5-.7 .5 .5 .5-.1 .5-.6 .5 .3 .5-.4 .5 .5 .5-.8 .5 .9 .5-.1 .5 .1 .5 .1 .5 .8 .5-.6 .5 .3 .5 .3 .5 .1 .5-.1 .5-.6 .5-.2 .5 .1 .5 .2 .5 .2 .5-.1 .5 .5 .5-.5 .5 .8 .5-.3 .5-.7 .5 .6 .5-1.6 .5 1.8 .5-.5 .5 0 .5-.9 .5 1.8 .5-1.2 .5 0 .5 .6 .5-.6 .5-.2 .5 .6 .5-.7 .5 .8 .5-.3 .5 .4 .5-1 .5 1.1 .5-.4 .5 .7 .5-1.2 .5 1.1 .5-.5 .5 0 .5-.7 .5 .6 .5 0 .5-.6 .5-.1 .5 .2 .5 1 .5-.5 .5 .4 .5-.2 .5 0 .5 .1 .5-.2 .5 .7 .5-.5 .5 0 .5-.7 .5 .7 .5-.5 .5 0 .5 .7 .5-1 .5 .4 .5 .4 .5 .2 .5-.7 .5 .4 .5 0 .5-.6 .5-.4 .5 .2 .5 1.1 .5-.2 .5-.7 .5 .3 .5 0 .5 0 .5 .1 .5 .9 .5-1.4 .5 .4 .5-.5 .5 .1 .5-.1 .5 .2 .5-.1 .5 .4 .5-.1 .5-.4 .5 1.2 .5-1.4 .5 .7 .5 .8 .5-1.3 .5 .9 .5 .1 .5-.5 .5-.9 .5 1.4 .5-.5 .5-.3 .5 .8 .5-.8 .5 .7 .5-.7 .5 .4 .5-.7 .5 .3 .5-.2 .5 0 .5 .4 .5-.2 .5 .2 .5 .4 .5-.6 .5-.7 .5 .7 .5 .1 .5 .4 .5 0 .5 0 .5-.5 .5 .4 .5-.9 .5 1.1 .5-.4 .5 0 .5-.4 .5 .2 .5-.4 .5 .5 .5-.8 .5 .9 .5-.1 .5 .7 .5-.9 .5 .1 .5 .1 .5 0 .5 0 .5-.4 .5 0 .5 .3 .5 .1 .5-.4 .5 0 .5 .4 .5 .4 .5-.4 .5 .3 .5 .1 .5-.1 .5-.5 .5 0 .5-.6 .5 .5 .5 .5 .5-.6 .5 1 .5 .1 .5-.8 .5 .6 .5-1 .5 .1 .5 .3 .5 .2 .5-.2 .5-.3 .5 1.2 .5-.7 .5 0 .5 .1 .5-.2 .5-.2 .5-.2 .5-.5 .5 1.3 .5-1.1 .5-.3 .5 .3 .5-.4 .5 1.5 .5-.7 .5 .5 .5 .1 .5-.4 .5 .1 .5-.5 .5 .3 .5-.2 .5 .3 .5-.2 .5 .9 .5-.2 .5-.4 .5-.6 .5 1 .5 .1 .5-.4 .5-.5 .5 .7 .5 .3 .5-1.3 .5 1 .5-1 .5 .7 .5 .7 .5-.8 .5 .1 .5-.4 .5 .1 .5 .9 .5-.5 .5-.7 .5 0 .5 .2 .5 .9 .5-.9 .5 .4 .5-.6 .5-.4 .5 1.1 .5-.6 .5-.4 .5 0 .5 0 .5 0 .5-.5 .5 1.1 .5-.4 .5 .1 .2-.7 .3 .2 .5-.4 .5 0 0-.2 .5-.8 .5-1.4 0-.3 .3-.5 .2-.6 .2-.6 0-.5 .3-.2 .1-1.1 .2-2.2 0 .3 .2-.5 .2 1.4 .2 1.7 0-.8 .1 1.2 .3 1.2 .2 1.5 .1 .3 .1-.1 .3 .9 .5 .6 .1 0 .4 0 .5 .9 .4 .1 .1-.1 .5 .2 .5 .1 .5-.3 .5 .3 .5 .7 .5-.6 .5 .7 .5-.9 .5 0 .5 .7 .5 .4 .5-.6 .5 .6 .5 .2 .5 .2 .5-.5 .5 .1 .5-.8 .5 .5 .5-.1 .5 0 .5-2.3 .5-.9 .5-.1 .5 2.2 .5-.5 .5 1 .5 1.5 .5-.5 .5-.8 .5 .6 .5 .4 .5-.2 .5-.3 .5-.3 .5 .7 .5-.4 .5 .3 .5-.1 .5-.4 .5 .8 .5-.9 .5 .4 .5-.5 .5 .2 .5-.1 .5-.2 .5 .5 .5 .5 .5 .2 .5-.1 .5-.6 .5 .7 .5-.4 .5 .7 .5-1.3 .5 1.2 .5-.8 .5 .8 .5-.7 .5 .6 .5-.4 .5-.7 .5 .4 .5 .4 .5 .1 .5-.9 .5 .4 .5 .2 .5 .2 .5 .2 .5-.5 .5-.3 .5 .7 .5-.3 .5 .5 .5-.6 .5 .5 .5-.6 .5 .5 .5-.1 .5 .1 .5-.5 .5 .3 .5-.3 .5 .3 .5 .4 .5 .9 .5-1.3 .5 .3 .5-.3 .5 .3 .5-.3 .5 .2 .5-.3 .5 .8 .5-.5 .5-1.3 .5 .9 .5-.1 .5-.9 .5 .6 .5 .2 .5-.1 .5 .4 .5-.8 .5 1.1 .5 0 .5-.2 .5-.4 .5 .1 .5-.2 .5 .6 .5-.3 .5 .6 .5-1 .5 .7 .5-.8 .5 .3 .5-.3 .5 .7 .5-.1 .5 .3 .5 .5 .5-.6 .5 .3 .5 .3 .5-.5 .5-.2 .5 .3 .5 .1 .5 .1 .5-.1 .5-.6 .5 .4 .5 .3 .5-.7 .5 .3 .5-.5 .5 .3 .5 .6 .5-.7 .5-.6 .5 .5 .5-.1 .5 .3 .5-1.1 .5 .2 .5 .4 .5-.7 .5 1.2 .5-1.3 .5 .5 .5-.3 .5 .4 .5 .6 .5-.1 .5 .2 .5-.1 .5-1.1 .5 1.1 .5-.9 .5 .6 .5 .1 .5 0 .5 .5 .5-.5 .5 1.1 .5-.5 .5 .2 .5-.2 .5 .1 .5-.4 .5 .8 .5-1.3 .5 .7 .5-.2 .5-.1 .5 .2 .5-.5 .5 .7 .5 0 .5-.3 .5 .2 .5-.7 .5-.4 .5 .5 .5 .2 .5 1.2 .5-1.2 .5 .6 .5-.1 .5 .6 .5-.8 .5 .2 .5-.3 .5-.3 .5 0 .5 .1 .5 1 .5-.5 .5-.1 .5 .1 .5-.2 .5 .2 .5 0 .5 .4 .5 0 .5-1.1 .5 .8 .5 .4 .5-1 .5 .3 .5 .1 .5 .4 .5-.3 .5-.4 .5 .3 .5 .2 .5-.4 .5 .6 .5-.6 .5-.7 .5 .1 .5 .2 .5-.1 .5 .3 .5-.1 .5 .6 .5-.3 .5 .3 .5-.9 .5 .2 .5 .5 .5-.2 .5 .2 .5-.1 .5-.4 .5 1 .5-.3 .5-1.1 .5 .3 .5 .3 .5 .2 .5-.3 .5-.6 .5 .9 .5-.4 .5 .6 .5-.4 .5 .3 .5 0 .5 0 .5-.6 .5 .7 .5-.4 .5-.6 .5 .4 .5 .1 .5 .3 .5 .2 .5-.8 .5 .8 .5-.3 .5-.4 .5 .8 .5-.6 .5-.2 .5 .8 .5 .1 .5-.7 .5 .7 .5 0 .5-.7 .5 1.1 .5-.9 .5 .1 .5-1.1 .5 1.2 .5-.5 .5 .4 .5-.9 .5 1.2 .5 .1 .5 .1 .5-2 .5 1.5 .5-.1 .5-1.4 .5 1 .5 .3 .5 .6 .5-.9 .5 .5 .5-.1 .5 .2 .5-.3 .5 .5 .5 0 .5-1 .5 1 .5-.8 .5 .2 .5 .6 .5-.5 .5 .2 .5 .1 .5-.1 .5-.4 .5-.1 .5 .7 .5 0 .5-.1 .5-.2 .5 .5 .5-.4 .5-.5 .5 .7 .5 0 .5 .1 .5-.7 .5 .1 .5 .4 .5-.3 .5 .1 .5 .4 .5-.2 .5 .6 .5-.7 .5 .6 .5-.2 .5 .6 .5-1 .5-.1 .5 .6 .5-.7 .5 0 .5 .3 .5 0 .5-.7 .5 .7 .5-.3 .5 .1 .5 .1 .5-.2 .5 .5 .5-.2 .5-.3 .5 .1 .5 .5 .5-.1 .5 .2 .5-.6 .5 .2 .5 .8 .5-.9 .5 .8 .5-.4 .5-.6 .5-.4 .5 .8 .5-.6 .5 0 .5-.4 .5 1.2 .5-.5 .5-.1 .5 .2 .5-.1 .5-.1 .5 .2 .5-.4 .5-.9 .5 1.3 .5-.1 .5-.2 .5 .6 .5-1.3 .5-.7 .5 1.8 .5-.5 .5-.9 .5 .4 .5 .3 .5-.9 .5 .6 .5 .5 .5-.6 .4-.8 .1 .1 .5-.9 .5 0 .4-.7 .1-.4 .5-1 .5 .3 .1-1.1 .4-1.4 .4-.6 .1 .5 .5-.5 .1-1 .4 .6 .3 .9 .2-.1 .5 .8 .1 .3 .4 1.3 .5 .6 .3 .3 .2 .6 .5 1 .5 .3 .3-.2 .2 1 .5-.9 .5 .6 .5-.3 .5 1.1 .5-.2 .5-.4 .5 .5 .5 1.2 .5-.3 .5-.1 .5 .5 .5-1.1 .5 .3 .5-.3 .5 .2 .5 .1 .5 .3 .5 .2 .5-.1 .5 .6 .5-1.4 .5 .3 .5 .2 .5-.5 .5 .2 .5 .3 .5-.5 .5 .6 .5 .4 .5-1 .5-.5 .5 1 .5-.5 .5 .5 .5-.3 .5 .4 .5 .3 .5-.2 .5-.5 .5-.3 .5-.6 .5 .1 .5 .6 .5 .4 .5-.3 .5 0 .5-.4 .5-.1 .5 0 .5 .9 .5-1 .5 1.1 .5-.7 .5 .6 .5-.1 .5 .2 .5 .1 .5-.8 .5-.1 .5 .1 .5-.2 .5 .5 .5-.5 .5-.2 .5-.2 .5-.9 .5-.1 0-1.3 .5-.2 .5-1.6 0-.8 .4-2.7 .1 .1 0-.7 .3-3.7 .2-2.2 0 .9 .2-1.8 .2 2.4 .1 1.1 0-.4 .1 1.7 .4 3.4 0 .3 0 .3 .4 2.7 .1-.4 .5 1.9 0 .2 .5 1.1 .5-.6 .5 .5 .5 .7 .5 .4 .5 .3 .5 .1 .5 .8 .5-.5 .5 0 .5-.4 .5 .5 .5 0 .5 0 .5-.4 .5 .3 .5 .4 .5-.9 .5-.6 .5 1.3 .5 0 .5-.4 .5-.1 .5 1.4 .5-1.4 .5-.3 .5 .4 .5 .4 .5-.5 .5 .1 .5 .3 .5-.3 .5 .2 .5-.1 .5-.4 .5 .5 .5-.5 .5 1 .5-.8 .5 .4 .5-.6 .5 .6 .5-.2 .5 1.2 .5-.6 .5 .3 .5-1 .5 .1 .5 .4 .5-.5 .5 .9 .5-.7 .5 .2 .5 0 .5-.3"/>
<path d="M4.0 297.9l.5 .2 .5 0 .5 .3 .5-1.1 .5 .5 .5 .2 .5 .3 .5-.1 .5-.1 .5 .3 .5-1.2 .5 2.3 .5-.9 .5 .1 .5-.7 .5 .5 .5 .6 .5-.1 .5-.7 .5-.5 .5 .6 .5-.2 .5 .4 .5-.9 .5 .4 .5 .2 .5-.4 .5 .6 .5-.9 .5-.1 .5 .3 .5 .5 .5-.4 .5-.1 .5 .6 .5-.2 .5-.3 .5 .3 .5-.1 .5 .4 .5-.2 .5-.3 .5 .1 .5 0 .5 .4 .5 0 .5-.5 .5 .2 .5 .2 .5 .3 .5-.3 .5 .7 .5-.8 .5 .2 .5-.4 .5-.3 .5 .4 .5 .1 .5 0 .5-.1 .5-.3 .5-.2 .5 .3 .5 .4 .5 .2 .5-1.6 .5 1.6 .5 .3 .5 .1 .5-.3 .5 .2 .5-.4 .5 .1 .5 .2 .5-.7 .5 .1 .5 .4 .5-.7 .5 .6 .5-.7 .5 .6 .5-.1 .5-.2 .5-.2 .5 .2 .5-.8 .5 .8 .5 .1 .5 .5 .5-.7 .5 .1 .5 .6 .5 .1 .5-.9 .5 .6 .5 .1 .5-.3 .5-.6 .5 0 .5 .6 .5 .7 .5-1 .5 .7 .5 .1 .5-1.2 .5 .2 .5 .9 .5-.3 .5-.1 .5-.3 .5 .3 .5-.5 .5 1.3 .5-1.5 .5-.2 .5 .8 .5 .5 .5-.7 .5 .2 .5-.4 .5 .4 .5-.4 .5 0 .5-.2 .5 .4 .5 1 .5-.8 .5 .1 .5 .8 .5-1.2 .5-.1 .5 .6 .5-.7 .5 .6 .5 .3 .5-1 .5 .2 .5 .9 .5-1.2 .5 .2 .5 .3 .5-.2 .5-.3 .5 1 .5-.8 .5 .3 .5-.2 .5 0 .5-.4 .5 .9 .5-.5 .5 .7 .5-1 .5 .3 .5 .4 .5-.2 .5-.3 .5 .2 .5-.4 .5 .5 .5-1.1 .5 1.2 .5 .5 .5-.2 .5 0 .5-.5 .5 .4 .5-.4 .5 .1 .5 0 .5-1.3 .5 1.8 .5-.2 .5 .1 .5-.7 .5 .7 .5-.1 .5-1.1 .5 .2 .5 .7 .5-.3 .5 .3 .5-.3 .5 .9 .5-1.4 .5 .2 .5 .1 .5-.1 .5 .3 .5 .2 .5-.6 .5 .7 .5 .4 .5-.1 .5 .3 .5-.4 .5-.7 .5 .4 .5-1.5 .5 .5 .5-.8 .5-.7 .5 .4 .5 1.5 .5 .6 .5-.1 .5 .6 .5-.8 .5 .2 .5 .7 .5-.3 .5 0 .5 .5 .5-.1 .5-.8 .5 .4 .5-.8 .5 .7 .5 .1 .5-.9 .5 1.2 .5 .1 .5-.9 .5-.5 .5-.6 .5-.8 .5 .5 .5 0 .5 .1 .5 .5 .5 .3 .5 .7 .5-.3 .5 .4 .5-.5 .5-.3 .5 1.4 .5 .3 .5-.9 .5-.1 .5 .6 .5-.9 .5 .4 .5-.5 .5 .8 .5-.1 .5-.2 .5-.1 .5-.4 .5 .3 .5 .9 .5-.6 .5 .6 .5-.9 .5 .3 .5-.1 .5 0 .5 .4 .5-1.1 .5 1.1 .5 0 .5-.3 .5 0 .5-.1 .5 .4 .5-.3 .5-.3 .5 .4 .5 .3 .5-.2 .5-.2 .5 .1 .5-.3 .5 0 .5-.5 .5 .7 .5 .4 .5-.5 .5-.2 .5 .7 .5-.3 .5 0 .5 .1 .5 0 .5-.3 .5-.4 .5 1 .5-.7 .5-.3 .5 .3 .5 .4 .5-1.1 .5 1.1 .5-.6 .5 .8 .5-.5 .5-.4 .5 .5 .5 0 .5-.6 .5 .2 .5-.4 .5 .7 .5-.9 .5 .6 .5-.7 .5 1.1 .5-1.1 .5 .6 .5 .6 .5-.2 .5 0 .5-.3 .5 .2 .5-.6 .5 .8 .5 .1 .5-.3 .5-1 .5-.4 .5-.3 .5 .8 .5 .6 .5 .2 .5-.2 .5-.7 .5 1.4 .5-.3 .5 .9 .5-1.6 .5 1.2 .5-.7 .5 .3 .5-.3 .5 .4 .5-.1 .5 .3 .5-.3 .5 .1 .5 .4 .5-.4 .5-.2 .5 .5 .5-.5 .5 .2 .5-.3 .5-.1 .5-1 .5 1.5 .5-.7 .5 .7 .5 .4 .5-1.2 .5 .9 .5-.3 .5 .2 .5-.6 .5 .5 .5 0 .5 .5 .5 .3 .5-.8 .5-.6 .5 .4 .5-1.8 .5-.1 .5 .1 .5 .4 .5 .9 .5-.2 .5 .3 .5 .8 .5 0 .5-.4 .5-.1 .5-.1 .5 .5 .5-.6 .5 .3 .5-.2 .5 0 .5 .3 .5-.1 .5-.2 .5 .2 .5 0 .5-.2 .5-.1 .5 .2 .5 .3 .5 .1 .5-.4 .5-.1 .5 .1 .5 .8 .5-.4 .5-.7 .5 .4 .5-.2 .5 .1 .5-.5 .5 .7 .5-.5 .5 .3 .5 .8 .5-.2 .5-.7 .5-.1 .5 .1 .5-.4 .5 .4 .5 .3 .5-.3 .5 .7 .5-.3 .5-.2 .5 .9 .5-.4 .5-.3 .5 .7 .5-.2 .5-.8 .5 .4 .5-.3 .5-.4 .5 1.3 .5-.2 .5-1.1 .5 .7 .5-.9 .5 1.1 .5-.5 .5-.1 .5 .5 .5-.6 .5-.2 .5 .3 .5-.7 .5 0 .5-1.3 .5 .3 .5-.1 .5 .1 .5-.7 .5 2.1 .5-.3 .5 1 .5-.8 .5 .2 .5 .1 .5 .7 .5-.6 .5 .3 .5-.7 .5 .4 .5 .3 .5-.1 .5-.7 .5 1 .5-.6 .5 1.2 .5-.8 .5 1 .5-.7 .5 0 .5-.4 .5 .1 .5 .3 .5-1 .5 1.2 .5-.9 .5 .4 .5-1 .5 1.3 .5 .2 .5-.2 .5 0 .5-.2 .5 .2 .5 .5 .5-.7 .5 .4 .5 .1 .5-.4 .5 .1 .5 0 .5-.3 .5 1.1 .5-1.2 .5 .9 .5-.3 .5-1.3 .5 .9 .5 .3 .5-.2 .5-.7 .5 .4 .5-.6 .5 .1 .5 .2 .5 .2 .5 .5 .5-.5 .5 .3 .5-.9 .5 0 .5 .3 .5 1 .5-1.3 .5-.1 .5 .6 .5 .6 .5-1.2 .5 .6 .5-.4 .5 1.1 .5-.3 .5-.1 .5-.2 .5 0 .5 .1 .5-.3 .5 0 .5-.1 .5 .5 .5-.4 .5 .7 .5-1.1 .5 1.1 .5 0 .5 .3 .5-.6 .5-.6 .5 .2 .5 .8 .5-.7 .5-.1 .5-.1 .5 .1 .5-.2 .5-.6 .5 .1 .5 .3 .5-.9 .5-.6 .5-.1 .5 .8 .5 .1 .5 .3 .5 .7 .5 .6 .5 .4 .5-.8 .5 .5 .5-.4 .5 .7 .5-.4 .5 0 .5-.5 .5 .3 .5 0 .5-1.4 .5 1.8 .5-.4 .5-.1 .5-.1 .5 .2 .5 0 .5-.6 .5 .5 .5 0 .5-.1 .5-.6 .5 .6 .5-.4 .5 .7 .5 .4 .5-.2 .5-.4 .5-.1 .5 .1 .5 .4 .5-.5 .5 0 .5-.8 .5 .7 .5 0 .5 0 .5 .7 .5-1.1 .5 0 .5 .8 .5-.7 .5 .4 .5 .1 .5 0 .5-.3 .5 .7 .5 .3 .5-1.1 .5 .4 .5 .5 .5-.5 .5-.3 .5 .2 .5 .5 .5-.7 .5 .5 .5 0 .5-.4 .5 .5 .5 0 .5 .1 .5 0 .5-.9 .5 .9 .5-.1 .5 .2 .5-.7 .5 .7 .5-.2 .5-.6 .5 .9 .5-.8 .5-.2 .5 .6 .5-.5 .5 .4 .5-.3 .5 .2 .5 .2 .5-.4 .5 .4 .5 .1 .5-.7 .5 .7 .5 0 .5-.2 .5 .4 .5 .3 .5-.3 .5-.9 .5 .7 .5-.3 .5-.1 .5 .2 .5-.3 .5 .7 .5-.6 .5-.1 .5 .2 .5 0 .5 .2 .5-.2 .5-.3 .5 .1 .5-.9 .5 .4 .5 1 .5-.5 .5 .9 .5 0 .5-1.2 .5 .6 .5 1.1 .5-1.5 .5 .5 .5-.3 .5 0 .5 0 .5 .1 .5 .3 .5-.6 .5 .6 .5-.5 .5 .6 .5-.1 .5-.4 .5 .4 .5-.3 .5 0 .5 .9 .5-1.2 .5 .9 .5 0 .5-.5 .5 .7 .5-.1 .5-1 .5 .8 .5-.1 .5-.5 .5 .5 .5 .1 .5-.7 .5-.5 .5 1 .5-.5 .5-.4 .5 .5 .5-.9 .5 .9 .5 .7 .5-1.8 .5 1.4 .5-.6 .5 .2 .5-.2 .5 .6 .5-.3 .5-.3 .5-.2 .5 .3 .5 .7 .5-.9 .5 .7 .5-.1 .5-.9 .5 1.3 .5-.5 .5 1 .5-.2 .5-.8 .5 0 .5-.4 .5-.1 .5 .9 .5-.5 .5-.1 .5 .1 .5 .3 .5 .1 .5-.3 .5 0 .5 .2 .5 .8 .5-1.6 .5 .4 .5 .8 .5-.1 .5 .5 .5 .1 .5 .2 .5-1.3 .5 .5 .5-.5 .5 .4 .5-.4 .5 .2 .5-.8 .5 .3 .5-.4 .5 .1 .5 0 .5-.1 .5 .9 .5-.3 .5 .4 .5-.8 .5-.3 .5 .6 .5 .2 .5 .4 .5 0 .5 0 .5 .1 .5-.4 .5-.3 .5-.4 .5 .5 .5-.5 .5-.2 .5 .6 .5 0 .5 .3 .5-.6 .5 .9 .5-.3 .5-.1 .5-.2 .5-.1 .5 0 .5 1.1 .5-1.3 .5 .8 .5-.4 .5-.2 .5 0 .5 .1 .5 .4 .5-.2 .5-.3 .5-.6 .5-.1 .5 1.5 .5-1.2 .5-.3 .5 1.1 .5-1.2 .5 .8 .2 .1 .3-.4 .5 0 .5-1.5 0 .1 .5-.3 .5-1 0-.1 .3-.5 .2-1.2 .2-1.3 0 .8 .3-1.8 .1-.1 .2-.8 0-.9 .2-.4 .2 .2 .2 2.2 0-.1 .1 .4 .3 2 .2 .1 .1 .9 .1 .4 .3 1.2 .5-.6 .1 .9 .4 1.3 .5-.7 .4 .3 .1 .9 .5 .6 .5-.9 .5-.2 .5 .2 .5 .2 .5-.1 .5 .1 .5 .4 .5-.1 .5 .2 .5-.2 .5-.5 .5 .8 .5-.2 .5-.4 .5 .1 .5 .2 .5-.2 .5-.2 .5 .3 .5-.2 .5-1.2 .5-1.6 .5-.6 .5 .6 .5 2 .5 .8 .5 .1 .5 0 .5-.2 .5 .5 .5-.5 .5 .5 .5-.1 .5-.4 .5 .6 .5-.3 .5 .3 .5-.5 .5 .3 .5 .4 .5-.6 .5 .2 .5-.7 .5 .1 .5-.7 .5 .7 .5-.4 .5 .6 .5-.9 .5 .6 .5 .4 .5 .2 .5-.8 .5 .6 .5 1.2 .5-.7 .5-.2 .5-1.2 .5 .7 .5 .6 .5-.2 .5 .1 .5 .2 .5-.4 .5 .3 .5-1.1 .5 1.8 .5-1.1 .5-.1 .5 1 .5-.3 .5 .2 .5-.6 .5 .4 .5 .2 .5-.7 .5 .4 .5 0 .5-.1 .5-.1 .5-.3 .5 .7 .5-.1 .5 .4 .5-.5 .5-.3 .5-.3 .5 .6 .5-.2 .5 1 .5 .1 .5-.3 .5-1.1 .5-.2 .5 .5 .5-.3 .5 1 .5-.5 .5-.3 .5 .2 .5 .6 .5-.9 .5 .6 .5-.8 .5 .5 .5-.2 .5 .4 .5-.1 .5 .5 .5-.3 .5-.5 .5-.3 .5 .2 .5 .2 .5 0 .5-.2 .5 .8 .5-.1 .5-.5 .5-.1 .5 .1 .5 0 .5 0 .5-.7 .5 .5 .5-.6 .5 .8 .5 .4 .5-.7 .5 .5 .5-.2 .5 0 .5 1.1 .5-.3 .5-.2 .5-.3 .5 .3 .5-.3 .5 .3 .5-.6 .5 .3 .5-.2 .5-.4 .5 1.2 .5-.4 .5-.7 .5-.3 .5 .3 .5 0 .5 .1 .5-.4 .5 .2 .5 .4 .5 .1 .5-1 .5 .8 .5-.4 .5 0 .5 .2 .5-.1 .5 .5 .5 0 .5-.5 .5-.1 .5 .9 .5 .1 .5-.6 .5-.2 .5 .4 .5 .2 .5-.7 .5 .9 .5-.8 .5 .6 .5-.7 .5 .3 .5-.2 .5 .2 .5 .4 .5-.8 .5 .3 .5 .4 .5-.4 .5 1 .5-1.4 .5 1.6 .5-1.3 .5 .7 .5 .2 .5-.4 .5-.8 .5 .4 .5 .2 .5 .2 .5 .2 .5 0 .5 .2 .5-1.1 .5 .8 .5-1.1 .5 .8 .5-.5 .5-.3 .5 1.1 .5-.4 .5 .4 .5-1.1 .5 .2 .5 .5 .5-.3 .5 .4 .5-.3 .5 .1 .5-.3 .5 1 .5-.7 .5-.3 .5 .7 .5-.1 .5-.1 .5 0 .5-.3 .5 .1 .5-.9 .5 .2 .5 .1 .5 .7 .5 .4 .5-.5 .5-.1 .5 .6 .5-.6 .5 .5 .5-.1 .5-.7 .5 .7 .5-.1 .5-.6 .5 .1 .5-.2 .5 1.1 .5 .3 .5-.6 .5 .3 .5-1.3 .5 1.1 .5 .3 .5-.1 .5-1.1 .5 .9 .5-.5 .5 .5 .5-.7 .5 .3 .5-.2 .5 .4 .5-.2 .5 .5 .5-.1 .5-.2 .5-.2 .5-.1 .5 .1 .5 .3 .5-.2 .5 0 .5-.1 .5 .1 .5-.2 .5-.5 .5 1 .5 .1 .5-.6 .5 1.2 .5-1.3 .5 1 .5-.3 .5 0 .5 .3 .5-.1 .5-.4 .5-.4 .5-.1 .5 .6 .5 .6 .5-.4 .5-.3 .5 .1 .5 .1 .5 .5 .5-1.1 .5 .6 .5-.2 .5-.4 .5-.1 .5 .9 .5-.4 .5-.2 .5 .1 .5 .3 .5-.4 .5 .6 .5-.8 .5-.2 .5 .2 .5-.4 .5 .3 .5 .7 .5 .2 .5-.4 .5-.2 .5-.5 .5 0 .5 .6 .5-.1 .5-.3 .5 .1 .5 .9 .5-.2 .5-.4 .5 .1 .5 .5 .5-.4 .5 0 .5-.8 .5 0 .5-.1 .5-.1 .5 1 .5 .1 .5-.5 .5 .6 .5 0 .5-.2 .5-.6 .5 1.2 .5-.1 .5-.8 .5 1 .5-.9 .5-.4 .5 .1 .5-.7 .5 .6 .5-.6 .5 1.1 .5-.3 .5-.7 .5 .8 .5-.9 .5 .8 .5 .1 .5-.1 .5-.5 .5 .5 .5-.1 .5 .2 .5 .6 .5 0 .5 0 .5-.9 .5-.1 .5 .4 .5 .1 .5-1 .5 .6 .5 1 .5-1.3 .5 .2 .5 0 .5 .5 .5-.2 .5-.1 .5-.5 .5 .8 .5-.2 .5-.4 .5 .3 .5 .3 .5-1 .5-.1 .5 .1 .5 0 .5-1 .5 .9 .5 .5 .5-.8 .5 .4 .1-1.7 .4 .9 .5 .2 .5-.4 .1-1 .4-.7 .5-.4 .3-1.4 .2-.1 .5-1.6 .1 .6 .4-.7 .3 .5 .2-.5 .5 .2 0 .3 .5 .5 .3 1.2 .2 .4 .5 1.2 .5 .9 0-1.2 .5 1.5 .5 .5 .5-.5 .5 1.5 .5-.8 .5 1.5 .5-.5 .5 .3 .5-.2 .5 .5 .5-.8 .5 .2 .5-.4 .5 1.2 .5-.6 .5 .6 .5-.1 .5-.8 .5 .8 .5-.2 .5-.1 .5 .1 .5-.3 .5 0 .5 .5 .5-.9 .5 0 .5 .2 .5 .8 .5-.6 .5 1 .5-2.1 .5 1.1 .5 .1 .5 .3 .5 .5 .5-.7 .5-.3 .5 .8 .5 .3 .5-1.7 .5 1.3 .5-.1 .5-.5 .5 .2 .5 .3 .5-.1 .5-.1 .5-.4 .5 .7 .5-.4 .5 .3 .5-.3 .5 .3 .5 .3 .5-.3 .5 .2 .5-.9 .5 .7 .5-.1 .5-.4 .5 .1 .5-1.2 .5 1.2 .5-.3 .5-1 .5 1 .5-.7 .2 .2 .3-.4 .5-.3 .2-.6 .3-.7 .5-1.1 .2-.5 0-1.5 .3-.7 .1-1.1 .1-.7 .3-1.8 0-.4 .2-2.7 0-.1 .2 0 .1-.3 .1 1.1 .1 .6 .1 1.9 .2 2.4 .2 1 0 .6 .3 2.3 .1 0 .4 1.6 .2 .1 .3 .9 .5-.6 .2 .5 .3-.1 .5 1.9 .5-.6 .5 0 .5-.2 .5-.1 .5-.7 .5 2.1 .5-.9 .5 0 .5-.6 .5 .6 .5 .2 .5-.2 .5 .3 .5-.6 .5 .5 .5 .3 .5-.1 .5-.1 .5-.2 .5-.3 .5 .7 .5-.4 .5-.2 .5 .7 .5-.9 .5 .4 .5 .6 .5 .1 .5-.5 .5 .2 .5 .2 .5-.3 .5-.3 .5 .5 .5-.2 .5-.1 .5 .4 .5-.4 .5-.4 .5 .3 .5 .7 .5-1.2 .5 .2 .5-.3 .5 .5 .5-.7 .5 .7 .5 .1 .5-.6 .5-.1 .5-.2"/>
<path d="M4.0 327.5l.5-.4 .5-.1 .5 1 .5-1 .5 .3 .5 .5 .5-1.4 .5 1.1 .5-.4 .5-.1 .5 .1 .5-.6 .5-.4 .5 1.7 .5-.9 .5 .5 .5 .1 .5-.3 .5 .1 .5 .1 .5 .4 .5-.4 .5 .3 .5-.7 .5 0 .5 .2 .5 .1 .5 .1 .5 .6 .5-.5 .5-.3 .5 .8 .5-.7 .5 .1 .5 0 .5-.3 .5-.3 .5 .5 .5-.1 .5-.2 .5 .4 .5-.1 .5-.2 .5-.5 .5 .6 .5 .8 .5-.4 .5 .1 .5-.5 .5 .5 .5-.8 .5 .1 .5 .4 .5-.8 .5 .7 .5 .1 .5 .6 .5-1 .5 .5 .5-.4 .5 .1 .5-.9 .5 .7 .5 .9 .5-.3 .5-.2 .5 .9 .5-.8 .5-.8 .5 .4 .5 .1 .5 .6 .5-1 .5 .6 .5 .2 .5-.7 .5 .3 .5-.8 .5 .9 .5-1 .5 .8 .5 .9 .5-.6 .5-.1 .5 .1 .5 .8 .5-.6 .5 .2 .5-.6 .5 .1 .5-.3 .5 .4 .5-.2 .5 .7 .5-.2 .5-.3 .5-.2 .5-1 .5 1 .5 .4 .5 .1 .5-1.6 .5 .3 .5 1.1 .5-.5 .5 .3 .5-.1 .5 .4 .5-1 .5 .6 .5 .6 .5-.3 .5-.5 .5 .6 .5-.1 .5-.5 .5 .6 .5 0 .5-.3 .5 .4 .5-.8 .5 .8 .5-.4 .5-.3 .5 .2 .5 .7 .5-.7 .5 .1 .5-.1 .5 0 .5 .7 .5 .6 .5-.4 .5-.3 .5 .1 .5-.4 .5-.1 .5-.3 .5 1.1 .5-.7 .5-.2 .5 .1 .5 .3 .5-.4 .5 .2 .5 .1 .5 .4 .5-1.1 .5 .6 .5-.4 .5 0 .5 .8 .5-.4 .5-.4 .5 .3 .5-.2 .5 .5 .5-.7 .5 .4 .5-.3 .5 .1 .5-.1 .5-.2 .5 .3 .5 .4 .5-.7 .5 .1 .5 .3 .5-.5 .5 .7 .5-.1 .5-1.2 .5 .7 .5-.1 .5 .8 .5 .1 .5-.8 .5 .3 .5 .3 .5-.1 .5 .5 .5 .2 .5-.2 .5 .1 .5-.1 .5-.5 .5-.2 .5-.2 .5 .6 .5-.1 .5 0 .5-.6 .5-.1 .5 .2 .5 .3 .5-.5 .5-.4 .5-1.2 .5 .1 .5 0 .5-.6 .5 1.1 .5-.4 .5 1.4 .5-.2 .5 .4 .5-.3 .5 .2 .5 .5 .5-.3 .5 0 .5 .6 .5-.1 .5-.2 .5 .1 .5 .6 .5-.8 .5 .3 .5 0 .5-.8 .5-.3 .5 .8 .5 .1 .5-.7 .5-1.5 .5-.1 .5 .6 .5-.5 .5 0 .5 1.6 .5 0 .5 .2 .5 .3 .5 .2 .5-.2 .5-.3 .5-.7 .5 1 .5-.2 .5 .7 .5 0 .5-.3 .5 .3 .5-.6 .5 0 .5-.4 .5 .2 .5 .2 .5 .3 .5-.7 .5 .6 .5 .6 .5-1.5 .5 .5 .5 .1 .5 .4 .5 .4 .5-.3 .5-.5 .5-.3 .5 .4 .5 0 .5 .1 .5-.4 .5 1.1 .5-.9 .5 .6 .5-.1 .5-.5 .5 .5 .5 .1 .5-.1 .5 .4 .5-.6 .5 1.3 .5-.7 .5-.8 .5-.7 .5 1.5 .5-.4 .5-.2 .5-.4 .5-.2 .5-.2 .5 1.8 .5-.4 .5-.9 .5 1 .5-1.6 .5 1.1 .5 0 .5-.7 .5 .2 .5-.2 .5 .4 .5 .6 .5-.2 .5-.2 .5 .3 .5-1.2 .5 1.6 .5-.9 .5-.5 .5 .4 .5-.1 .5 .3 .5 .1 .5-1.1 .5 1.5 .5 .2 .5-1.2 .5 1.1 .5-.2 .5-.1 .5 .2 .5-1.4 .5 .6 .5-1.6 .5 .8 .5-1.4 .5 .8 .5 1.6 .5 0 .5-.2 .5 .1 .5 .2 .5 .5 .5-1.1 .5 .1 .5 0 .5 .2 .5 0 .5-.6 .5 .7 .5-.7 .5 .4 .5 .1 .5 0 .5 .7 .5 .1 .5-.3 .5 .2 .5-.7 .5 .8 .5-.5 .5 .1 .5 .1 .5-.6 .5 .4 .5 .2 .5 .3 .5-.1 .5-.4 .5-.2 .5 .4 .5-.5 .5-.1 .5 .3 .5 0 .5-.6 .5-.6 .5 .3 .5-.7 .5-.5 .5 .1 .5-.8 .5 2.5 .5-.4 .5 1 .5-.4 .5 .3 .5 0 .5-.7 .5 1.9 .5-1.8 .5 .6 .5-.4 .5 .2 .5 .7 .5-1.4 .5 .6 .5 .3 .5-.1 .5 .1 .5-.4 .5-.3 .5 .1 .5 .5 .5 .5 .5-.2 .5 .6 .5-.5 .5 0 .5 0 .5-.8 .5 .9 .5-.7 .5 .3 .5 1.1 .5-1.5 .5 .6 .5 0 .5-.1 .5 0 .5-.3 .5 1 .5-1.7 .5 .4 .5 1.1 .5-.4 .5-.6 .5-.1 .5 .3 .5 1.3 .5-.9 .5-.6 .5 .6 .5-.3 .5 .9 .5-.4 .5 .4 .5-.4 .5 .7 .5-.7 .5-.1 .5-.6 .5 .1 .5 .3 .5-.4 .5 1.1 .5-1.1 .5-.4 .5 .7 .5-.7 .5 .4 .5-.4 .5-.4 .5 .3 .5-1.3 .5 .4 .5-.6 .5-.4 .5 .2 .5 1.2 .5 .5 .5 .3 .5 .3 .5-.7 .5 .7 .5-.6 .5 .2 .5 1.4 .5-.6 .5-.6 .5 .9 .5-.2 .5-.2 .5 .3 .5-.8 .5 .1 .5-.3 .5 .6 .5-.8 .5 .4 .5 .4 .5-.4 .5 .4 .5 .6 .5-1.2 .5 1 .5-.8 .5-.1 .5 .4 .5 .4 .5-.8 .5 0 .5 .1 .5-.1 .5 .3 .5-.3 .5 .1 .5 .3 .5-.3 .5 .6 .5-.7 .5 0 .5 1.2 .5-.3 .5-.5 .5 .3 .5-.2 .5-.3 .5 .5 .5-.1 .5 .4 .5-1.2 .5 1.1 .5-.2 .5-.3 .5 .1 .5 .1 .5-.4 .5 .3 .5 .5 .5-1.1 .5 .4 .5-.9 .5 .7 .5 .3 .5-.2 .5 0 .5-.6 .5 .7 .5-.6 .5 .8 .5-.3 .5-.3 .5 .8 .5-.7 .5 .6 .5-.4 .5 0 .5 .4 .5-.2 .5-.2 .5-.1 .5 .2 .5-.1 .5-.1 .5-.3 .5-.7 .5 1 .5 0 .5 .6 .5-.3 .5 .3 .5 .2 .5-.8 .5-.3 .5 .6 .5-.7 .5 0 .5 .3 .5-1.4 .5 .3 .5-1 .5 .6 .5 1 .5-.2 .5 .9 .5 .3 .5-1 .5 1.7 .5-1 .5 .3 .5 .8 .5-1.5 .5 1 .5-.4 .5 .2 .5-.4 .5 .9 .5-1 .5 .6 .5 .1 .5-.3 .5-.1 .5 0 .5 .6 .5-.3 .5-.2 .5-.4 .5 .5 .5 .2 .5-.3 .5 .6 .5-1.4 .5 1.9 .5-1.2 .5-.4 .5-.2 .5 1.1 .5-.1 .5-.3 .5 .1 .5 .2 .5-.3 .5 .8 .5-.2 .5-.3 .5-.6 .5 1.3 .5-.8 .5-.3 .5 .9 .5-.4 .5-1.2 .5 .1 .5 .5 .5-.5 .5 .4 .5 1.1 .5 .2 .5-1.3 .5 .3 .5 .1 .5-.5 .5-.5 .5 1 .5-.5 .5 .3 .5 .1 .5-.6 .5 1.1 .5-.7 .5 .1 .5-.3 .5 .5 .5 .2 .5-.6 .5 .5 .5-.4 .5-.4 .5 .4 .5 .4 .5 0 .5 .2 .5-.7 .5 .2 .5 .1 .5 .3 .5-.4 .5-.3 .5-.3 .5 1.2 .5-.1 .5-.7 .5 .9 .5-.7 .5 .2 .5 .3 .5-.7 .5-.1 .5-.5 .5 .9 .5 0 .5 .2 .5-.1 .5-.2 .5 .4 .5-1 .5 .6 .5 .1 .5-.3 .5 .8 .5-.6 .5 .4 .5-.2 .5-.5 .5 .9 .5-.4 .5-.4 .5-.1 .5-.3 .5 .4 .5 0 .5 .2 .5-.3 .5 .5 .5-.3 .5-.6 .5 .5 .5-.2 .5-.2 .5 .5 .5 .4 .5-.8 .5-.4 .5 .8 .5 1.3 .5-1.5 .5 .3 .5-.3 .5 .6 .5 .2 .5-.7 .5 .6 .5-.9 .5 .5 .5-.6 .5 .6 .5-.3 .5 .3 .5-.6 .5 .6 .5-.1 .5-.3 .5-.1 .5-.1 .5 .3 .5 .3 .5-.2 .5 .1 .5 .6 .5-.7 .5 .4 .5 .2 .5-.1 .5 0 .5 0 .5 .8 .5-.8 .5-.1 .5 .4 .5 .4 .5-.1 .5-.6 .5 .3 .5-.2 .5-.2 .5 .2 .5 0 .5-.2 .5 .7 .5-.8 .5 .8 .5 .3 .5 0 .5-.7 .5-.2 .5-.6 .5 .7 .5 1 .5-1.7 .5-.1 .5 1 .5-.1 .5-1.1 .5 .7 .5 .1 .5-.9 .5 1 .5-.9 .5 1 .5-.3 .5-.4 .5-.4 .5 .6 .5 .1 .5 0 .5-.2 .5 .2 .5 .4 .5-.7 .5 .2 .5 .3 .5-.2 .5 .4 .5 .3 .5-.9 .5 .3 .5-1.4 .5 1.1 .5 .5 .5-.8 .5 1 .5-1.3 .5 1.4 .5-.8 .5-.2 .5 .2 .5 .1 .5-.3 .5-.2 .5 .4 .5 .6 .5-.3 .5 .4 .5-.8 .5 .1 .5 0 .5 .2 .5 .1 .5 .5 .5-.4 .5-.3 .5 .5 .5-.9 .5-.2 .5 .8 .5-.2 .5-.1 .5 .3 .5-.6 .5 0 .5 .1 .5 0 .5 0 .5-.5 .5-.2 .2-1.2 .3 1.3 .5-1.5 .5 .3 0 1 .5-1.8 .5-1.5 0 1.2 .3-1.6 .2-.5 .2-.6 0 .1 .3-1.5 .1-.9 .2-.8 0-.9 .2 .2 .2 .2 .2 2.1 0-.5 .1 .6 .3 2.5 .2-.1 .1 .2 .1 1.2 .3 .4 .5 .8 .1 .3 .4 1.4 .5-1 .4 .6 .1 .2 .5-.2 .5 .5 .5 .4 .5-.5 .5 .9 .5-.9 .5 .5 .5 .2 .5 1.2 .5-2.2 .5 .8 .5 .9 .5-1.3 .5 .6 .5-.4 .5-.8 .5 .7 .5-.6 .5 .4 .5-.7 .5 .7 .5-1.7 .5 0 .5-.7 .5-.3 .5 .7 .5 1.3 .5 .4 .5 1.6 .5-1 .5 .1 .5-.2 .5 .2 .5 .5 .5-.5 .5 0 .5 .1 .5 .1 .5 .3 .5-.3 .5 .2 .5-.2 .5 .8 .5-.4 .5-.2 .5 .3 .5-.1 .5-.7 .5 .6 .5 .7 .5-.5 .5 .2 .5-.8 .5-.3 .5 .3 .5 .8 .5-1 .5 .1 .5 .8 .5-.6 .5 .1 .5 .2 .5-.1 .5-.1 .5 .2 .5-.4 .5 .3 .5 .3 .5-.7 .5 .4 .5-.3 .5 .8 .5 0 .5 .1 .5 .1 .5 0 .5-.1 .5-.6 .5 .7 .5-.8 .5 1.4 .5-.9 .5 .1 .5-.8 .5 1 .5 0 .5-1.1 .5 .3 .5 0 .5-.1 .5 .8 .5 .3 .5-1.4 .5 .9 .5-.6 .5 .7 .5-1.7 .5 .9 .5 .6 .5-.8 .5 .8 .5-.7 .5 .7 .5-.2 .5-.5 .5-.1 .5 .2 .5 .6 .5-.4 .5-.3 .5 1.7 .5-2 .5 .6 .5 .4 .5-.6 .5 .4 .5-.1 .5-.5 .5 .8 .5-.7 .5 .2 .5 .8 .5-1 .5 .7 .5 .2 .5-.1 .5-.2 .5-.3 .5-.5 .5 .6 .5 .1 .5-.4 .5-.2 .5 .7 .5-.8 .5 .6 .5-.4 .5-.5 .5 1.4 .5-.4 .5 0 .5-.8 .5 .5 .5 .2 .5-.4 .5 1 .5-1.6 .5 1.2 .5-1.1 .5 .2 .5 .1 .5 .8 .5-.5 .5 0 .5-.1 .5-.2 .5 .2 .5 0 .5 .2 .5 0 .5-.9 .5 .8 .5 .7 .5-.7 .5 .2 .5-.3 .5 0 .5 .2 .5-.5 .5 .5 .5-.6 .5 .8 .5-.8 .5 .9 .5 .2 .5-1.1 .5 .9 .5-.4 .5 .6 .5-.7 .5 .1 .5 0 .5 .7 .5-1.4 .5 1.2 .5-.3 .5-.3 .5 .1 .5 .5 .5-.1 .5 .4 .5-1.1 .5-.5 .5 .5 .5 .1 .5-.1 .5 .7 .5 .5 .5-.7 .5-.9 .5 1.3 .5-.6 .5 .3 .5 .4 .5-.1 .5-.1 .5 .2 .5 .2 .5-.1 .5 .6 .5-2.1 .5 .9 .5 .1 .5 .5 .5-.2 .5 .2 .5-.9 .5 .5 .5 .3 .5-.2 .5-.2 .5 .3 .5 .6 .5-1.6 .5 1.6 .5-.6 .5-.4 .5 .6 .5-.3 .5 .4 .5-.9 .5 .8 .5-.9 .5 .5 .5 .1 .5-.3 .5 .2 .5-.5 .5 .7 .5-.6 .5-.1 .5 .2 .5 .1 .5-.3 .5 .6 .5-.3 .5 .3 .5-.9 .5 .1 .5 .4 .5-.3 .5 .4 .5 .3 .5 .3 .5 .1 .5-.3 .5-.6 .5 .6 .5-.5 .5 .5 .5-.7 .5 1 .5-.4 .5-.3 .5-.4 .5 .7 .5-.3 .5 .2 .5-.4 .5 0 .5 .4 .5 .3 .5-1.2 .5 .4 .5 .2 .5-.3 .5-.2 .5 1.2 .5-1.3 .5 .6 .5-.3 .5 .2 .5-.9 .5 1.4 .5-.4 .5-.3 .5 1.2 .5-.9 .5-.1 .5-.2 .5 .8 .5-.5 .5-.1 .5-.5 .5 .2 .5 .4 .5-.1 .5-.9 .5 .5 .5 .5 .5 1.1 .5-1.4 .5-.6 .5 1.2 .5-.5 .5-.3 .5 .8 .5-.3 .5-.4 .5-.1 .5 .5 .5 0 .5-.8 .5 1.2 .5-1 .5 1.1 .5-.4 .5-.2 .5 .3 .5-.4 .5 .3 .5 .8 .5-.9 .5 .6 .5-.6 .5 .4 .5 .5 .5-1 .5 .6 .5-1 .5 .4 .5 .2 .5 .6 .5-.1 .5-.7 .5 .3 .5 .1 .5-.8 .5 .8 .5 .4 .5 0 .5-.8 .5 0 .5-.2 .5 .2 .5 .1 .5 .3 .5-.2 .5-.4 .5 .8 .5 0 .5-.6 .5 .2 .5 .1 .5-.6 .5 .8 .5 .2 .5 .5 .5-.8 .5-.2 .5 0 .5 .3 .5 0 .5-.7 .5 .4 .5 .2 .5-1.2 .5 1.4 .5-.7 .5 .4 .5-.4 .5-.1 .5 .1 .5 .1 .5 .2 .5-.5 .5-.4 .5 .1 .5-.1 .5 .7 .5-.7 .5 1 .5-.7 .5-.1 .5 .5 .5-.8 .5-.1 .5 .2 .5-.2 .3-.9 .2 1.3 .5-1.1 .5-1.3 .3 .1 .2 .2 .5-1.2 .5-.7 0 .5 .5-1.7 .3-.1 .2-1 .5-.9 .5 1.3 .2-.5 .3 1.3 .5 .9 0-.5 .5 1.1 .5 1.1 .2 .5 .3 .8 .5-.1 .5 1.2 .2-.3 .3-.5 .5 .2 .5 .5 .5-.1 .5 .3 .5 .5 .5-.1 .5 .4 .5-.7 .5 0 .5-.1 .5-.2 .5 .6 .5 .2 .5-.1 .5 .1 .5 .8 .5-1.3 .5 .3 .5-.1 .5-.2 .5 1 .5-.6 .5 .6 .5-1 .5 1.3 .5 .1 .5-1.3 .5 .4 .5-.1 .5 .3 .5-.7 .5 .7 .5 .2 .5-.6 .5-.6 .5 .7 .5 .1 .5 .5 .5-.5 .5-.2 .5 .7 .5-.1 .5 .1 .5-.3 .5 .4 .5-.3 .5-.9 .5 .8 .5 .2 .5-.4 .5 .6 .5-.8 .5 .5 .5-.8 .5 .5 .5-.2 .5-.3 .5-.1 .5 .6 .5 0 .5-.6 .5-.4 .5 0 .5 .4 .4-1.1 .1 .9 .5-1.7 .4 .1 .1 .1 .5-1.1 .4-2.1 0-.4 .1-.8 .3-1.2 .1-1 .1-1.3 .2-2 .2-2.2 0-.2 .1-.3 .1-1.6 .2 2.7 .1 .8 .1 1.2 0 .2 .4 4 0 1 .1 .1 .3 1 .2 1.4 .4 1 .1 .5 .5 .7 .4 .3 .1 .5 .5-.5 .5 1.5 .5-1 .5-.1 .5 .9 .5 .2 .5 .1 .5 .2 .5-.4 .5-.1 .5 .1 .5-.1 .5-.2 .5 .9 .5 .1 .5-.8 .5-.1 .5-.1 .5-.5 .5 .4 .5 .1 .5 .2 .5-.4 .5-.3 .5 1.1 .5 .5 .5-1.5 .5 .9 .5 .5 .5-.8 .5-.1 .5 .7 .5 0 .5-.2 .5 .9 .5-.1 .5-.3 .5-.3 .5-.2 .5 .5 .5-.5 .5 .8 .5-.2 .5-.8 .5 .6 .5 .3 .5-.4 .5-.7 .5 .3 .5-.1 .5 .2 .5 0"/>
<path d="M4.0 356.6l.5 .5 .5-.1 .5-.2 .5 .3 .5-1 .5 .5 .5-.7 .5 .7 .5-.2 .5 .6 .5-.5 .5-.1 .5 .2 .5 0 .5 .2 .5-.5 .5-.3 .5 0 .5 1.1 .5-1 .5 .3 .5-.3 .5 .9 .5-.7 .5 .8 .5-.8 .5 .4 .5 .2 .5 0 .5-.9 .5 .4 .5 .1 .5-.8 .5 1 .5-.1 .5 0 .5-.8 .5 .6 .5 .1 .5 .2 .5-.7 .5 .5 .5 .5 .5-.9 .5 0 .5 .1 .5-.5 .5 .5 .5 .9 .5-1 .5 .3 .5 .6 .5-.3 .5-.1 .5-.3 .5 .1 .5 0 .5 .2 .5-.2 .5 .3 .5-1.2 .5 1.1 .5-.5 .5 .2 .5-.1 .5 .4 .5-.3 .5 .4 .5-.6 .5 .5 .5 .4 .5 0 .5-.7 .5 .2 .5-.3 .5 .1 .5 0 .5 .4 .5-.3 .5 .3 .5 0 .5-1.2 .5 .7 .5-.2 .5-.4 .5 .3 .5 .3 .5 1 .5-.6 .5 0 .5 .1 .5-.2 .5 .4 .5-.1 .5-.6 .5 .5 .5 1.6 .5-1.1 .5-.3 .5 .3 .5-.7 .5 .5 .5 .3 .5-1.1 .5 .3 .5 .2 .5 0 .5-.2 .5 .3 .5 .3 .5-.3 .5 .2 .5 0 .5-.7 .5 .4 .5-.3 .5 .4 .5-.5 .5 .1 .5 .7 .5-.8 .5-.6 .5 .7 .5 .1 .5-.3 .5 .2 .5 .4 .5-.6 .5 .1 .5-.2 .5 .5 .5-.2 .5-.3 .5 .4 .5 .8 .5-1.4 .5 .1 .5 .8 .5-.7 .5 1.4 .5-1.4 .5 .1 .5 .3 .5 .7 .5-.2 .5-.1 .5-.1 .5 .4 .5-1.3 .5 .9 .5 .5 .5-1.1 .5 .6 .5 .3 .5 0 .5-.6 .5 .8 .5-.6 .5 .2 .5-.9 .5 .1 .5 0 .5 1 .5-1.6 .5 .2 .5 1.2 .5-.3 .5-1.2 .5 1.1 .5 .1 .5 .6 .5-1.2 .5 .6 .5 .6 .5-.1 .5-.7 .5 .2 .5-.5 .5 1.2 .5-.8 .5 .7 .5-.2 .5-.7 .5 .3 .5 .3 .5-.1 .5 .4 .5-.1 .5-.4 .5 .1 .5-.6 .5 0 .5 .5 .5-.2 .5-.8 .5 .2 .5-.9 .5-.7 .5 .7 .5-.9 .5 .1 .5 .6 .5 .8 .5 .4 .5-.5 .5 .7 .5-.1 .5-.1 .5 .2 .5 .1 .5 .5 .5 .4 .5-.7 .5 .5 .5-.5 .5-.7 .5 .6 .5 .5 .5 0 .5-1 .5 1.2 .5-1.2 .5-.1 .5-.1 .5 .4 .5-1.5 .5 .3 .5-1.3 .5 .9 .5 .9 .5 .9 .5-.2 .5 .7 .5-.7 .5-.3 .5-.1 .5 1.2 .5-.2 .5-.6 .5 .7 .5-.5 .5 0 .5-.5 .5 .4 .5 .3 .5 .1 .5-.3 .5 .7 .5 .2 .5-.8 .5 .5 .5-.7 .5 .7 .5-.6 .5 .4 .5 .1 .5-.2 .5 .5 .5-.8 .5 .1 .5 .3 .5-.2 .5 .2 .5-.2 .5-.3 .5 .6 .5-.2 .5 .3 .5 .2 .5-.7 .5-.1 .5 .1 .5-.1 .5-.5 .5 1.5 .5-.5 .5 .7 .5-1.1 .5 .4 .5-.1 .5-.1 .5 .4 .5-.4 .5 0 .5 .1 .5-1 .5 .6 .5 0 .5 1 .5-.5 .5 .1 .5 0 .5-.4 .5 .7 .5-.8 .5-.5 .5 .8 .5 .2 .5-.5 .5 0 .5 .3 .5 .1 .5-.3 .5 .5 .5-.5 .5 .8 .5-1.4 .5 1 .5-.2 .5 0 .5-.5 .5 1 .5-.6 .5-.4 .5 .1 .5-.1 .5-.4 .5-1.5 .5 0 .5 .6 .5 1 .5 1.1 .5-.8 .5 .5 .5 .4 .5-.7 .5 .4 .5-.2 .5-.1 .5 .6 .5-1.1 .5 .2 .5-.5 .5 .6 .5 .5 .5-.5 .5 .4 .5-.7 .5 .8 .5-.5 .5-.2 .5 .9 .5-.7 .5 .3 .5-.2 .5 .2 .5-.2 .5-.5 .5 .6 .5 0 .5 0 .5-.3 .5 .9 .5-1.1 .5 .3 .5 0 .5-.6 .5-.1 .5 .4 .5-.7 .5-.8 .5-.7 .5 .5 .5 .9 .5 .9 .5 .5 .5-.2 .5 .3 .5 .4 .5-1.6 .5 1.4 .5-.6 .5 .4 .5-.1 .5-.6 .5 .1 .5 .5 .5-.3 .5 .4 .5-.5 .5 1 .5-1 .5 1 .5-1.1 .5 .5 .5 .3 .5-1 .5 .2 .5 .6 .5 .3 .5 .1 .5-.3 .5 .2 .5-.9 .5 .3 .5 .7 .5-.8 .5 .2 .5-.6 .5 .6 .5-.6 .5 .8 .5 .4 .5-.4 .5-.1 .5-.3 .5 .4 .5-.7 .5 .3 .5 1 .5-1.4 .5 .3 .5-.3 .5 1.1 .5-.5 .5-.4 .5 .1 .5 1 .5-.1 .5 .1 .5-.3 .5 .5 .5 .1 .5-.4 .5-.9 .5-.2 .5 .1 .5 .6 .5-.7 .5 .1 .5 .3 .5-.4 .5-.3 .5 .8 .5-.4 .5-.3 .5-.9 .5 .3 .5-.6 .5-.1 .5-.6 .5 1.6 .5 .3 .5 .8 .5 0 .5 .4 .5-.1 .5 0 .5-.2 .5-.2 .5-.2 .5 .2 .5-.4 .5 .6 .5-.2 .5-.8 .5-.3 .5 .8 .5 .1 .5 .1 .5 .6 .5-.8 .5-.2 .5 .7 .5 .2 .5 .3 .5-1 .5 .3 .5-.1 .5 .8 .5-.3 .5-.2 .5 .3 .5-.5 .5 .1 .5 .1 .5-.2 .5 .2 .5 .2 .5 0 .5 .5 .5-.2 .5-.4 .5-.9 .5 .2 .5 .4 .5 0 .5-.4 .5 .3 .5 .2 .5-.3 .5 .1 .5 0 .5-.2 .5-.1 .5 .3 .5 .1 .5-.5 .5-.4 .5 .4 .5 .5 .5-.8 .5 1 .5-.6 .5 .4 .5-.4 .5 .6 .5-.2 .5 .2 .5-.9 .5 1.1 .5-1 .5 .5 .5 .3 .5-.3 .5 .2 .5-.2 .5-.1 .5-.4 .5 .6 .5 0 .5-.7 .5-.1 .5 .5 .5-.3 .5 .4 .5 .3 .5 0 .5 .4 .5-.4 .5-.6 .5 .2 .5 .5 .5 .5 .5-.9 .5-.2 .5 .9 .5-.7 .5 .3 .5 0 .5-.9 .5-.1 .5-.7 .5-.2 .5 .1 .5-.5 .5 .4 .5 .2 .5 1.3 .5 .2 .5 0 .5-.6 .5 .6 .5-.4 .5 1 .5-.8 .5 0 .5 0 .5 .3 .5-.2 .5 .1 .5-.6 .5 .8 .5-.6 .5 .5 .5-.2 .5 .4 .5-.4 .5-.6 .5 .2 .5 .4 .5 .6 .5-.7 .5 .2 .5 .5 .5-.8 .5 .4 .5-.1 .5-.3 .5 .3 .5 .3 .5 0 .5-.5 .5 1.2 .5-1 .5-.2 .5-.2 .5 0 .5 .7 .5-1.5 .5 1.1 .5-.5 .5 .5 .5 .1 .5-.5 .5 .2 .5 .9 .5-.7 .5 .3 .5-.1 .5 .4 .5 .2 .5-.1 .5-.2 .5 0 .5-.7 .5 1 .5-.8 .5-.1 .5 .1 .5-.1 .5 .4 .5 .1 .5 .2 .5-.5 .5-.2 .5 .1 .5-.4 .5 .2 .5 1.1 .5-1.1 .5 .1 .5 .5 .5-.2 .5 .3 .5-.6 .5-.1 .5 1 .5-.7 .5 .2 .5 .2 .5-.8 .5 .7 .5-.2 .5 .4 .5-.4 .5-.8 .5 1.2 .5-1.3 .5 .8 .5-.1 .5 0 .5 .2 .5 .3 .5-.8 .5 .1 .5 .5 .5-.2 .5 .1 .5-.2 .5-.3 .5-.1 .5 0 .5 .6 .5 .2 .5 .2 .5-1.1 .5 .3 .5 .1 .5 0 .5-.4 .5 1.3 .5-.2 .5-.6 .5-.1 .5 .2 .5-.4 .5 .3 .5 .5 .5 .4 .5-.3 .5 .2 .5-.9 .5-.9 .5 1.8 .5-.4 .5-.1 .5 .7 .5-1.1 .5 0 .5 .1 .5 .9 .5-.2 .5-1.1 .5 1.3 .5-.6 .5 .1 .5-.4 .5 1 .5-.6 .5 .4 .5-1 .5 .7 .5-.2 .5-.1 .5-.3 .5 .1 .5-.2 .5 .2 .5 .2 .5 .3 .5-.9 .5 .2 .5 .2 .5-.5 .5 .5 .5 0 .5 0 .5 .2 .5 .2 .5-.1 .5-.2 .5 .1 .5-.5 .5 0 .5 .6 .5 0 .5 .7 .5-1 .5-.3 .5 .6 .5-.3 .5-.2 .5 .9 .5 .2 .5-.7 .5-.4 .5 .3 .5-.1 .5-.6 .5 .9 .5-.2 .5 .3 .5-.7 .5 .2 .5 0 .5-.6 .5 1.7 .5-1.9 .5 .4 .5 .4 .5-.5 .5 .8 .5-.4 .5 .2 .5 .1 .5-.1 .5 0 .5-.1 .5 .3 .5 .1 .5-.4 .5-.1 .5 0 .5 .3 .5-.3 .5 0 .5-.4 .5 1.4 .5-1.3 .5 1.2 .5-.4 .5 .1 .5-.3 .5 .1 .5-.1 .5 .2 .5 .1 .5 .3 .5-1 .5 .6 .5 .4 .5-.1 .5-.9 .5 .5 .5 0 .5 0 .5-1 .5 1.2 .5-1 .5 1.6 .5-.7 .5-.3 .5 .3 .5-.2 .5-.3 .5 .1 .5 .2 .5-.5 .5 .6 .5 .1 .5-.1 .5 .1 .5 0 .5-.2 .5 .2 .5-.5 .5 0 .5 .4 .5 .1 .2-1 .3-.6 .5 1.2 .5-.9 0 .2 .5-1 .5-1.3 0-.5 .3-.8 .2 .3 .2-.9 0-.5 .3-2.2 .1-.3 .2-1.4 0 .1 .2-1.6 .2 2.1 .2 2 0-.8 .1 .7 .3 1.8 .2 .4 .1 .8 .1 0 .3 .8 .5 1.1 .1 .1 .4 .5 .5 0 .4 .9 .1-.7 .5 1 .5-.3 .5-.2 .5 .6 .5-.3 .5 .3 .5 .3 .5 .4 .5 0 .5-.1 .5-.3 .5-.6 .5 .6 .5-.1 .5 .1 .5-.2 .5 0 .5 .4 .5-1 .5 .4 .5 .4 .5-1.2 .5-.7 .5-1.1 .5-.8 .5 .3 .5 2 .5 .2 .5 .7 .5-.2 .5 .2 .5 .4 .5-.3 .5 .9 .5-.6 .5 .2 .5-.3 .5 .2 .5-.3 .5 .2 .5-.6 .5 .7 .5 .7 .5-1.6 .5 1.5 .5-.8 .5 .3 .5-.7 .5 1.3 .5-1.2 .5 .5 .5 .7 .5-1.1 .5-.3 .5 .9 .5-.2 .5 0 .5 0 .5-.2 .5 1.1 .5-.1 .5-1.1 .5 .5 .5-.2 .5 .7 .5-.9 .5 1 .5-.7 .5-.3 .5 .2 .5-.2 .5 1.2 .5-.9 .5-.3 .5 .2 .5 .5 .5-1 .5-.3 .5 1.2 .5-.3 .5-.5 .5 .1 .5 .5 .5-1.6 .5 1.6 .5-.6 .5 .3 .5-.3 .5 1.4 .5-1.5 .5 .7 .5-1.5 .5 1.2 .5 .3 .5-.9 .5-.2 .5 1 .5 .3 .5 .1 .5-.8 .5 .4 .5-.8 .5 1.3 .5-1 .5 .8 .5-.7 .5 0 .5 .8 .5-1 .5 1 .5-.6 .5-.2 .5 .1 .5 .8 .5-.4 .5-.1 .5-.4 .5 1.1 .5-.1 .5-.4 .5 .2 .5-1.8 .5 1.1 .5 .2 .5 0 .5-.4 .5 .3 .5-.4 .5 .1 .5-.2 .5 .6 .5-.4 .5 .1 .5 .9 .5-.6 .5 0 .5-.6 .5 .4 .5 .7 .5-.2 .5-.2 .5 0 .5 .1 .5 .1 .5-.3 .5-.9 .5 1.9 .5-.3 .5-.6 .5 .7 .5-1.2 .5 1.1 .5-.5 .5 .3 .5-.5 .5 .2 .5 .1 .5 .2 .5-.2 .5 0 .5-.4 .5 .9 .5-.6 .5-.2 .5 0 .5-.4 .5 .2 .5-.3 .5 .7 .5-.1 .5 .1 .5-.6 .5 .3 .5-.1 .5 .7 .5-1.1 .5 0 .5 1.2 .5-.4 .5-.8 .5 1.3 .5 .1 .5-.2 .5-1.3 .5 1 .5-.4 .5 .2 .5-.5 .5 1.3 .5-1 .5 .3 .5 .2 .5-.1 .5-.1 .5-.4 .5 .2 .5-.2 .5-.8 .5 1.4 .5-.7 .5 .1 .5 .1 .5-.4 .5 .1 .5-.2 .5 1 .5 .3 .5-.5 .5-.5 .5 1 .5-.8 .5-.5 .5-.2 .5 .8 .5 .5 .5-.8 .5-.1 .5 .1 .5-.2 .5 .2 .5 .4 .5-.4 .5 .7 .5-.8 .5 .8 .5-.2 .5-.2 .5 0 .5-.1 .5 .8 .5-1 .5 .8 .5-.1 .5-.6 .5 .8 .5-1.7 .5 1 .5 0 .5 0 .5 .4 .5-.5 .5 .1 .5 .5 .5-.5 .5-.3 .5 .7 .5-.3 .5-.2 .5 .5 .5-.5 .5-.1 .5 .3 .5 .1 .5 .1 .5-.5 .5 1.2 .5-.4 .5-.2 .5 0 .5-1.1 .5 1.5 .5-.8 .5 .6 .5-.7 .5 .9 .5-.6 .5 .2 .5 .6 .5-.3 .5-1 .5 .2 .5 .3 .5-.2 .5 .3 .5-.7 .5-.5 .5 .3 .5 .3 .5 .4 .5 .1 .5 .2 .5-.4 .5-.2 .5 .5 .5-.4 .5-.1 .5 0 .5 .6 .5 .2 .5 0 .5-1.3 .5 1.2 .5-1 .5 .3 .5 .4 .5-.8 .5 .1 .5 .2 .5 1.1 .5-.2 .5-.8 .5 .5 .5 0 .5 .1 .5-.4 .5 1 .5-.7 .5 .4 .5-1.1 .5 .9 .5-.2 .5 .5 .5-1.7 .5 1.3 .5 0 .5-.5 .5 .6 .5 .4 .5-.5 .5 0 .5 .3 .5-.4 .5 .4 .5-.2 .5-.5 .5-.2 .5 1 .5-.3 .5-.5 .5 .2 .5 .6 .5-1.3 .5 .3 .5 .6 .5 0 .5-.8 .5 0 .5 .5 .5 .5 .5-.6 .5-1 .5 1.4 .5-.5 .5-.2 .5-.3 .5 1 .5-.5 .5 .1 .5 0 .5 .1 .5 .2 .5 .4 .5-1.1 .5 .4 .5-.1 .5 .9 .5-.8 .5-.6 .5 .7 .5-.4 .5 0 .5 .1 .5-.4 .5-.3 .5 1.6 .5-.9 .5-.4 .5 .7 .5 .3 .5-1.2 .5 .5 .5 .4 .5-.5 .5 .6 .5-.7 .5 .2 .5 .3 .5 .2 .5-.2 .5-.3 .5 0 .5-.7 .5 1.7 .5-1.2 .5 0 .5 .1 .5 0 .5-.2 .5-.7 .5-.6 .5 .2 .5-.7 .5-.4 0 .1 .5-.7 .5-.6 .2-1.1 .3-1.3 .5-.2 0 .1 .5-1.9 .2 .9 .3-.1 .4 .4 .1 .4 .5 1.3 .2 .5 .3 1 .5 .4 .4 .7 .1 1.1 .5-.9 .5 .7 .4 .2 .1 .5 .5 .5 .5-.8 .5 1.3 .5-.8 .5 1.7 .5-1.2 .5 .9 .5-.5 .5 .5 .5-.5 .5 .4 .5 0 .5 0 .5 .3 .5-.5 .5 .1 .5-.4 .5 .5 .5-.2 .5 .6 .5-.2 .5-.6 .5 .4 .5 .4 .5-.7 .5-.5 .5 1.5 .5-.9 .5 0 .5 .7 .5-1.3 .5 .6 .5-.9 .5 1.1 .5 .1 .5-.4 .5 0 .5 .4 .5 .1 .5 .8 .5-.8 .5 .1 .5-.1 .5-.6 .5 .5 .5-.4 .5 .6 .5-1 .5 .4 .5 .6 .5-1.1 .5 .2 .5 1 .5-1.1 .5 .5 .5 0 .5-.6 .5-.4 .5 1.2 .5-1 .5 .4 .5-.6 .5 .4 .5-.9 .5-.3 .1 0 .4-.1 .5-.7 .1-.1 .4-.4 .5-2.2 .1 .4 0-.9 .4-2.1 0 .2 .1-.4 .3-4.9 .1 .1 .1-2.5 0 1.3 .2-1.6 .2 1.4 0-.4 .1 2.2 .1 1.3 .3 2.7 .1 .7 0 1.2 .4 2.2 .5 1.6 .1-.4 .4 1 .5 1 .1 0 .4 .4 .5-.2 .5-.2 .5 .6 .5 .2 .5-.3 .5 .5 .5-.5 .5 .6 .5-.3 .5 1.2 .5-.4 .5-.3 .5-.7 .5 .1 .5 .8 .5-.3 .5 .2 .5-.8 .5 .1 .5 .7 .5-.2 .5-.4 .5 .2 .5 .7 .5-.5 .5 .4 .5 .5 .5-.5 .5-.1 .5-.3 .5 .8 .5-1.1 .5 .1 .5 .4 .5-.6 .5 1 .5-.7 .5 .4 .5-.4 .5 0 .5 .1 .5-.8 .5 .3 .5 .3 .5 1.2 .5-.6 .5 0 .5-.7 .5 .8 .5 .1 .5-.1"/>
<path d="M4.0 385.7l.5-.8 .5 .8 .5-.5 .5 .5 .5 0 .5-.2 .5-.2 .5-.1 .5 .4 .5 .1 .5 .6 .5-.6 .5 .2 .5 .5 .5-.5 .5 0 .5 .5 .5-.7 .5 .2 .5 .1 .5-.4 .5-.4 .5-.1 .5 .5 .5 .5 .5-.1 .5 .3 .5-.3 .5-.7 .5-.4 .5 .4 .5 .1 .5-.2 .5 .8 .5-.7 .5 .6 .5 .1 .5-1 .5 .6 .5 .7 .5-.1 .5-.3 .5-.5 .5 .2 .5 .4 .5 .5 .5-.3 .5-.3 .5 .2 .5 .3 .5-1.1 .5 .4 .5 .4 .5 .4 .5-.1 .5-.8 .5 .3 .5-.3 .5 .1 .5 .2 .5-.3 .5-.1 .5-.3 .5-.2 .5 .6 .5 .1 .5 .1 .5-.6 .5 0 .5 .8 .5-.4 .5 .2 .5-.6 .5-.1 .5-.2 .5 .9 .5-.9 .5-.3 .5 .4 .5 .9 .5-.6 .5 .1 .5 0 .5-.1 .5 0 .5-.5 .5 1.2 .5-.7 .5 .6 .5-1.2 .5 .9 .5-.7 .5-.1 .5 .7 .5 .3 .5 .2 .5 0 .5-.7 .5 .4 .5-.5 .5 0 .5 .3 .5-.1 .5 .5 .5-1.1 .5 1.3 .5-.7 .5 .9 .5-.1 .5-.9 .5 .5 .5 .4 .5-.7 .5 0 .5 .2 .5 .4 .5 .1 .5-.6 .5 .5 .5 .3 .5-.3 .5-.7 .5-.1 .5 .5 .5 .2 .5-.1 .5-.4 .5-.2 .5 .9 .5-.6 .5 .8 .5-1.2 .5 .3 .5-.1 .5 1.1 .5-.3 .5-.7 .5-.6 .5 1.4 .5-.5 .5-.5 .5-.1 .5 .8 .5-.3 .5 .1 .5 .1 .5-.3 .5 0 .5 .4 .5-.4 .5-.1 .5 .4 .5-1.1 .5 1.4 .5-.4 .5-.5 .5 .3 .5 .6 .5-.3 .5-1 .5 .3 .5 .5 .5 .7 .5-.5 .5-.4 .5 .3 .5-.2 .5-.2 .5 .3 .5-1.1 .5 1.3 .5-.2 .5-.4 .5-.2 .5-.1 .5 .6 .5-.1 .5 0 .5 .7 .5-1.7 .5 .7 .5-.1 .5 .8 .5-.5 .5-.3 .5 .5 .5 .1 .5 .5 .5-.6 .5-.3 .5-.1 .5-.2 .5 .4 .5-.1 .5-.9 .5-.9 .5 .6 .5-.6 .5 .2 .5-.7 .5 1 .5-.1 .5 .6 .5 .9 .5 .5 .5-.5 .5-.3 .5 .6 .5 .5 .5-.5 .5 .5 .5-.3 .5-.5 .5 .1 .5 .2 .5 1.1 .5-.8 .5-.4 .5 .2 .5-.1 .5-.3 .5 .1 .5-.1 .5 .3 .5 .2 .5-.3 .5-1.2 .5-.6 .5-.5 .5-.2 .5 .5 .5 1.2 .5 .2 .5 .6 .5 .2 .5 0 .5-.3 .5-.4 .5 1.3 .5-.9 .5 .6 .5-.1 .5-.4 .5 .9 .5-.5 .5-.4 .5-.2 .5-.2 .5-.2 .5 .7 .5-.4 .5-.1 .5 .5 .5-.4 .5 .5 .5-.5 .5 .1 .5 .7 .5-.7 .5 .6 .5 0 .5-.1 .5-.7 .5 .1 .5 0 .5-.1 .5 .9 .5-.7 .5-.2 .5 .3 .5 .1 .5-.6 .5 .9 .5 .1 .5-.5 .5 .6 .5-.9 .5 .5 .5 .2 .5 .1 .5 .5 .5-.6 .5-.3 .5 .4 .5 0 .5 0 .5-.4 .5 .2 .5-.4 .5 .5 .5-.6 .5 0 .5 .7 .5-.8 .5 .3 .5 .3 .5-.4 .5 .5 .5-.6 .5 .7 .5-1.1 .5 .1 .5 .6 .5 .5 .5 .1 .5-1.1 .5 .4 .5-.3 .5-.7 .5 1.2 .5-.5 .5 .7 .5-.5 .5-.4 .5-.3 .5-.3 .5-.8 .5-.4 .5 1.4 .5-.1 .5-.1 .5 .7 .5 .6 .5-.2 .5-.3 .5 0 .5-.1 .5-.1 .5 .3 .5 .4 .5-.3 .5 .9 .5-.5 .5-.4 .5 .2 .5 .6 .5-1.4 .5 .8 .5 1 .5-.7 .5-.9 .5 .4 .5-.1 .5 1.3 .5-1.4 .5 .2 .5 0 .5-.4 .5-.8 .5 1.3 .5 .3 .5-.4 .5 .4 .5 0 .5-.1 .5-1.2 .5 1 .5-1.1 .5-.5 .5-.3 .5-.1 .5 .3 .5 1.2 .5 .5 .5-.4 .5 .7 .5-.4 .5 .5 .5-.3 .5 .5 .5 .5 .5-.7 .5-.4 .5 0 .5 .4 .5-.6 .5 .6 .5-.4 .5 .2 .5-.7 .5-.3 .5 .1 .5 .5 .5-.4 .5 .7 .5-1.1 .5 .6 .5 .3 .5-.6 .5 .5 .5-.3 .5 .7 .5-.1 .5 .4 .5-.6 .5-.4 .5 .5 .5 .2 .5 0 .5 0 .5 .5 .5-.7 .5 .1 .5-.3 .5 .1 .5 .7 .5-.3 .5-1.2 .5 1.5 .5-1.3 .5 .7 .5 .5 .5-.3 .5 .1 .5 .1 .5-.2 .5-.7 .5 .7 .5-.5 .5-.7 .5 .9 .5 .3 .5-.1 .5 0 .5 .7 .5-.5 .5 .3 .5-.3 .5 .6 .5-.8 .5 .6 .5 .2 .5-1.1 .5 .1 .5-2 .5 .6 .5 .1 .5-.7 .5-.4 .5 1.5 .5 .3 .5 .4 .5 .2 .5 .3 .5 .4 .5-.4 .5-.8 .5 1 .5-.1 .5-.1 .5 .6 .5-.5 .5-.3 .5 .4 .5-.9 .5 1.1 .5-.4 .5 .6 .5-.4 .5-.1 .5-.1 .5-.6 .5 .4 .5 .2 .5 .3 .5-.2 .5 .1 .5 0 .5-.5 .5 .3 .5-.2 .5-.4 .5-.1 .5 .9 .5 .3 .5 0 .5-.9 .5 1 .5 0 .5-1 .5 .6 .5 .5 .5-.7 .5 .5 .5-.7 .5 .1 .5 .5 .5-.4 .5 .1 .5 0 .5-.4 .5 1 .5-.7 .5-.1 .5-.1 .5 .2 .5-.5 .5 .7 .5-.5 .5 .4 .5-.7 .5-.1 .5 0 .5 .5 .5-.6 .5 .9 .5-.5 .5 .6 .5-.6 .5 .6 .5-.8 .5 0 .5 .7 .5-.5 .5 .6 .5-.7 .5 .5 .5-.6 .5-.4 .5 1.3 .5-.7 .5 .4 .5-.3 .5-.7 .5 .9 .5 .3 .5 .2 .5 .1 .5-.4 .5-.2 .5 .1 .5-.5 .5 .8 .5-.1 .5-.2 .5-.5 .5 .5 .5-.5 .5 .6 .5-.9 .5-.3 .5-.5 .5-1.1 .5 .1 .5 .3 .5-.9 .5 2.7 .5-.1 .5 .1 .5-.3 .5 .5 .5 0 .5 .1 .5-.6 .5 .6 .5-.7 .5 .7 .5-.2 .5 .1 .5 .2 .5 .5 .5 .2 .5-.5 .5-.5 .5 1 .5-1.2 .5 .4 .5 .1 .5-.2 .5 .8 .5-.4 .5 .3 .5-.6 .5 .5 .5-.4 .5 0 .5 .2 .5 .1 .5 0 .5-.3 .5-.5 .5 .5 .5-1 .5 1 .5-.2 .5 .6 .5-1.5 .5 2 .5-1 .5-.5 .5 .8 .5 0 .5 0 .5 .7 .5-1.2 .5 .5 .5-.1 .5-.3 .5 .4 .5 .4 .5-.8 .5 .5 .5 .2 .5-.1 .5-1 .5 .8 .5-.3 .5 .7 .5-.6 .5 .9 .5-1.3 .5 .7 .5-.6 .5 1 .5-.1 .5-1 .5 .6 .5-.3 .5-.7 .5 .2 .5 .5 .5 .1 .5-.3 .5 .3 .5 0 .5 0 .5-.6 .5 .6 .5 .2 .5-.8 .5 1.3 .5 0 .5-.6 .5 .8 .5-1.2 .5-.1 .5 .2 .5-.1 .5 1.1 .5-.8 .5 0 .5 .1 .5 .5 .5-.6 .5-.2 .5 .3 .5 .4 .5-.6 .5 .7 .5-.5 .5-.2 .5 .3 .5 .6 .5-.9 .5 .7 .5-.3 .5-.2 .5 0 .5 .3 .5-.1 .5-.1 .5 .2 .5-.7 .5 .1 .5-.2 .5 .3 .5 0 .5-.1 .5 .4 .5-.6 .5 .2 .5 .5 .5 .3 .5-.7 .5 .5 .5 0 .5-1 .5 .6 .5-.6 .5 .3 .5 .3 .5-.7 .5 .8 .5-.3 .5 .1 .5 .3 .5-.5 .5-.3 .5 .8 .5-.3 .5 .3 .5-.4 .5 .1 .5 0 .5-.1 .5 .2 .5 0 .5 .4 .5 1.3 .5-1.5 .5-.4 .5 .9 .5-.8 .5 .1 .5 .2 .5 .1 .5-.1 .5 .1 .5-.2 .5 .4 .5-.1 .5-.7 .5 .2 .5-.4 .5 .8 .5-.3 .5 .9 .5-1 .5 .9 .5-1 .5-.2 .5 .3 .5 .5 .5 .3 .5-.8 .5 .7 .5-.6 .5 0 .5 0 .5 .8 .5-.6 .5 0 .5-.7 .5 .6 .5 .1 .5 .5 .5-1.1 .5 .1 .5-.1 .5 .1 .5 .5 .5-.6 .5 .8 .5-.5 .5-.4 .5 .1 .5-.3 .5 0 .5 1 .5-.1 .5-.8 .5 .2 .5 .9 .5-.9 .5 .4 .5 .1 .5-.3 .5 0 .5 0 .5 .2 .5-.7 .5 .7 .5 0 .5-.6 .5 .7 .5-.6 .5-.7 .5 .3 .5 .8 .5 .2 .5-.4 .5-.4 .5 .5 .5 .5 .5-.4 .5-.6 .5 .8 .5-.3 .5 0 .5 .1 .5 .2 .5-.3 .5-.3 .5 .3 .5 .1 .5 .4 .5-1 .5 .5 .5-.4 .5 .5 .5-.4 .5-1 .5 1.6 .5-.7 .5-.3 .5-.2 .5 0 .5-.2 .5 .3 .5 0 .2-.2 .3 0 .5-.8 .5 .2 0-.4 .5-.4 .5-.9 0-.5 .3 0 .2-.9 .2-1.2 0 .6 .3-1.6 .1-1.9 .2-1.7 0 .6 .2-.1 .2 1 .2 1.6 0-.2 .1 .9 .3 1.7 .2 .6 .1 .5 .1 .8 .3 .1 .5 .9 .1 .1 .4 1.3 .5 0 .4 .3 .1-.5 .5 .3 .5 .6 .5-.5 .5 .6 .5-.5 .5 .1 .5 .2 .5 .1 .5 .4 .5-.8 .5 .8 .5-.9 .5-.1 .5-.5 .5 1.2 .5 .3 .5-1.1 .5 .3 .5 .1 .5-.6 .5 .6 .5 0 .5-.7 .5-.8 .5-1.2 .5 .1 .5 .1 .5 1.8 .5 .8 .5-1.1 .5 1.5 .5 .6 .5-1.1 .5 1.1 .5-.7 .5 .4 .5-.3 .5-.4 .5-.2 .5 1.7 .5-1.5 .5 .5 .5 .7 .5-.4 .5-.1 .5-.8 .5 .6 .5-.4 .5-.2 .5 .9 .5 .1 .5-.6 .5 0 .5 .4 .5 .2 .5-.9 .5 .9 .5-.1 .5-.4 .5-.5 .5 .7 .5 0 .5 .5 .5-1 .5 .9 .5-.9 .5 .4 .5-.2 .5 .1 .5 .6 .5-.8 .5 .6 .5-.4 .5 .1 .5-.2 .5 .4 .5-.8 .5 .6 .5 .5 .5-.1 .5-1 .5 .2 .5 .2 .5 1 .5-1 .5 .1 .5-.1 .5 .2 .5-.5 .5 .5 .5 .1 .5 .2 .5-.8 .5 .8 .5 .4 .5-.5 .5 0 .5-1.3 .5 1.5 .5 .2 .5-.3 .5-.3 .5 .2 .5 .8 .5-1.5 .5 .1 .5 .6 .5-.3 .5-1 .5 1 .5 .1 .5-.5 .5 .6 .5-.1 .5-.8 .5 1 .5 .7 .5-.2 .5-1.3 .5-.1 .5 .5 .5 0 .5-.7 .5 .2 .5 .8 .5-.5 .5 .2 .5-.3 .5 .5 .5-.6 .5 .1 .5-.2 .5-.3 .5 .7 .5-.3 .5 .4 .5 .3 .5 0 .5 0 .5-.4 .5 .1 .5 .5 .5-.6 .5 0 .5-1.1 .5 .5 .5 .9 .5-.8 .5 0 .5 .9 .5-.9 .5 1 .5-.4 .5-.1 .5-.6 .5 1.5 .5-1.2 .5 .2 .5 .7 .5-.9 .5 .7 .5-.3 .5-.1 .5-.4 .5 .1 .5 .4 .5-.6 .5 .7 .5-.1 .5 .2 .5-.1 .5 .2 .5-.1 .5 .3 .5-.2 .5 .1 .5-.5 .5-.3 .5 .8 .5 .4 .5-.8 .5-.2 .5 .5 .5 .4 .5 .3 .5-.5 .5-.3 .5 .4 .5 .2 .5-.3 .5 .4 .5-.7 .5 .5 .5 .2 .5-1.1 .5 0 .5 .5 .5 1.1 .5-1.2 .5-.2 .5 .5 .5-.6 .5-.6 .5 .2 .5 1 .5-1.3 .5 .1 .5 1 .5-.2 .5 .5 .5-.9 .5 .2 .5 .2 .5-.3 .5 .5 .5 .1 .5 .5 .5-.4 .5-.2 .5 .3 .5 .2 .5-.1 .5-.3 .5-.4 .5-.1 .5-.4 .5 .6 .5-.1 .5 .7 .5-.6 .5 .2 .5 .2 .5-1.3 .5 .5 .5 .1 .5 .1 .5-.5 .5 .9 .5 .1 .5-.2 .5 .2 .5-.7 .5 1 .5-.7 .5-.5 .5 .9 .5 .2 .5-.6 .5-.5 .5 .2 .5 .3 .5-1.1 .5 1.4 .5-.1 .5-.6 .5 .4 .5-.6 .5-.3 .5 .7 .5 0 .5-.6 .5-.1 .5 .2 .5 .9 .5-.6 .5 1.3 .5-1.4 .5 .6 .5-.2 .5-.2 .5 .5 .5-.7 .5 .3 .5-.5 .5-.4 .5 1 .5-.5 .5-.1 .5 .8 .5-.3 .5 .2 .5 .6 .5-.6 .5 .1 .5-.7 .5 .9 .5 0 .5-.8 .5 .7 .5-.2 .5-.2 .5 .1 .5 .9 .5-1.3 .5 .1 .5 .1 .5-.1 .5-.6 .5 1.1 .5 .1 .5 .5 .5-1 .5-.2 .5 .9 .5-.7 .5 .5 .5-.1 .5 .3 .5-.3 .5 .5 .5-.7 .5 1.4 .5-.7 .5-.5 .5-.2 .5 .4 .5-.2 .5-.1 .5 .9 .5-.2 .5-.9 .5 .7 .5-.3 .5 .3 .5-.6 .5 1.1 .5-.9 .5 .8 .5-1 .5 .7 .5-.6 .5 .8 .5-.8 .5-.4 .5 0 .5 .1 .5 .6 .5-.2 .5-.1 .5 .4 .5 .2 .5-1.1 .5 .8 .5 .5 .5-1.3 .5 0 .5 .4 .5 0 .5-.3 .5 .2 .5 .8 .5-.3 .5-.6 .5-.4 .5 .3 .5 .6 .5-.4 .5 0 .5 .6 .5-.5 .5 0 .5 .2 .5 .5 .5-.5 .5 .1 .5-.3 .5 .6 .5-1.2 .5 .1 .5 .3 .5 1.1 .5-.2 .5-1.1 .5 .3 .5 .4 .5-.2 .5 .3 .5-.6 .5-.5 .5 .9 .5 .3 .5-1.2 .5-.2 .5 .5 .5-.7 .5 .9 .5-.8 .5 .6 .5-.7 .5-.1 .1 .2 .4-.7 .5-.8 .5 .2 .1-1.1 .4 .4 .5-1.9 .3-.8 .2 0 .5-1.3 .1-.1 .4-1.6 .3 0 .2 .6 .5 .7 0-.1 .5 1.7 .3 .1 .2 1 .5 1.1 .5 .5 0-.2 .5 .9 .5 .3 .5 .4 .5-.3 .5 .8 .5 .7 .5-.6 .5 .3 .5 0 .5 .5 .5-1.1 .5 1.6 .5-.4 .5-.2 .5 .3 .5 .4 .5-.2 .5 .2 .5 .3 .5-.4 .5 .3 .5 .4 .5-.3 .5-.5 .5 .5 .5 .6 .5-1 .5 .3 .5-.1 .5 .2 .5-.6 .5 .2 .5 .8 .5-.5 .5-.5 .5 .6 .5-.3 .5 .7 .5-1.3 .5 .7 .5 .4 .5-.9 .5 .2 .5 .5 .5-.3 .5-.2 .5 .1 .5-.8 .5 .2 .5 1 .5-1.1 .5 .4 .5-.3 .5 .4 .5-.2 .5 .1 .5 .3 .5-.3 .5-.9 .5 .5 .5 .9 .5-.2 .5-.5 .5-.7 .5 .3 .5 1 .5-.6 .5-.2 .3-1.4 .2-.1 .5-.2 .3-1 .2 .3 .5-2 .3-.4 0-.6 .2-1.3 .2-1.3 .1-.5 .2-2.8 .1-1.2 .2-2.6 0-.9 .2-1.1 .2 2.1 .1 1.8 .1 2.2 .1 .5 .3 2.6 0 .9 .2 .7 .2 1.7 .3 1.2 .3 .7 .2 .7 .5 1 .3 .2 .2-.6 .5 1.1 .5-.6 .5 .8 .5 0 .5 .8 .5-.7 .5 .1 .5 0 .5 .5 .5-.2 .5-.1 .5 .5 .5 .5 .5-.1 .5 0 .5-.8 .5 .2 .5 .2 .5-.8 .5 1.5 .5-1.3 .5 .8 .5-.6 .5 .5 .5 .3 .5-.1 .5-.6 .5 .1 .5 .6 .5-.4 .5 .1 .5 .3 .5-1.4 .5 1.1 .5 .4 .5 .2 .5-.5 .5-.6 .5 .7 .5 .3 .5-1 .5-.1 .5 .3 .5-.1 .5-.7 .5-.1 .5 .5 .5 .3 .5 .4 .5-.4 .5 .4"/>
<path d="M4.0 414.5l.5 .3 .5 .6 .5 .3 .5-.9 .5 0 .5 .4 .5-1.2 .5 .3 .5-.2 .5-.6 .5-.4 .5 1 .5 .5 .5 0 .5 .3 .5-1.6 .5 1.1 .5 .7 .5-.8 .5-.2 .5 .8 .5-.1 .5 .2 .5-.2 .5 .5 .5-.2 .5-.2 .5-.2 .5 .4 .5-.5 .5 .6 .5 .1 .5-.1 .5-.9 .5 .7 .5 0 .5 .2 .5-1 .5 .4 .5 .2 .5 .7 .5-.9 .5 .6 .5-.3 .5 .8 .5-.7 .5-.8 .5 .5 .5 .2 .5 .4 .5-.2 .5-.4 .5-.4 .5 .5 .5 0 .5 .5 .5-.1 .5-1 .5-.4 .5 .8 .5 .3 .5-.5 .5 .2 .5 .7 .5-.2 .5-1 .5 .9 .5-.1 .5-.2 .5 .4 .5 0 .5 .8 .5-1 .5-.4 .5 .1 .5 .5 .5 .5 .5-.5 .5-.1 .5-.1 .5-.3 .5 .2 .5-.5 .5 .8 .5-.1 .5-.1 .5-.4 .5 .2 .5-.1 .5 .3 .5-.2 .5 .3 .5 .2 .5 .2 .5-.9 .5 .3 .5-.3 .5 1 .5-.8 .5 .9 .5-.7 .5 .7 .5-.7 .5 .1 .5 .1 .5 0 .5-.1 .5 .3 .5 .2 .5-.1 .5-.6 .5-.5 .5 .8 .5-1.3 .5 1.5 .5 0 .5-.8 .5 .7 .5-.5 .5 .8 .5-.8 .5-.1 .5 .1 .5 .3 .5-.5 .5 1.3 .5-1.1 .5 .8 .5-.9 .5 0 .5-.2 .5-.1 .5 .5 .5 .4 .5-.5 .5-.4 .5 .5 .5-.4 .5-.8 .5 1.1 .5-.7 .5 .4 .5 .3 .5-.1 .5 .1 .5 .8 .5-.3 .5 .3 .5-.5 .5 0 .5 .7 .5-.9 .5 .3 .5-.1 .5 0 .5 .1 .5-.3 .5 .3 .5-.7 .5 .5 .5-.7 .5 .8 .5 0 .5-.4 .5-.1 .5 .2 .5 .3 .5-.8 .5 .3 .5 .8 .5-.4 .5-.4 .5-.5 .5 .7 .5-.6 .5 .7 .5-.1 .5 .7 .5-1.3 .5 .7 .5-.8 .5 0 .5 .4 .5-.2 .5 1.2 .5-.7 .5-.3 .5 1.3 .5-1.3 .5 .2 .5-.1 .5-.5 .5-.2 .5-.1 .5-1 .5 .3 .5 0 .5 .1 .5 .7 .5 .6 .5 0 .5 .5 .5 .3 .5-.3 .5 0 .5-.5 .5 .1 .5 .4 .5 0 .5-.3 .5 .3 .5-.4 .5-.4 .5 .6 .5-.3 .5-.5 .5 1.1 .5-.2 .5 .1 .5-.5 .5 .8 .5-.4 .5 .1 .5-.7 .5 .1 .5 .5 .5-.6 .5-.3 .5 0 .5-1 .5-.4 .5 .6 .5-1 .5 1.6 .5 .1 .5 1 .5 .2 .5-.7 .5 .3 .5 .4 .5-.1 .5-.1 .5 .3 .5 .5 .5-.7 .5-.5 .5 .4 .5 .1 .5-.1 .5 .4 .5 .1 .5 .1 .5-.2 .5-.1 .5-.5 .5 .2 .5-.2 .5 .5 .5-.2 .5 0 .5 .2 .5-.3 .5 .5 .5 0 .5-.8 .5 .9 .5-.7 .5-.2 .5 .1 .5-.4 .5 .7 .5 .3 .5-1 .5 .8 .5 .1 .5 .1 .5 0 .5 0 .5-.3 .5 .6 .5-.2 .5 .2 .5-.2 .5-.3 .5 .1 .5 .2 .5 .2 .5-1.2 .5 .2 .5-.2 .5 .4 .5-.1 .5 .4 .5-.2 .5 .6 .5-.8 .5 0 .5-.1 .5 .2 .5 .2 .5-.2 .5-.2 .5-.2 .5 .6 .5-.3 .5-.2 .5 .2 .5 .2 .5 .7 .5-.2 .5-1.1 .5 .1 .5-.8 .5-.5 .5-1 .5 1.2 .5-.5 .5 .6 .5 .8 .5 .3 .5 0 .5 1 .5-1.3 .5 .6 .5 .4 .5 .1 .5-1 .5 1 .5-.5 .5 .3 .5-.4 .5 1 .5 .9 .5-.9 .5-.5 .5-.7 .5 1 .5 .1 .5-1 .5 .8 .5-1.1 .5 .1 .5 .6 .5-.7 .5 .8 .5 .2 .5-.6 .5 .1 .5 .4 .5-.5 .5 .2 .5 0 .5-1.1 .5 1.1 .5-1.1 .5-1 .5 .3 .5-.2 .5 .7 .5 .3 .5 .5 .5 .2 .5 .6 .5-.1 .5 0 .5-.1 .5 .6 .5-1.5 .5 .7 .5 .8 .5-.5 .5 .4 .5 .4 .5-.3 .5-1 .5 .5 .5-.4 .5 .7 .5 .2 .5-.5 .5 .3 .5-.3 .5 .8 .5-.8 .5 0 .5 .1 .5 .2 .5-.2 .5-.3 .5 0 .5 .1 .5 0 .5-.4 .5 0 .5 .1 .5 .3 .5-.3 .5-.2 .5 .3 .5-.1 .5 .5 .5-.4 .5 0 .5 .8 .5-.6 .5-.6 .5 .8 .5-.6 .5-.2 .5 .5 .5-.9 .5 .5 .5 .3 .5 .1 .5-.4 .5 0 .5 .2 .5 .6 .5-1.2 .5 1.1 .5-.1 .5 .4 .5-1 .5 .8 .5-.8 .5 .4 .5-.4 .5-.9 .5 .8 .5-.1 .5-.3 .5-1.5 .5-.2 .5 .7 .5-.4 .5 .6 .5 1.1 .5-.2 .5 .2 .5-.1 .5-.4 .5 .8 .5 .4 .5 .1 .5-.4 .5 .8 .5-1 .5 .2 .5-.2 .5 .1 .5 0 .5-.1 .5 .1 .5 .3 .5-.1 .5-.5 .5 .6 .5-.5 .5 .5 .5-.1 .5-.8 .5 .3 .5 .9 .5-.6 .5 0 .5 .2 .5 .2 .5 .3 .5-.3 .5 .8 .5-.8 .5 .1 .5 .1 .5 .1 .5 .5 .5 .4 .5-1.1 .5 .1 .5 .3 .5-.3 .5 .4 .5-.8 .5 .7 .5-1.2 .5 1 .5 0 .5 .7 .5-1.4 .5 .6 .5 0 .5-.7 .5 .4 .5-.4 .5-.1 .5-.1 .5 .5 .5-.3 .5-.4 .5 .9 .5-.8 .5 1 .5-.2 .5-.4 .5-.3 .5 .4 .5-.2 .5 .4 .5 .1 .5 1.1 .5-1.8 .5 .7 .5 .5 .5 .1 .5 .1 .5-1 .5 .7 .5-1.5 .5 1 .5 .4 .5-.1 .5-.9 .5 .2 .5-.6 .5 .6 .5-.3 .5 .7 .5-.4 .5 .5 .5-.3 .5-.1 .5 .9 .5-.3 .5-1 .5 1.1 .5-.3 .5 .2 .5-.4 .5-1 .5 .4 .5-1.1 .5-.2 .5-.5 .5 .9 .5-.5 .5 .4 .5 1.2 .5-.2 .5 1 .5-.2 .5-.4 .5 .2 .5 .2 .5 .4 .5 .3 .5-.7 .5 0 .5 .8 .5 .5 .5-.6 .5-.7 .5-.2 .5 .4 .5-.2 .5-.4 .5 .9 .5 .4 .5-1.3 .5 0 .5 .1 .5-.3 .5 .8 .5-.9 .5 .9 .5-.2 .5 .2 .5-1 .5 .7 .5 0 .5 .3 .5-.2 .5-.4 .5 .7 .5 .1 .5-.1 .5-.8 .5 .5 .5-.6 .5 .3 .5 .3 .5-.9 .5 1.8 .5-.7 .5-.8 .5 .1 .5 .3 .5 0 .5-.4 .5 .5 .5-.6 .5 .5 .5 1 .5-.7 .5-.2 .5 .8 .5-.6 .5 .1 .5-.5 .5 .6 .5-.6 .5 .5 .5-.2 .5 .4 .5-.3 .5-.4 .5-.4 .5 .3 .5-.1 .5 .9 .5-.8 .5-.8 .5 1.1 .5 .2 .5-.7 .5 .6 .5-.8 .5 .6 .5-.2 .5 .2 .5 0 .5-.5 .5 .6 .5-.6 .5 .3 .5 .6 .5-1 .5 .4 .5 .7 .5-.2 .5-.8 .5 .1 .5 .5 .5-.5 .5 .3 .5-.6 .5 .9 .5-1 .5 .8 .5 .2 .5-.5 .5-.4 .5 .1 .5-.2 .5 1.5 .5-1.5 .5 .2 .5 .7 .5-.1 .5 .4 .5 .1 .5-.3 .5-.2 .5-.2 .5 .1 .5 .4 .5-.1 .5 0 .5-1 .5 .3 .5 0 .5 .1 .5-.3 .5 .8 .5 .1 .5 .4 .5-1 .5 .2 .5 .1 .5 0 .5-.3 .5 .7 .5-1.2 .5 .7 .5-.6 .5 1 .5-.8 .5 .1 .5 .5 .5-.4 .5 .5 .5-.2 .5 1 .5-1.4 .5 .2 .5 .5 .5-.2 .5 0 .5-.3 .5 .4 .5-.3 .5 .4 .5-1.2 .5 .6 .5-.1 .5 .3 .5-.5 .5 .8 .5-.8 .5 1 .5-.1 .5-.9 .5 1 .5-.9 .5 1 .5-.9 .5 .6 .5-.1 .5-.6 .5-.1 .5 1 .5-.4 .5 .6 .5-.5 .5 1.2 .5-1.1 .5 .6 .5-.6 .5-.1 .5 .1 .5-.5 .5 0 .5 .9 .5-.8 .5-.4 .5 .8 .5-.6 .5 .4 .5 .5 .5 .1 .5 .2 .5-.2 .5-.2 .5 0 .5-.1 .5-.2 .5 1 .5-.9 .5 .7 .5-.7 .5 .5 .5-1.6 .5 1.2 .5-.3 .5 .9 .5 0 .5-.9 .5 .2 .5 .4 .5-.2 .5-.1 .5 .3 .5-1 .5 1.3 .5-.5 .5-1.4 .5 .8 .5 .4 .5 .9 .5-.9 .5-.6 .5 1.2 .5-.4 .5-.2 .5 .4 .5-.6 .5 .1 .5 .5 .5-.2 .5 .2 .5-.6 .5 .9 .5-1.3 .5 0 .5 .8 .5-.4 .5 .2 .5 0 .5-.1 .5-.4 .5 .6 .5 .4 .5-.9 .5 1.1 .5-.2 .5-1.1 .5 .6 .5-.9 .5 .3 .5-.5 .5 0 .5-.8 .2 .7 .3-.6 .5-.3 .5-.9 0 .8 .5 .2 .5-2 0 0 .3-1.1 .2-.5 .2-.8 0-.6 .3-1.3 .1-.5 .2-1 0-.4 .2-.3 .2 1.3 .2 1.5 0-.5 .1-.1 .3 2.5 .2 1.1 .1 .6 .1 .2 .3 1.9 .5-.4 .1 .6 .4-.3 .5 .4 .4 .5 .1 .3 .5 .4 .5-1.5 .5 2 .5 .2 .5 0 .5-.1 .5-.4 .5 .4 .5 .3 .5-1 .5 .7 .5 0 .5-.3 .5 .8 .5-1 .5-.2 .5 .4 .5-.3 .5 .8 .5-1.4 .5 .1 .5 .5 .5-.1 .5-1.2 .5 0 .5-2.7 .5 1.3 .5 .8 .5 1 .5 1.3 .5-.5 .5-.1 .5 .4 .5 .8 .5-.7 .5-.3 .5 .4 .5-.6 .5 .3 .5 0 .5 .5 .5-.5 .5 .4 .5 .3 .5 .2 .5-1.4 .5 .7 .5-.4 .5 .7 .5-.1 .5-.1 .5-.2 .5-.2 .5-.3 .5 1.2 .5-.5 .5 .1 .5 .1 .5 .2 .5 .4 .5-.9 .5 .3 .5-1 .5 .5 .5-.2 .5 0 .5 .7 .5-.4 .5 0 .5 0 .5-.1 .5 0 .5-.2 .5 0 .5 .1 .5 .1 .5-.7 .5 .8 .5 0 .5 .1 .5-.6 .5 .1 .5 .7 .5-.6 .5 .5 .5-.5 .5-.2 .5-.1 .5 .4 .5 .1 .5-.3 .5 1.1 .5-.5 .5-.4 .5 1 .5-.2 .5-.6 .5-.1 .5 .4 .5 .4 .5-.8 .5 1.1 .5-.5 .5 .5 .5-.3 .5 .3 .5 .1 .5 .2 .5-.8 .5 1 .5-1.3 .5 .6 .5 .1 .5-.3 .5 .4 .5-1.1 .5 .6 .5 .4 .5-.4 .5-.4 .5 .5 .5 0 .5-.5 .5 1 .5-.8 .5-.2 .5 .5 .5-.3 .5 .1 .5 .2 .5-.3 .5 .4 .5-.2 .5 .4 .5-.9 .5 .4 .5 0 .5 .1 .5-1 .5 .5 .5 .6 .5 .1 .5-.2 .5 .1 .5 .5 .5-.6 .5-.2 .5 .9 .5-.3 .5-.4 .5-.2 .5 .9 .5-.8 .5-.3 .5 .9 .5-1.2 .5 .5 .5 .3 .5-.3 .5-.1 .5 .4 .5-.7 .5 .4 .5 .3 .5-.7 .5 1 .5-.7 .5 .1 .5-.1 .5 .4 .5-.4 .5 .3 .5 .5 .5 0 .5-1.1 .5 1.2 .5-.8 .5 .3 .5-.1 .5 0 .5-.4 .5 .4 .5 .2 .5-.7 .5 .2 .5 .2 .5 .1 .5-.3 .5-.1 .5 .1 .5-.4 .5 .3 .5-.3 .5 0 .5-.9 .5 .2 .5 .9 .5 .2 .5-.1 .5-.1 .5-.2 .5 .4 .5-.4 .5 .2 .5 .6 .5-1.1 .5 .3 .5 .2 .5-.6 .5 .3 .5 1 .5-.2 .5-.2 .5 .7 .5-.9 .5 1.2 .5-.7 .5-.3 .5 .7 .5-.2 .5-.2 .5-.1 .5-.7 .5-.1 .5 .8 .5 .4 .5-.7 .5 .3 .5-.7 .5 0 .5 .6 .5 .3 .5 0 .5 .2 .5-.9 .5 .3 .5 .4 .5-.8 .5 .3 .5 .1 .5 0 .5 .4 .5-.2 .5-.4 .5-.8 .5 1.3 .5 .1 .5-.2 .5-.1 .5 0 .5 .4 .5-.8 .5 .2 .5-.4 .5 .4 .5-.3 .5 0 .5-.4 .5 .7 .5 .5 .5-1.6 .5 1.7 .5-.5 .5-.2 .5 .4 .5-.2 .5 0 .5 .6 .5-.5 .5 0 .5-.2 .5 0 .5-.4 .5 .3 .5-.3 .5 .8 .5-.6 .5 .4 .5 .3 .5-.1 .5-.6 .5 1 .5-1.5 .5 1.4 .5-1.6 .5 .7 .5 .4 .5-.3 .5-.6 .5 .2 .5 .7 .5-.8 .5 .9 .5 .2 .5 0 .5-.5 .5-.1 .5-.1 .5 1.3 .5-.6 .5-.2 .5 0 .5 .3 .5-1.2 .5 1.2 .5-.5 .5-.7 .5 1.4 .5-.8 .5 .4 .5-.5 .5 .1 .5 .8 .5-.6 .5 0 .5-.8 .5 1 .5-.7 .5 .5 .5-.7 .5 .6 .5 .1 .5-.9 .5 .7 .5-.5 .5 .9 .5-.4 .5-.1 .5 1.3 .5-1 .5-.4 .5 .5 .5-.2 .5 .4 .5-.9 .5 1.2 .5-1 .5 0 .5-.1 .5 .1 .5 .9 .5-.7 .5-.5 .5 .3 .5 .2 .5 .2 .5-.5 .5 .2 .5 1.2 .5-1.3 .5 .1 .5-.5 .5 .9 .5-.6 .5 1 .5-.2 .5-.2 .5-.6 .5 .1 .5-.1 .5 .1 .5-.2 .5-.1 .5 .2 .5-.1 .5-.2 .5 .5 .5 .1 .5-.6 .5 1.1 .5-.7 .5 .3 .5 .3 .5-1.3 .5 .8 .5 .1 .5 .2 .5-.2 .5 0 .5-1 .5 .2 .5 .5 .5-1.1 .5 .6 .5 0 .5 .2 .5 0 .5-.4 .5-.6 .5-.4 .3 .4 .2-.1 .5-.5 .5-.7 .3-.4 .2-1.1 .5-.4 .5-1 0-.9 .5-.7 .3-.6 .2 .1 .5-1.5 .5 .4 .2 .2 .3 .7 .5 1.1 0 .1 .5 2.3 .5 .7 .2 .5 .3-.3 .5 .4 .5 .5 .2 1.6 .3 0 .5-.7 .5 .8 .5 .3 .5-.3 .5 .3 .5 .7 .5 .1 .5 .1 .5-.1 .5-.1 .5 .1 .5-.3 .5 .8 .5-.7 .5 .1 .5-.3 .5-.3 .5 .2 .5-.1 .5-.2 .5 .7 .5 .6 .5-.7 .5-.1 .5-.2 .5-.3 .5 .9 .5 0 .5-.5 .5 .3 .5-.3 .5 .9 .5-.5 .5 .1 .5 .5 .5-1.6 .5 1.1 .5-.1 .5-.2 .5 .1 .5 .5 .5-.8 .5 0 .5 1 .5-.3 .5-.2 .5 .2 .5-.3 .5-.2 .5 .1 .5 .1 .5-.3 .5-.5 .5 .6 .5 .1 .5-.2 .5 .3 .5-.2 .5 .2 .5-.4 .5-.2 .5 .3 .5 0 .5-.8 .5-.5 .5 .5 .5-1.5 0 .2 .5-1.4 .5-1.5 0 .2 .4-3 .1-1.8 0-.3 .3-4.2 .2-1.3 0 .3 .2-1.7 .2 1.4 .1 1.7 0-.4 .1 2.2 .4 4.8 0 .1 0 .3 .4 1.8 .1 .5 .5 1.3 0 1.3 .5 .6 .5 0 .5 .4 .5 .4 .5-.2 .5 .6 .5 0 .5 .1 .5-.2 .5-1 .5 1 .5-.5 .5-.1 .5 1.6 .5-1 .5 .2 .5 .1 .5-.2 .5 1.1 .5-1.3 .5 1 .5-.4 .5 .9 .5-.1 .5-.4 .5-.7 .5 .9 .5 .1 .5-.2 .5-.5 .5 .4 .5-.7 .5 .4 .5 0 .5-.2 .5-.3 .5 .3 .5-.3 .5-.1 .5 .9 .5-.5 .5-.2 .5 0 .5 .4 .5-.3 .5-.1 .5 .4 .5 0 .5-.4 .5-.1 .5 1 .5-.6 .5 .6"/>
<path d="M4.0 443.8l.5-.1 .5 .1 .5 .1 .5-.1 .5 .5 .5-.8 .5 .5 .5-.6 .5 .8 .5-.3 .5 .4 .5-.4 .5-.6 .5 .4 .5-.3 .5 0 .5-.2 .5 .2 .5 .2 .5 0 .5 .9 .5-1.1 .5 .1 .5 0 .5-.1 .5 0 .5 .2 .5-.1 .5 .4 .5-.1 .5-.5 .5 .4 .5 .2 .5-.3 .5 .1 .5 0 .5 .3 .5-.1 .5-.3 .5 .2 .5 .5 .5-.8 .5 .6 .5-.4 .5 1.6 .5-1.3 .5-.2 .5-.1 .5-.6 .5 .4 .5 1 .5-.7 .5-.2 .5 .1 .5 0 .5-.4 .5 .4 .5 .2 .5-.8 .5 .5 .5-1 .5 .4 .5 1.1 .5 .2 .5 .3 .5-1.2 .5 .5 .5-.1 .5 .7 .5-.3 .5 0 .5 .2 .5-.5 .5 .6 .5-.6 .5 .5 .5-.4 .5 0 .5-.6 .5-.2 .5-.1 .5 .8 .5-1 .5 1.4 .5-.6 .5-.4 .5 .7 .5-.6 .5 .5 .5-.1 .5 .7 .5-.1 .5 0 .5-.6 .5 .7 .5-.5 .5 0 .5 .2 .5-.1 .5-.6 .5 .8 .5-.9 .5 .8 .5-.3 .5 .1 .5-.5 .5 .8 .5-.4 .5 .3 .5-.6 .5 0 .5 .3 .5 .4 .5-.8 .5 .3 .5 .1 .5 .2 .5-.1 .5 .7 .5-.1 .5-.2 .5 .4 .5 0 .5-.7 .5-.2 .5 .5 .5 .5 .5-1.9 .5 .6 .5 .5 .5-.7 .5 .6 .5-.2 .5-.5 .5 .4 .5 .4 .5-.4 .5 .7 .5 0 .5-.2 .5 .4 .5-.2 .5 .1 .5-.5 .5 .8 .5-.7 .5 .5 .5 .3 .5-.3 .5-.7 .5 0 .5-.2 .5 .2 .5-.5 .5-.4 .5 .9 .5-.1 .5 .6 .5 .2 .5-1.3 .5 .2 .5 .7 .5 .2 .5-.5 .5 0 .5-.7 .5 1.7 .5-1.2 .5 .5 .5-.1 .5-.5 .5 .7 .5 .3 .5-.6 .5 .1 .5 .2 .5 .2 .5-.1 .5-.7 .5 0 .5 .2 .5-.9 .5 .6 .5 .4 .5-.2 .5-.1 .5 .6 .5-.3 .5 .1 .5-.6 .5-.5 .5-1.2 .5 .4 .5-.9 .5 .4 .5 .5 .5 .9 .5 .1 .5-.2 .5 .8 .5-.4 .5 .2 .5-.3 .5 1.2 .5-.1 .5-1 .5-.1 .5 .5 .5 .3 .5 .2 .5-.5 .5-.5 .5 .7 .5 0 .5-.7 .5 .6 .5 0 .5-.3 .5 .5 .5 .4 .5 0 .5-.7 .5 .1 .5 .5 .5-.4 .5-.1 .5 1 .5-2.1 .5 .5 .5-.8 .5-.2 .5 .7 .5-.8 .5 .5 .5 .9 .5 0 .5 .4 .5 .9 .5-1.3 .5 .1 .5 .1 .5-.9 .5 1.2 .5-.3 .5-.7 .5 .7 .5 .3 .5-.4 .5 .8 .5-.6 .5-.3 .5 .9 .5-.4 .5 .1 .5-.7 .5 .1 .5 .1 .5 .4 .5-.1 .5 .6 .5 .1 .5-.6 .5-.1 .5 .8 .5-.7 .5 .3 .5-.6 .5 .2 .5-.1 .5-.2 .5 .4 .5-.4 .5 .2 .5 .2 .5 .6 .5-1.6 .5 .8 .5 .2 .5-.5 .5 .5 .5-.2 .5 0 .5-.4 .5 .1 .5 0 .5-.3 .5 .4 .5-.5 .5 .1 .5-.2 .5 1 .5-.7 .5-.1 .5 .7 .5-.4 .5 .3 .5-.1 .5 .2 .5 0 .5-.9 .5 1.5 .5-.2 .5-1 .5 .8 .5-.5 .5 .1 .5 .3 .5-.2 .5-.1 .5 .3 .5-.5 .5-.9 .5-.7 .5-.2 .5-1 .5 .6 .5 1.2 .5 .4 .5 1 .5-.3 .5-.1 .5 .5 .5-.5 .5 .7 .5 .4 .5-.9 .5 0 .5 .6 .5-1.2 .5 .3 .5 .1 .5-.2 .5 .6 .5 0 .5-.1 .5-.1 .5 .3 .5 .1 .5 0 .5-.6 .5 0 .5 .5 .5-.3 .5 .4 .5-.6 .5 .2 .5-.2 .5 .3 .5 .2 .5-.3 .5 .9 .5-1.5 .5 .5 .5-1.8 .5 .5 .5-.4 .5 .9 .5 .8 .5-.1 .5 0 .5 .3 .5 .3 .5 .3 .5 .3 .5-1.4 .5 .8 .5-.4 .5 .1 .5 .1 .5 .1 .5-.2 .5-.2 .5 .6 .5-.5 .5 0 .5 .4 .5-.9 .5 .1 .5 1 .5-.6 .5-.6 .5 1 .5 .2 .5-.8 .5-.2 .5 .5 .5 .1 .5-.3 .5-.2 .5 .6 .5 0 .5-.8 .5 .1 .5 .4 .5-.2 .5 .3 .5 .2 .5 .5 .5-.6 .5 .2 .5-1 .5 .3 .5 .7 .5-1 .5 1.1 .5-.3 .5-.1 .5-.1 .5-.5 .5 .1 .5 .2 .5 0 .5 .7 .5-.9 .5 .2 .5-.4 .5 .8 .5-.1 .5 .4 .5 .4 .5-.6 .5-.5 .5 .4 .5 0 .5-.2 .5-.5 .5 .4 .5-1 .5-.5 .5-.1 .5-.8 .5 1.2 .5 .6 .5-.1 .5 .4 .5 .7 .5-.8 .5 .6 .5 .1 .5-.3 .5 .2 .5-.4 .5 .2 .5 .5 .5-.6 .5 .1 .5-.1 .5 .5 .5-.3 .5-.2 .5 .5 .5-1 .5 .1 .5 .9 .5 .6 .5-.9 .5 .3 .5-.7 .5 .6 .5 0 .5 .2 .5-.5 .5 1 .5-1.2 .5 1 .5-1 .5 .7 .5 .2 .5 .3 .5-.9 .5-.7 .5 1 .5-.6 .5-.1 .5 .2 .5-.1 .5 .7 .5-.2 .5 .3 .5 .1 .5-.5 .5 .5 .5 .1 .5 .3 .5-.7 .5-.2 .5-.3 .5 .2 .5 .1 .5 .1 .5-.7 .5 .4 .5 0 .5-.1 .5 0 .5 .3 .5-.5 .5 .6 .5-.7 .5 .5 .5-.5 .5 .9 .5-.2 .5 .3 .5-.8 .5-.2 .5 .1 .5 .4 .5 .6 .5-.1 .5 0 .5-.7 .5 .9 .5-.2 .5-.6 .5-.9 .5 .7 .5 .2 .5 .6 .5-.6 .5-.2 .5 .6 .5 .1 .5-.5 .5 .1 .5 .3 .5-.7 .5 .4 .5-.3 .5-.2 .5 .6 .5 .3 .5 .3 .5-.5 .5 .1 .5-.5 .5-.6 .5 .2 .5 0 .5-1.2 .5 .6 .5-.3 .5-.5 .5 1.1 .5 .5 .5 .7 .5-.6 .5 .5 .5-.3 .5 .1 .5 .5 .5 .3 .5-.7 .5 0 .5-.5 .5 .3 .5 .2 .5-.7 .5 .3 .5-.3 .5 .5 .5 .2 .5-.2 .5-.2 .5-.3 .5-.2 .5 .7 .5 .6 .5-.7 .5 .1 .5-.2 .5-.2 .5 .9 .5-.1 .5-.9 .5 .1 .5 1.1 .5-.9 .5 .3 .5-.3 .5 .5 .5-.4 .5 .1 .5-.2 .5 1.2 .5 .3 .5-.9 .5 .2 .5 0 .5-.3 .5 0 .5-.1 .5 .5 .5-.8 .5 .1 .5 .6 .5-.9 .5 1.2 .5-.7 .5 .1 .5 .5 .5-.6 .5 .1 .5-.3 .5 .4 .5 .1 .5-.6 .5 .6 .5 .1 .5-.2 .5-.5 .5 .7 .5 .1 .5-.7 .5-.6 .5 .5 .5 .2 .5 .5 .5 0 .5-.2 .5-.6 .5 .6 .5-.3 .5-.4 .5-.3 .5 1.1 .5-1 .5 1.2 .5 .4 .5-.9 .5-.3 .5 .1 .5-.1 .5 .4 .5 .2 .5-.8 .5 .1 .5-.2 .5 .7 .5-.1 .5-.8 .5 .1 .5 .3 .5-.7 .5 .5 .5 .4 .5-.6 .5 .8 .5 0 .5-.2 .5 .7 .5-.7 .5 .6 .5-.3 .5 .6 .5-.8 .5 .6 .5 0 .5 .2 .5 .2 .5-1.3 .5 .6 .5-.4 .5 .8 .5 .1 .5-.6 .5 .1 .5 .5 .5-.5 .5-.2 .5-.6 .5 .4 .5 .6 .5-1 .5 .7 .5-.1 .5-.1 .5 .3 .5-.6 .5 .8 .5-.7 .5 .5 .5-.6 .5 .4 .5-.1 .5 .8 .5-1 .5 .2 .5 .9 .5-.2 .5-.3 .5-.1 .5-.4 .5 .3 .5 .2 .5 .3 .5-.1 .5 .2 .5-.5 .5-.5 .5 .1 .5 .7 .5-.5 .5 .6 .5-1.2 .5 .5 .5-.1 .5 .5 .5-.4 .5-.2 .5 .6 .5-.9 .5 .7 .5 .3 .5-.6 .5 .4 .5-.4 .5 .2 .5 .2 .5 0 .5 0 .5-.5 .5 .9 .5-.5 .5-.4 .5 .8 .5-.7 .5 .9 .5-.4 .5-.4 .5-.2 .5-.2 .5 .1 .5 .2 .5 .7 .5-.5 .5-.1 .5 .2 .5-.3 .5-.3 .5-.1 .5 1.2 .5-.7 .5 .7 .5 .1 .5-.6 .5 .2 .5-.5 .5 .1 .5 0 .5 0 .5 .6 .5-.6 .5 .4 .5-.3 .5 .2 .5 .5 .5-1.4 .5 1.1 .5-.7 .5 .4 .5-.2 .5-.1 .5-.3 .5-.6 .5 2 .5-.5 .5-.4 .5-.7 .5 1.1 .5 .4 .5-.5 .5-.9 .5 .5 .5 .3 .5-.2 .5 .5 .5-.9 .5 .1 .5-.8 .5 1.5 .5-.2 .5-.5 .5-.6 .5 1.1 .5-.9 .5 0 .5-.3 .5 .2 .5 .2 .5-.1 .5 .9 .5-.2 .5-.3 .5-.3 .5 .1 .5-.6 .5 .7 .5-.7 .5 0 .2 .3 .3-.7 .5-.5 .5 .6 0-1.2 .5-.5 .5-1 0 .1 .3-.5 .2-2 .2 .4 0 .5 .3-1.7 .1-.7 .2-1.9 0 0 .2-.9 .2 .4 .2 2.5 0 .4 .1 .2 .3 1.7 .2 1.4 .1 0 .1 .9 .3 .1 .5 .3 .1 1.2 .4 .5 .5-.3 .4 .7 .1 .2 .5-1.3 .5 2.4 .5-.6 .5-.4 .5-.3 .5-.2 .5 2.1 .5-1.5 .5 .5 .5-.5 .5 .1 .5 .5 .5-.7 .5 .4 .5 0 .5 .3 .5 .1 .5-.4 .5 .6 .5-.8 .5 0 .5 .1 .5-.3 .5 .1 .5-2.1 .5-.9 .5-.9 .5 2.2 .5 1.2 .5-.1 .5 .7 .5-.7 .5 .7 .5 .8 .5-.3 .5 .7 .5-1.1 .5 .7 .5-.4 .5 .1 .5 0 .5 .2 .5 .3 .5-.6 .5 .2 .5-.2 .5 .2 .5-.5 .5 .8 .5-.2 .5-.2 .5-.1 .5-.3 .5-.1 .5-.1 .5 .1 .5 .7 .5-.2 .5-.7 .5 .2 .5 1 .5 .2 .5-.4 .5 .6 .5-1.2 .5 .6 .5-.5 .5 1.2 .5-.8 .5 0 .5 0 .5-.5 .5 .3 .5-1 .5 .8 .5-.3 .5 .8 .5 .2 .5-.4 .5-.6 .5 0 .5 .8 .5-.4 .5 0 .5-.3 .5 .5 .5 0 .5 .3 .5-.8 .5 .4 .5-.6 .5 .6 .5-.1 .5-.2 .5 .6 .5-1 .5 1.2 .5-.5 .5 0 .5-.1 .5-.5 .5 .1 .5 .6 .5-.5 .5 .2 .5-.4 .5 .5 .5 0 .5-.8 .5 1.4 .5-.4 .5-.1 .5-.2 .5-.1 .5 .4 .5 .8 .5-1.2 .5-.4 .5 .5 .5 0 .5 .4 .5-.9 .5 .4 .5 0 .5 .6 .5 0 .5-.3 .5 .3 .5-.4 .5 0 .5-1 .5 .6 .5-.1 .5 .7 .5-.1 .5-.5 .5 .5 .5-.1 .5 .2 .5-.4 .5-.1 .5 .8 .5-.6 .5 .5 .5-.8 .5 .3 .5-.1 .5-.2 .5 .7 .5-.8 .5 .7 .5-1 .5 1.2 .5-.2 .5 .5 .5 .4 .5-1.1 .5 .2 .5-.6 .5 .3 .5 .2 .5-.1 .5 .2 .5-.1 .5 .1 .5-.8 .5 .3 .5-.5 .5 .4 .5-1.1 .5 1.1 .5 0 .5-.2 .5 0 .5-.5 .5 .4 .5 0 .5 .4 .5 .1 .5-.3 .5 .1 .5 .3 .5-.5 .5 .8 .5 .5 .5-.7 .5-.3 .5 .3 .5 .4 .5 0 .5-1.1 .5 .7 .5-.5 .5 .1 .5 .3 .5 .1 .5-.3 .5-.2 .5 .2 .5-.3 .5 1.2 .5-1.4 .5 .9 .5-.1 .5-.1 .5-.4 .5 .3 .5 0 .5 0 .5 .1 .5 .2 .5-.3 .5 .4 .5 .2 .5-.6 .5 .6 .5-.3 .5-.2 .5 .5 .5 .3 .5-.6 .5-.6 .5 1.2 .5 .1 .5-.8 .5 .4 .5 .3 .5-1.2 .5 1.2 .5-.1 .5-.1 .5 .2 .5-1.1 .5 .7 .5 .5 .5-2 .5 .7 .5 .5 .5-.6 .5-.5 .5 .9 .5-.1 .5-.3 .5 .4 .5 .3 .5 0 .5-.2 .5-.7 .5 .4 .5-.8 .5 .5 .5 .6 .5 .2 .5-.3 .5 .1 .5-.8 .5 .3 .5 0 .5 .2 .5 0 .5 1.1 .5-.5 .5-.9 .5 .1 .5 0 .5 0 .5 0 .5-.6 .5 1.3 .5-.2 .5 0 .5-.2 .5 .2 .5-.3 .5-.7 .5 .9 .5 0 .5-.6 .5-.3 .5 1.5 .5-.9 .5 .4 .5-.2 .5 1.1 .5-1.3 .5 1.1 .5-1.5 .5 1.5 .5-.7 .5-.7 .5 .9 .5-.1 .5-.7 .5 .8 .5-.2 .5 .2 .5-.8 .5 .3 .5-.1 .5 .4 .5-.2 .5-.2 .5 1 .5-.8 .5 .7 .5-.2 .5-.6 .5-.5 .5 .9 .5 .3 .5 .2 .5-.3 .5 0 .5-.4 .5 0 .5 1.7 .5-.9 .5-1.1 .5 .6 .5 0 .5-1 .5 .6 .5 .3 .5 .4 .5-.1 .5-.9 .5 0 .5 0 .5 .3 .5 .3 .5-.8 .5 .4 .5-.1 .5 0 .5 .1 .5 1 .5 .1 .5-.2 .5-1.3 .5 .8 .5 .9 .5-.8 .5-.5 .5 .5 .5-.3 .5-.1 .5 .3 .5 .1 .5-.3 .5 .1 .5-.5 .5 .5 .5 .3 .5-.3 .5-.1 .5-.5 .5 1.1 .5-1 .5 .7 .5-.5 .5 .5 .5 .1 .5-.6 .5-1.2 .5 .4 .5 .4 .5 0 .5 .5 .5 .7 .5-.6 .5-.3 .5 .6 .5-.6 .5 .4 .5-.2 .5-1 .5 1.2 .5 .3 .5-.9 .5 .5 .5-.2 .5-.4 .5-.1 .5 .6 .5-.8 .5-.1 .5 .5 .5-.1 .5 .1 .5-1.2 .3-.5 .2 .9 .5-1.5 .5-.1 .3-.3 .2 .4 .5-1.7 .5-1.7 0 .4 .5-.7 .3-2 .2-.3 .5 .5 .5 0 .2 0 .3 1 .5 1.4 0-.4 .5 1.4 .5 1.9 .2-.2 .3 .7 .5 .1 .5 .2 .2 .5 .3-.3 .5 .8 .5 0 .5 .2 .5 .1 .5-.1 .5 1.1 .5-1.1 .5 .8 .5-.5 .5 .9 .5-.5 .5 .1 .5 .1 .5-.1 .5-.1 .5 0 .5 0 .5-.4 .5 0 .5 .1 .5-.1 .5 .1 .5 .9 .5-1.1 .5 1.4 .5-.9 .5 .5 .5-.2 .5 0 .5 .3 .5 .5 .5-.7 .5 0 .5-.2 .5 1.1 .5-.3 .5-.1 .5-.4 .5-.8 .5 .9 .5-.9 .5 .4 .5 .6 .5-.7 .5 0 .5-.7 .5 1.2 .5-.2 .5-.4 .5 .3 .5-.8 .5 .3 .5 .5 .5 .2 .5-.4 .5-.5 .5 .3 .5 .7 .5-.8 .5 .3 .5 0 .5-.5 .5 0 .5-.9 .5 .2 .1 .2 .4-.2 .5-.4 .2-1 .3-.4 .5-2.1 0-.5 .1-.3 .4-2.4 0-.2 .1-.9 .3-2 .1-2.8 .1-.8 0-.5 .2 .2 .2-.7 0 .9 .1 1.8 .1 1.9 .3 3 .1 .4 .1 1.7 .3 1.9 .5 1.4 0 .2 .5 .9 .5 .8 .1-.7 .4 1.1 .5 0 .5 .6 .5 .1 .5-.4 .5 1.1 .5-.2 .5-.6 .5 0 .5 .2 .5 .5 .5 .4 .5-.9 .5 0 .5 .6 .5-.3 .5 0 .5 0 .5-.1 .5 .8 .5-.3 .5-.6 .5 .7 .5 .3 .5-.6 .5-.1 .5-.3 .5 .2 .5 0 .5 .5 .5-1 .5-.3 .5 .5 .5 .4 .5-1 .5 .8 .5-.3 .5-.1 .5 .5 .5 .4 .5-1 .5 .6 .5-.1 .5 .3 .5-.2 .5-.3 .5 .7 .5-.2 .5-.6 .5-.4 .5 .6"/>
<path d="M4.0 472.9l.5 .4 .5-.4 .5 .4 .5-.2 .5-.3 .5-.5 .5 1 .5-1 .5 .3 .5 1 .5-.7 .5 0 .5 0 .5 .1 .5-.2 .5 .3 .5-.2 .5-.1 .5 .4 .5 .1 .5-.1 .5 .3 .5 .4 .5-.1 .5-.7 .5-.5 .5 1 .5-.4 .5 .2 .5-.4 .5 .5 .5-.8 .5 .5 .5-.6 .5 1.4 .5-1 .5-.7 .5 1.4 .5-.2 .5 .2 .5-1.1 .5 .7 .5 .4 .5-.6 .5 .2 .5-.2 .5 0 .5 .7 .5-.9 .5 .4 .5 .2 .5-.2 .5 .4 .5-1.2 .5 1.3 .5-1 .5 .5 .5-.1 .5 .3 .5-.2 .5-.1 .5 .5 .5 .5 .5-1 .5 0 .5 0 .5-.2 .5 0 .5 .3 .5 .6 .5-.5 .5-.1 .5 .2 .5-.3 .5 1.4 .5-.6 .5-.6 .5-.8 .5 .4 .5-.2 .5 0 .5-.6 .5 .7 .5 0 .5 0 .5-.2 .5 .7 .5-.5 .5-.6 .5 .6 .5 .8 .5 .2 .5-1.1 .5 .3 .5 .2 .5 .1 .5-.6 .5 .2 .5-.4 .5-.7 .5 1.1 .5-.5 .5 .3 .5-.2 .5-.1 .5 .2 .5 .5 .5-.6 .5 1.2 .5 .4 .5-1.7 .5 1.4 .5-.6 .5 .4 .5-.2 .5-.2 .5 .4 .5-.4 .5 .5 .5-.5 .5-.8 .5 .5 .5 .1 .5-.2 .5-.2 .5 1.3 .5-.8 .5 0 .5-.6 .5 .9 .5-.2 .5 .5 .5 .2 .5-1 .5 0 .5 .7 .5 0 .5-.4 .5 .1 .5-.4 .5 .1 .5-.1 .5-.8 .5 1.2 .5 0 .5-.7 .5 .2 .5 .4 .5 .2 .5-.3 .5-.2 .5 .4 .5-.1 .5-.5 .5 .3 .5 0 .5 .4 .5-.8 .5 .2 .5 .2 .5 .1 .5 1 .5-1.1 .5 .5 .5-.1 .5 .1 .5 .2 .5-.5 .5-.7 .5 .3 .5 .7 .5 .2 .5-.3 .5 .4 .5-.7 .5-.6 .5 .4 .5 0 .5 .3 .5 0 .5-.8 .5 .9 .5-.8 .5 .2 .5 .1 .5-.1 .5-.2 .5-.7 .5-.2 .5-.5 .5-.9 .5-.3 .5-.5 .5 1.1 .5 .3 .5 1.1 .5-.1 .5 .5 .5 .2 .5 .7 .5-.7 .5 0 .5 .6 .5 .2 .5-.7 .5 .6 .5-.2 .5 .2 .5-1 .5 .8 .5-.2 .5 .2 .5-.4 .5 .3 .5-.9 .5 .9 .5 .6 .5-.5 .5-.1 .5 .1 .5 .5 .5-.9 .5-.3 .5 .2 .5 .2 .5 .3 .5 .3 .5-.7 .5-.2 .5 .5 .5-.6 .5-1.4 .5 .7 .5-.5 .5 .5 .5 .9 .5-.1 .5-.2 .5 .2 .5 .3 .5 .4 .5 .1 .5 .2 .5-.7 .5 .3 .5-.6 .5 .2 .5 .8 .5-.4 .5 .8 .5-.5 .5-.5 .5-.1 .5-.6 .5 1.3 .5-.2 .5 1.1 .5-.7 .5-.8 .5-.6 .5-.3 .5 .5 .5 .2 .5-.6 .5 1 .5 .1 .5-.7 .5 .3 .5-.4 .5 1 .5-.7 .5-.1 .5-.3 .5 .4 .5-.3 .5 1.1 .5-.2 .5-.8 .5 .2 .5 .3 .5 .1 .5-.5 .5 1 .5-.3 .5 .6 .5-1.9 .5 .5 .5 1 .5-.2 .5-.2 .5-.3 .5 .7 .5-.5 .5 .8 .5-.1 .5-.2 .5-1.2 .5 .9 .5 .6 .5 0 .5-.3 .5-.1 .5-.8 .5 .9 .5 .2 .5-.7 .5 0 .5-.3 .5 .1 .5-.3 .5 .1 .5-.7 .5-1.7 .5 .4 .5 .5 .5 1 .5 1 .5 0 .5 .3 .5-.5 .5 .5 .5-.7 .5 0 .5 .8 .5-.3 .5-.3 .5 .7 .5 .3 .5-.2 .5 .2 .5-.1 .5 .1 .5-.8 .5-.5 .5 .5 .5-1.2 .5 1 .5-.3 .5 .5 .5-.4 .5 .2 .5-.4 .5 .3 .5 .8 .5-1.1 .5-.2 .5 1.3 .5-.2 .5-.4 .5-.2 .5 .1 .5-.9 .5-.3 .5-.5 .5-.2 .5 1.3 .5 0 .5 .8 .5-.7 .5 .3 .5 .3 .5-.3 .5 .7 .5-.5 .5 .1 .5-1 .5 1 .5-.2 .5-.9 .5 .9 .5 0 .5-.5 .5-.1 .5-.1 .5 .7 .5 .1 .5-.1 .5 1 .5-.8 .5 .2 .5-.7 .5 .8 .5 .3 .5-.7 .5 1.3 .5-1.1 .5 .4 .5-.2 .5 0 .5-1 .5 1.6 .5-1.2 .5 1.4 .5-1.1 .5 .2 .5 1.3 .5-1.5 .5 .2 .5-.4 .5 .4 .5 .2 .5 .4 .5-1.8 .5 1.1 .5 .2 .5 .1 .5-.7 .5 .3 .5 .7 .5-.7 .5 .7 .5-1.4 .5 .2 .5 .4 .5-.5 .5 .7 .5-.7 .5 .6 .5-.7 .5 .2 .5 .5 .5 .1 .5-.7 .5-.3 .5 .7 .5-.9 .5 0 .5-.4 .5-.3 .5-.9 .5 1.1 .5 .1 .5 .3 .5 .5 .5 1.1 .5-.3 .5 .2 .5 .4 .5-.1 .5 1.1 .5-.6 .5-.4 .5 0 .5-.3 .5 .6 .5-1 .5 .8 .5-.7 .5-.5 .5 1.1 .5-.3 .5-.1 .5-.3 .5 .1 .5-.4 .5 .8 .5 0 .5-.7 .5 0 .5 0 .5 .2 .5-.3 .5-.3 .5 .2 .5 .3 .5-.1 .5 0 .5 .7 .5-.3 .5 .3 .5-.7 .5 .8 .5-.3 .5-.1 .5-.2 .5 0 .5 0 .5 .3 .5-.1 .5 .9 .5-.7 .5-.1 .5-.2 .5-.3 .5 0 .5 .4 .5-.8 .5 1.3 .5-.1 .5-1.3 .5 1.1 .5-.1 .5 .1 .5-.2 .5 .4 .5-1 .5 .1 .5 .5 .5-.2 .5-.7 .5 1 .5 .1 .5-.5 .5 .3 .5 .2 .5-1.3 .5 .7 .5-.1 .5 .3 .5-.5 .5 0 .5 .7 .5 .7 .5-1.3 .5 1.3 .5-.3 .5 .1 .5 .2 .5-.7 .5 .7 .5-1.1 .5 .3 .5 .5 .5 .1 .5-1 .5-.2 .5 .9 .5-.1 .5 .1 .5-.4 .5-.6 .5 1 .5-.2 .5-.3 .5 .8 .5-.8 .5 .4 .5-.9 .5-1.7 .5-.2 .5-.7 .5 1 .5 .7 .5-.1 .5 1.5 .5-.2 .5 .6 .5-.1 .5-.5 .5 .7 .5-.2 .5 .4 .5 .5 .5-1 .5 .8 .5-.8 .5 .3 .5-.2 .5-.4 .5 .3 .5-.3 .5 .4 .5-.7 .5 0 .5 .8 .5-.1 .5 0 .5 0 .5 .1 .5-.2 .5 .2 .5-.7 .5 .5 .5-.5 .5-.2 .5 .5 .5 .4 .5-.3 .5 .8 .5-.5 .5-.1 .5-.1 .5-.6 .5 .6 .5 .1 .5 .7 .5-1 .5 .3 .5-.3 .5 .4 .5-.8 .5 .9 .5-.1 .5 0 .5 1.1 .5-1.2 .5 .2 .5-.2 .5 .5 .5 .4 .5-.2 .5-.6 .5-.7 .5 .7 .5-.9 .5 .3 .5 .1 .5-.2 .5 .5 .5-.2 .5-.2 .5 .5 .5-.4 .5 .9 .5-.3 .5-.4 .5 .4 .5-.4 .5 0 .5 .8 .5-1.1 .5 .9 .5 .6 .5-1.7 .5 1.9 .5-1.8 .5-.1 .5 0 .5 .4 .5 .3 .5-.6 .5 .7 .5 .4 .5-.7 .5 .3 .5 .1 .5 .4 .5-.8 .5 .3 .5-.2 .5-.3 .5-.2 .5 .3 .5 .2 .5-.9 .5 .4 .5 .3 .5 0 .5 .1 .5 .5 .5-.2 .5-1 .5 1.2 .5-.9 .5-.1 .5 .8 .5-.6 .5-.5 .5 .9 .5 0 .5 0 .5-.8 .5 1 .5-.6 .5 .6 .5-.9 .5 .2 .5-.5 .5 .6 .5 .8 .5-.4 .5-.3 .5 .8 .5-.4 .5 .2 .5-.2 .5-.1 .5 .1 .5 .1 .5 .3 .5-.2 .5 .1 .5-.8 .5-.4 .5 1 .5-.1 .5 .1 .5-.6 .5 .5 .5-.6 .5 .5 .5-.1 .5 0 .5 .2 .5-.3 .5 .2 .5 .3 .5 .3 .5-.4 .5 .2 .5-.1 .5 .4 .5 .2 .5-1.1 .5 .5 .5-.1 .5 .5 .5-1.7 .5 .8 .5-.5 .5 1.4 .5-.5 .5 .1 .5-.1 .5-.1 .5 0 .5-.4 .5-.7 .5 1 .5-.2 .5-.3 .5-.1 .5 .8 .5-.9 .5-.1 .5 .7 .5 .3 .5-1.2 .5 .1 .5 0 .5 .6 .5 0 .5 .5 .5-.6 .5 0 .5-.1 .5 .8 .5-.7 .5-.1 .5 .3 .5 .2 .5 .2 .5-.4 .5 1 .5 .1 .5-1.3 .5 .6 .5-.5 .5 .4 .5-.4 .5 .4 .5 .3 .5-.1 .5-.7 .5-.3 .5 .1 .5 1.3 .5-.7 .5 .1 .5 .6 .5-1.1 .5 .6 .5-.5 .5 .4 .5-.9 .5 .6 .5 .1 .5 .1 .5-.7 .5 .5 .5 .4 .5-.4 .5 .4 .5 0 .5-.2 .5-.2 .5 .2 .5-.4 .5 .7 .5-.2 .5 .4 .5 .5 .5-.6 .5-.2 .5-.2 .5 .3 .5 .2 .5-.8 .5-.4 .5-.1 .5 .9 .5-.2 .5-.1 .5-1 .5 .4 .5-.5 .5 .1 .5 .1 .5-.2 .5 .8 .2-1.3 .3 .1 .5-.4 .5-.1 0 .3 .5-1.4 .5-1.4 0 .5 .3-.4 .2-1.4 .2 .1 0-1.1 .3-1.6 .1-.5 .2-.5 0-.6 .2-.8 .2 .3 .2 1.7 0 .3 .1 1.6 .3 1.7 .2 .6 .1-.1 .1 0 .3 1.4 .5 1.4 .1 .2 .4 .3 .5 0 .4 .7 .1-.2 .5 .7 .5-.1 .5 .3 .5 0 .5-.3 .5 .8 .5-.9 .5 .8 .5-.5 .5 0 .5 .3 .5-.3 .5-.2 .5 0 .5-.1 .5 .5 .5 .1 .5-.2 .5-.6 .5 .7 .5 .3 .5-1 .5 0 .5 .6 .5-.9 .5-.4 .5-2 .5-.5 .5 2.2 .5 .8 .5 .5 .5-.3 .5 .2 .5 1.2 .5-1.1 .5 .9 .5-1.1 .5 .6 .5 .1 .5 .2 .5-.3 .5-.3 .5 .4 .5-.6 .5-.5 .5 .5 .5 1.3 .5-.3 .5 .5 .5-.6 .5-.8 .5 .3 .5 .5 .5-.4 .5-.1 .5 0 .5 .2 .5-.6 .5 1 .5-.5 .5 .8 .5 .1 .5-.8 .5 .5 .5-.1 .5-.4 .5-.2 .5 .6 .5-.2 .5-.4 .5-.1 .5 .2 .5 .4 .5-.1 .5-.6 .5 .2 .5 .1 .5-.2 .5 .2 .5-.3 .5 .1 .5 .5 .5 0 .5-.2 .5 1.1 .5-1 .5 .5 .5-.2 .5-.4 .5 .5 .5 .1 .5-.5 .5 .2 .5 1 .5-1.6 .5 .3 .5 .3 .5-.3 .5-.4 .5 .1 .5 .1 .5 0 .5 .1 .5 .6 .5-.6 .5-.3 .5 .4 .5 0 .5-.7 .5 .2 .5-.2 .5 .7 .5 .2 .5-.4 .5 .6 .5-.8 .5 .2 .5 .1 .5 .2 .5 .6 .5-1.1 .5 .7 .5-.1 .5 .5 .5-1.1 .5 .2 .5 1.2 .5-.2 .5-.1 .5-.5 .5 .5 .5-.5 .5-.5 .5 .4 .5-.1 .5-.3 .5 .1 .5 0 .5 .6 .5 .2 .5 .1 .5 0 .5-.9 .5 .8 .5 .1 .5-.1 .5-.6 .5-.8 .5 1.2 .5-.4 .5 .7 .5-1 .5 .8 .5-.5 .5-.4 .5 .4 .5 .1 .5 .4 .5 0 .5 .1 .5-.2 .5-.5 .5 0 .5 .2 .5-.2 .5-.5 .5-.2 .5 1.2 .5-.3 .5 .8 .5-1 .5 .7 .5-.4 .5 .2 .5-.2 .5 .5 .5-.3 .5-.4 .5 .1 .5-.1 .5 .1 .5 0 .5-.3 .5-.1 .5 .2 .5-.7 .5 .8 .5 .1 .5-1.5 .5 .9 .5 .5 .5-.9 .5 1.2 .5 .2 .5-.1 .5 .2 .5-.4 .5 .4 .5-.1 .5-.4 .5 .1 .5-.8 .5 .1 .5 1 .5 0 .5-.8 .5-.4 .5-.2 .5 1.4 .5-.4 .5 .7 .5-.3 .5 .3 .5-.5 .5-.6 .5 .1 .5 .6 .5-1 .5 .8 .5-.4 .5 .7 .5-.7 .5-.1 .5 .7 .5-1.7 .5 1.8 .5-.3 .5-.4 .5 .5 .5-.5 .5 .5 .5-.3 .5 .3 .5-.8 .5 .1 .5 1.1 .5-.7 .5-.2 .5-.3 .5 .1 .5 .3 .5-.6 .5 .5 .5-.1 .5-.8 .5 .9 .5 .5 .5-.7 .5 .1 .5 .2 .5-.4 .5-.5 .5 .8 .5-.2 .5-.1 .5 .9 .5-.6 .5-.3 .5 .1 .5 1 .5-.3 .5-1.1 .5 1 .5-.4 .5 0 .5 .7 .5-.1 .5-.7 .5 .4 .5 .3 .5-.4 .5 .2 .5-.4 .5 .8 .5 .1 .5-.9 .5-.3 .5 .3 .5 .6 .5-.3 .5-.1 .5 .1 .5-.7 .5 .6 .5 0 .5-.3 .5 .6 .5-.6 .5 .1 .5 .5 .5 0 .5-.2 .5 .1 .5 .1 .5 0 .5-.6 .5 .8 .5 .5 .5-.8 .5-.3 .5 .6 .5-.3 .5-.6 .5 .2 .5-.2 .5 .6 .5-1 .5 1.1 .5-.8 .5 .4 .5-.3 .5 .4 .5 .3 .5-.2 .5-.8 .5 .5 .5 .1 .5 .8 .5-.9 .5 0 .5-.1 .5 .4 .5 .3 .5-.6 .5 1 .5 0 .5-.1 .5-.2 .5 .7 .5-1.5 .5 .2 .5 1 .5-1.4 .5 .6 .5-.3 .5-.4 .5-.1 .5 .4 .5 .3 .5 .1 .5 .1 .5-.2 .5 0 .5 .3 .5-.4 .5-.3 .5 1 .5-1.3 .5 1.1 .5 .2 .5-1.1 .5-.4 .5 .5 .5 .5 .5-.6 .5 .8 .5-.2 .5-.7 .5 .8 .5-.9 .5 .4 .5 .3 .5 .5 .5-.2 .5 .3 .5-1.3 .5 2 .5-1.7 .5 .4 .5 .6 .5-.5 .5 .3 .5-1.1 .5 0 .5 .3 .5-.1 .5 .3 .5-.2 .5-.4 .5 .5 .5-.8 .5 .3 .5 .3 .5-.6 .5 .3 .5 .2 .5 .2 .5-.3 .5-.3 .5-.4 .4-1 .1 .1 .5-.4 .5-.4 .4-.3 .1-.6 .5-.7 .5-.5 .1-1 .4-1.7 .4-.2 .1-.3 .5-.7 .1 1.1 .4-.2 .3 1 .2-.6 .5 2 .1 0 .4 .9 .5 .8 .3 1 .2-.7 .5 1.9 .5 1.2 .3-.3 .2-1.4 .5 1.2 .5-.2 .5 .2 .5 .2 .5 .7 .5-.1 .5-.7 .5 .7 .5-.2 .5 .9 .5-1.5 .5 .6 .5-.3 .5 .4 .5-.8 .5 .4 .5 .4 .5-.2 .5-.1 .5 .4 .5-.2 .5-.1 .5 .4 .5 .1 .5 .2 .5-.8 .5 .6 .5 .7 .5-1.1 .5 .7 .5-.3 .5 .6 .5 0 .5-.4 .5-.3 .5-.5 .5 .4 .5-.2 .5 .4 .5 .6 .5 .2 .5-.7 .5-.1 .5-.1 .5 .2 .5-.2 .5 .8 .5-1 .5 .3 .5-.3 .5 .7 .5 .3 .5-.5 .5-.2 .5-.1 .5 .2 .5-.5 .5 .9 .5 0 .5-.4 .5-.2 .5-.6 .5 .8 .5-1.6 .5 0 .2 1 .3-1.3 .5-.8 .2-.8 .3 .6 .5-1.6 .2-1.1 0-1.1 .3-1.3 .1-1.3 .1 .1 .3-3.3 0-.7 .2-2.4 0 .3 .2-1 .1-.8 .1 1.8 .1 1 .1 1.5 .2 3.2 .2 1 0 1 .3 2.3 .1 .2 .4 .6 .2 1.1 .3 .6 .5 .4 .2 1.4 .3-.6 .5 .3 .5 .7 .5-.2 .5-.5 .5 .7 .5 .3 .5 0 .5 .4 .5 0 .5-.1 .5-.2 .5 .1 .5 .8 .5-1.5 .5 1.2 .5-.3 .5-.5 .5 .3 .5 .3 .5-.9 .5 .7 .5 .2 .5-.7 .5 .4 .5 .6 .5-.6 .5-.4 .5-.3 .5-.1 .5 1.1 .5-.5 .5 .1 .5-.1 .5-.2 .5 1.1 .5-.4 .5 .3 .5-1.1 .5 .8 .5 0 .5-.7 .5 .1 .5 .1 .5 .7 .5-.3 .5-.3 .5 .6 .5-.6 .5 .4 .5-.1"/>
<path d="M4.0 502.6l.5-.9 .5 0 .5 0 .5 .5 .5-.1 .5-.1 .5 0 .5-.7 .5 .7 .5-.1 .5 .3 .5-.5 .5 .1 .5 .3 .5 1.1 .5-1.4 .5 1.1 .5-1.2 .5 .4 .5-.3 .5 .9 .5-.5 .5 .1 .5 .3 .5 .1 .5-.8 .5 .4 .5-.3 .5 .6 .5-1.3 .5 1.8 .5-1 .5-.8 .5 1 .5-.4 .5 .4 .5 .1 .5 .4 .5-1.2 .5 1 .5 .3 .5-.9 .5 .7 .5 0 .5-.6 .5-.6 .5 .8 .5-.4 .5 .8 .5-.8 .5 .4 .5-.2 .5-.1 .5-.6 .5 .2 .5 .3 .5 0 .5-.1 .5 .4 .5-.3 .5 .3 .5-.3 .5 .1 .5-.3 .5-.5 .5 1 .5 0 .5-.1 .5-.6 .5 .8 .5-.4 .5 0 .5-.3 .5 .1 .5 0 .5 .5 .5-.5 .5 .4 .5-.2 .5-.3 .5 .6 .5 .1 .5 0 .5-1.3 .5 1.7 .5-.4 .5-.4 .5 1.2 .5-.8 .5 .3 .5-.2 .5-1 .5 1.5 .5-1 .5 1 .5-.5 .5-.3 .5-.6 .5 .8 .5-.2 .5 .5 .5-.5 .5 .7 .5-.6 .5 0 .5 .9 .5-.5 .5-.7 .5 .4 .5-.9 .5 .3 .5 .1 .5-.2 .5 0 .5 .7 .5-.5 .5 0 .5 .1 .5 0 .5 .6 .5-.1 .5-.7 .5 1.1 .5-.1 .5-.6 .5-.3 .5 .4 .5-.3 .5 .5 .5-.3 .5 .6 .5-1.3 .5 .5 .5 .4 .5-.2 .5 0 .5-.2 .5 1.3 .5-.8 .5 .4 .5-.6 .5 .2 .5 .1 .5 .7 .5-.1 .5 .2 .5-.2 .5-.1 .5-.7 .5-.2 .5 .8 .5-.9 .5 .6 .5-.5 .5-.1 .5 .4 .5-.3 .5 .2 .5 .6 .5-.5 .5 .6 .5-.6 .5 .3 .5-.6 .5 .9 .5-1.4 .5 .9 .5 .1 .5-1.3 .5 .3 .5 0 .5 .6 .5-.1 .5 0 .5 .4 .5 .7 .5-1.3 .5 .6 .5-.2 .5 .5 .5-1.3 .5 .2 .5 .1 .5 0 .5 .4 .5-.5 .5-.9 .5-.2 .5-.9 .5 .3 .5 .3 .5-.3 .5 1 .5 1.3 .5-.4 .5-.7 .5 1.3 .5 .4 .5-1 .5 .3 .5 .3 .5-.4 .5 .5 .5-.3 .5-.4 .5 .1 .5 .1 .5-.1 .5 .8 .5-.3 .5-.2 .5 .4 .5-.3 .5 .4 .5 .2 .5-.6 .5-.4 .5-.2 .5 1.1 .5-.6 .5-.4 .5 .2 .5-.5 .5 1 .5-.5 .5-.4 .5-.5 .5 1.4 .5-1 .5-1.2 .5 .2 .5-.8 .5 .1 .5-.5 .5 1 .5 .7 .5 .3 .5 0 .5-.3 .5 .7 .5 .2 .5-.4 .5 .6 .5 .2 .5-.5 .5 0 .5 .2 .5 .6 .5-.1 .5-1.3 .5 .5 .5 1.2 .5-1.1 .5 .9 .5-.5 .5 .3 .5-.6 .5 .2 .5 .3 .5-.2 .5 0 .5 .6 .5-.6 .5 .6 .5-.7 .5 .1 .5 .5 .5-.1 .5 .2 .5-.4 .5 0 .5-.1 .5-.5 .5 .4 .5 .6 .5-.5 .5 .1 .5 .4 .5-.9 .5 .5 .5-.4 .5 .7 .5-1.1 .5 .5 .5-.1 .5 .1 .5-.1 .5 1 .5-.8 .5 0 .5-.5 .5 0 .5 .2 .5-.2 .5 .6 .5-.4 .5 0 .5 .1 .5-.4 .5-.2 .5 .2 .5 .3 .5-.1 .5-.3 .5 1 .5-.6 .5 .1 .5 .2 .5-1.3 .5-.2 .5-.6 .5 0 .5-.1 .5 1.1 .5 .6 .5 .1 .5 .7 .5-.7 .5 .2 .5-.2 .5-.4 .5 .4 .5 .3 .5 .7 .5-.1 .5-.7 .5-.1 .5 .4 .5-.1 .5 1.2 .5-.6 .5-.3 .5-.2 .5-.3 .5 .4 .5-1.1 .5 .8 .5-.1 .5 .8 .5-1.4 .5 1 .5-.5 .5 .4 .5-.6 .5 .5 .5 .1 .5 .7 .5-1.4 .5 .1 .5-.3 .5-1.2 .5 0 .5 0 .5-.2 .5 .5 .5 1.2 .5-.6 .5 .6 .5 .5 .5-1 .5 .5 .5 .1 .5-.1 .5-.1 .5 .2 .5 .3 .5-.6 .5 .3 .5 .4 .5-.5 .5-.2 .5 .8 .5 0 .5 .1 .5-.3 .5-.3 .5 .9 .5-.1 .5-.1 .5-.6 .5 .3 .5-.4 .5-.1 .5 .5 .5 .1 .5 .1 .5-.2 .5 .8 .5-1.3 .5 1 .5-.7 .5 .5 .5-.8 .5 1.3 .5-.3 .5-1.2 .5 1.1 .5-.4 .5 .3 .5-.4 .5-.1 .5-.5 .5 .4 .5 .2 .5-.6 .5 .2 .5 .5 .5 .2 .5-.4 .5 .8 .5-.8 .5 .5 .5 .3 .5-.9 .5 .8 .5-.6 .5-.3 .5 1 .5 0 .5-.8 .5 .5 .5-.1 .5-.6 .5 .7 .5-1.4 .5-1.2 .5 .2 .5-.1 .5-.1 .5 0 .5 .5 .5 1.2 .5-.6 .5 1.1 .5-.1 .5-.4 .5 0 .5-.1 .5 .3 .5 .7 .5-.5 .5-.3 .5 .9 .5-.8 .5 0 .5 1.1 .5-.6 .5 .3 .5-.2 .5 0 .5 .1 .5 .1 .5 .6 .5-1.4 .5-.5 .5 .9 .5-.5 .5 .7 .5-.6 .5 .6 .5 .4 .5-.7 .5-.1 .5 .6 .5-.7 .5 .2 .5 0 .5-.6 .5 .9 .5-.9 .5 .8 .5-.3 .5-.5 .5 .3 .5 .6 .5-.5 .5 1.1 .5-1.3 .5 1 .5-1.1 .5 .6 .5 .5 .5-1.2 .5 .8 .5-.6 .5-.1 .5 .2 .5 0 .5 0 .5-.1 .5-.1 .5-.8 .5 1.6 .5 .4 .5-.7 .5-.2 .5-.3 .5 .5 .5 .1 .5-.5 .5 .3 .5 .4 .5-.1 .5-.1 .5 .1 .5-.3 .5 .3 .5 0 .5-.3 .5 .3 .5 .5 .5 .1 .5-1.4 .5 .2 .5 1 .5-.3 .5-.1 .5-.8 .5 .5 .5 .2 .5-.2 .5-.5 .5 .1 .5 .4 .5 0 .5 .5 .5-1.5 .5 .7 .5 .8 .5-.9 .5 .5 .5 .6 .5-1.1 .5 .5 .5 .6 .5-1.4 .5-.5 .5 .9 .5-1.8 .5 .2 .5 .1 .5 .4 .5 0 .5 1.2 .5 .2 .5-.2 .5 .5 .5-.3 .5-.2 .5 1.3 .5-2 .5 .3 .5 .1 .5 .3 .5 .3 .5-.1 .5 1 .5-1.1 .5-.2 .5 .5 .5-.1 .5 0 .5 .6 .5-.3 .5 .3 .5-1 .5 .7 .5-.3 .5-.3 .5-.4 .5 .6 .5-.5 .5 .8 .5-.1 .5 0 .5 .9 .5-.6 .5-1.3 .5 1 .5-.1 .5 0 .5-.3 .5 .6 .5-1.6 .5 .6 .5 .8 .5-.2 .5 .3 .5-.5 .5-.1 .5 .6 .5-.3 .5-.8 .5 1.2 .5-.8 .5 .8 .5-.2 .5 .2 .5 .2 .5-.8 .5 .7 .5-.3 .5 0 .5 .1 .5-.2 .5 .2 .5 .1 .5-.4 .5 .7 .5-.4 .5-.5 .5 .7 .5 0 .5-.8 .5 .8 .5-.3 .5 .3 .5-.2 .5 .3 .5-.1 .5-1 .5 1 .5 .1 .5 .1 .5 .2 .5-.4 .5 .3 .5-.2 .5-.6 .5-.1 .5 .8 .5-.3 .5-1 .5 .2 .5 .9 .5-.4 .5-.8 .5 .9 .5 .2 .5-.1 .5-.3 .5-.1 .5-.1 .5 .1 .5 .3 .5 1 .5 .1 .5-1.1 .5-.5 .5 .6 .5 0 .5 .1 .5-.7 .5 .7 .5-.3 .5 .2 .5-.7 .5 .6 .5-.5 .5 .1 .5 0 .5 0 .5 0 .5 0 .5 .1 .5-.1 .5 .1 .5 .1 .5 1 .5-.4 .5-.6 .5-.3 .5 1.1 .5-.5 .5 .2 .5 .4 .5-1.3 .5 .6 .5 .3 .5 .5 .5-.5 .5 0 .5 0 .5 0 .5 0 .5-.3 .5-.1 .5 .1 .5 .4 .5 .2 .5-.4 .5-.2 .5 .6 .5-.4 .5 .1 .5-.5 .5-.1 .5 .3 .5-.3 .5 .5 .5-.9 .5 .4 .5-.1 .5-.4 .5 .3 .5-.3 .5 .3 .5 0 .5 1.3 .5-1.5 .5 .7 .5-.5 .5 .4 .5-.3 .5-.2 .5 .9 .5-.1 .5-1.2 .5 .7 .5-.1 .5-.5 .5 .8 .5 .1 .5-.1 .5 .2 .5 .6 .5-.9 .5 .7 .5 .4 .5-2 .5 1.1 .5 .7 .5-.5 .5-.4 .5 .8 .5-.2 .5-1.1 .5 1 .5-.5 .5 .1 .5-.6 .5 .7 .5-.1 .5-.4 .5 .2 .5 .8 .5 .1 .5-1.2 .5 .8 .5-.3 .5 0 .5 .3 .5 .5 .5-.4 .5-.6 .5 .4 .5 .1 .5 .3 .5-.5 .5 .1 .5 0 .5 .2 .5-1.1 .5 1.4 .5-.5 .5-.1 .5-.5 .5 .6 .5 .7 .5-1.1 .5-.4 .5 .8 .5-.1 .5-.1 .5-.6 .5 .8 .5 .1 .5-2.1 .5 1.9 .5 .2 .5-.7 .5-.5 .5 .9 .5 .8 .5-.8 .5 .8 .5-.8 .5-.3 .5-.3 .5 .9 .5-1.2 .5 .3 .5 .1 .5 .3 .5-.1 .5-.7 .5 .1 .5 1.2 .5-.8 .5-.2 .2-.2 .3 .1 .5-.7 .5 .3 0-.1 .5-1.1 .5-.8 0-.5 .3-1 .2-.2 .2-1.3 0-.6 .3-1 .1-1.4 .2-1.6 0 .4 .2-1.9 .2 1.4 .2 2.5 0-.4 .1 .5 .3 2.3 .2 1 .1 .3 .1 .8 .3 .8 .5 1.6 .1-.4 .4 1 .5-.2 .4 .9 .1-.7 .5 .8 .5-.3 .5 .8 .5-.9 .5 .2 .5 .5 .5-.5 .5 1 .5-.7 .5 .2 .5 .2 .5-.2 .5-.6 .5-.3 .5-.2 .5 .3 .5 0 .5-.1 .5 .5 .5-.8 .5-.2 .5 .7 .5 .5 .5-1.4 .5-.1 .5-.9 .5-1 .5 .1 .5 1.2 .5 1.4 .5 0 .5 .6 .5 .6 .5-1.5 .5 .4 .5 .2 .5 .1 .5 .5 .5 0 .5 .6 .5-.1 .5-.6 .5-.2 .5 .3 .5-.2 .5-.4 .5 .4 .5-.4 .5 .2 .5 0 .5-.2 .5 0 .5 .4 .5-.1 .5-.4 .5 1.2 .5 .1 .5-.1 .5-.2 .5-.5 .5-.4 .5 0 .5-.3 .5 .6 .5-.6 .5 .7 .5 .1 .5-.4 .5 0 .5 .2 .5 .3 .5-.4 .5 .9 .5-1.1 .5 .1 .5 .1 .5 .1 .5 .2 .5 .1 .5-.3 .5 .7 .5-1.4 .5 .9 .5-.1 .5-.6 .5 0 .5 .6 .5 .4 .5-.3 .5-.2 .5-.1 .5-.1 .5 0 .5 .4 .5 .2 .5-.3 .5-.5 .5 .5 .5 .2 .5-1.2 .5 .9 .5-.3 .5 .2 .5-.5 .5 0 .5 .4 .5-.2 .5 .1 .5-.1 .5 .5 .5 .3 .5-.8 .5 .6 .5-.3 .5 .3 .5 .4 .5-.3 .5-.2 .5-.4 .5 .9 .5 .2 .5-1.5 .5 1 .5-.3 .5-.5 .5 1.2 .5-.5 .5 .7 .5-1.1 .5 .1 .5-.3 .5 .7 .5-.7 .5 .6 .5 .7 .5-.2 .5 .2 .5-.4 .5 .2 .5-.4 .5-.5 .5 .7 .5-.2 .5-.4 .5-.1 .5 .9 .5-1.2 .5 .3 .5 .6 .5 .1 .5-.1 .5-.7 .5 1.1 .5-.5 .5-.5 .5 1 .5-.4 .5-.8 .5-.3 .5 .9 .5-.2 .5 .3 .5-.1 .5-.4 .5 .5 .5-.1 .5-.6 .5 .8 .5-.2 .5-.2 .5 .3 .5-.5 .5 .1 .5 .3 .5-.3 .5 1 .5-.5 .5 .2 .5 .4 .5-.2 .5 .2 .5-1.2 .5 1 .5-.9 .5 .1 .5 .1 .5-.1 .5 0 .5 .1 .5 .5 .5-1.5 .5 .3 .5 0 .5 .7 .5-.1 .5 .1 .5 .6 .5-.7 .5-.6 .5 .8 .5 .5 .5 .1 .5-.8 .5 .1 .5 .1 .5 .1 .5-.3 .5-.1 .5 .8 .5 0 .5-.6 .5-.2 .5-.1 .5-.2 .5 0 .5 .4 .5-.2 .5 .5 .5-.3 .5-.1 .5 .3 .5-.8 .5 1.2 .5-.2 .5 .7 .5-.6 .5 .1 .5-.4 .5 1.2 .5-.8 .5 .3 .5-.8 .5 .3 .5-.7 .5 .1 .5 0 .5-.3 .5 .7 .5 0 .5 .2 .5-.9 .5 .2 .5 .2 .5 .3 .5-.8 .5 .5 .5 .5 .5-.3 .5-.1 .5-.4 .5 .4 .5 .4 .5 .2 .5-1.1 .5 .9 .5-.3 .5-.2 .5 1.1 .5-.5 .5-.7 .5 0 .5 .5 .5-.7 .5 .5 .5 .2 .5-.7 .5 .6 .5 .1 .5-.5 .5 .5 .5 .1 .5-.1 .5-.5 .5 .7 .5-.5 .5 .2 .5 0 .5 0 .5-.8 .5 1.2 .5-.2 .5-.1 .5 .2 .5-.4 .5 .1 .5 .3 .5-1.1 .5 .6 .5 0 .5 .1 .5-.1 .5-.1 .5 .4 .5 .2 .5-.2 .5 .2 .5-.2 .5 .4 .5 0 .5-.8 .5-.2 .5 .1 .5 .1 .5 .4 .5-.1 .5-.2 .5-.3 .5 .1 .5 0 .5 .2 .5-1.3 .5 1.3 .5 .1 .5-.5 .5 .8 .5-.3 .5 0 .5-.9 .5 1 .5-.3 .5 .1 .5-1 .5 .3 .5 .6 .5-.4 .5 1.1 .5-1 .5 .8 .5-.2 .5 1.1 .5-1.2 .5 .6 .5-.7 .5-.3 .5 .6 .5 .4 .5-.7 .5 .6 .5-.2 .5-.2 .5 .1 .5-.1 .5-.3 .5 .3 .5 .1 .5-.5 .5-.8 .5 1.4 .5-.5 .5 .5 .5-.6 .5 .6 .5-.3 .5 0 .5 .1 .5 .2 .5-.8 .5 1.2 .5-.2 .5-.3 .5-.8 .5 .9 .5-.4 .5 .7 .5-.9 .5 0 .5 .5 .5-1.3 .5 .7 .5 .1 .5-.9 .5 .6 .5 .5 .5 0 .5 .6 .5-.3 .5-1 .5 .8 .5-.2 .5-.2 .5-.6 .5 1.2 .5-.1 .5-.7 .5-.6 .5-.3 .5-.1 .5 .6 .5-1.3 .5 .9 .4-.8 .1 .1 .5-.3 .5 .1 .4-1.2 .1-.6 .5-.8 .5-1.4 .1-.4 .4-1.1 .4-1.4 .1 .2 .5-1.3 .1 1 .4-.3 .3 .5 .2 1.2 .5 1.5 .1 0 .4 .5 .5 1.2 .3 1.4 .2 1 .5-.1 .5 .5 .3 .4 .2-.5 .5 1.1 .5-.5 .5 .4 .5-.2 .5-.1 .5 .3 .5 0 .5 .2 .5 .9 .5-.5 .5-.3 .5 .5 .5-.4 .5 .8 .5-.1 .5-.4 .5 .1 .5 .1 .5-.4 .5 0 .5 .4 .5-.4 .5 .4 .5 .3 .5-.4 .5 .3 .5 .4 .5-.9 .5 .7 .5-.9 .5-.1 .5 .5 .5-.2 .5-.5 .5 1.1 .5-.2 .5-.8 .5 .3 .5 0 .5-.4 .5 .6 .5-.6 .5-.2 .5 1.3 .5-.8 .5-.1 .5 .3 .5-.2 .5 1.2 .5-.7 .5 .1 .5 0 .5 .5 .5-1.8 .5 1.3 .5-.3 .5 0 .5 .4 .5-.3 .5-1 .5 .7 .5-.3 .5 .4 .5-1.6 .5 .9 .2-.4 .3 0 .5-.8 .2-1.5 .3 .6 .5-1.9 .2-1.1 0 .5 .3-2.3 .1-.3 .1-.9 .3-4.4 0 .5 .2-2.7 0-.1 .2-1.2 .1 .9 .1 .4 .1 2.2 .1 .5 .2 3.2 .2 1.3 0 .6 .3 2.2 .1 .1 .4 2.5 .2-.5 .3 1.9 .5 .3 .2-.1 .3 .5 .5 .1 .5 1.1 .5-.6 .5-.3 .5 .5 .5-.2 .5 .2 .5-.1 .5 0 .5 .6 .5-.3 .5 .4 .5-.5 .5 .1 .5-.1 .5 .7 .5 .1 .5-.7 .5 .4 .5-.9 .5 0 .5 .9 .5-1 .5 1.8 .5-.7 .5 .3 .5-.7 .5-.5 .5 .2 .5 0 .5 .7 .5-.7 .5 0 .5 1 .5-1.2 .5 .3 .5 .8 .5 .5 .5-1.8 .5-.3 .5 .7 .5 .4 .5-.2 .5-.2 .5-.3 .5 .9 .5-.6 .5-.1 .5 .3 .5 .6"/></g>
</g>
<!-- spectrum axis -->
<line x1="3.9" y1="532.4" x2="680" y2="532.4" stroke="#727272" stroke-width="1.7"/>
<line x1="21.7" y1="532.4" x2="21.7" y2="536.2" stroke="#6e6e6e" stroke-width="1.2"/>
<line x1="46.6" y1="532.4" x2="46.6" y2="534.6" stroke="#8a8a8a" stroke-width="1"/>
<line x1="71.5" y1="532.4" x2="71.5" y2="536.2" stroke="#6e6e6e" stroke-width="1.2"/>
<line x1="96.4" y1="532.4" x2="96.4" y2="534.6" stroke="#8a8a8a" stroke-width="1"/>
<line x1="121.3" y1="532.4" x2="121.3" y2="536.2" stroke="#6e6e6e" stroke-width="1.2"/>
<line x1="146.2" y1="532.4" x2="146.2" y2="534.6" stroke="#8a8a8a" stroke-width="1"/>
<line x1="171.1" y1="532.4" x2="171.1" y2="536.2" stroke="#6e6e6e" stroke-width="1.2"/>
<line x1="196.0" y1="532.4" x2="196.0" y2="534.6" stroke="#8a8a8a" stroke-width="1"/>
<line x1="220.9" y1="532.4" x2="220.9" y2="536.2" stroke="#6e6e6e" stroke-width="1.2"/>
<line x1="245.8" y1="532.4" x2="245.8" y2="534.6" stroke="#8a8a8a" stroke-width="1"/>
<line x1="270.7" y1="532.4" x2="270.7" y2="536.2" stroke="#6e6e6e" stroke-width="1.2"/>
<line x1="295.6" y1="532.4" x2="295.6" y2="534.6" stroke="#8a8a8a" stroke-width="1"/>
<line x1="320.5" y1="532.4" x2="320.5" y2="536.2" stroke="#6e6e6e" stroke-width="1.2"/>
<line x1="345.4" y1="532.4" x2="345.4" y2="534.6" stroke="#8a8a8a" stroke-width="1"/>
<line x1="370.3" y1="532.4" x2="370.3" y2="536.2" stroke="#6e6e6e" stroke-width="1.2"/>
<line x1="395.2" y1="532.4" x2="395.2" y2="534.6" stroke="#8a8a8a" stroke-width="1"/>
<line x1="420.1" y1="532.4" x2="420.1" y2="536.2" stroke="#6e6e6e" stroke-width="1.2"/>
<line x1="445.0" y1="532.4" x2="445.0" y2="534.6" stroke="#8a8a8a" stroke-width="1"/>
<line x1="469.9" y1="532.4" x2="469.9" y2="536.2" stroke="#6e6e6e" stroke-width="1.2"/>
<line x1="494.8" y1="532.4" x2="494.8" y2="534.6" stroke="#8a8a8a" stroke-width="1"/>
<line x1="519.7" y1="532.4" x2="519.7" y2="536.2" stroke="#6e6e6e" stroke-width="1.2"/>
<line x1="544.6" y1="532.4" x2="544.6" y2="534.6" stroke="#8a8a8a" stroke-width="1"/>
<line x1="569.5" y1="532.4" x2="569.5" y2="536.2" stroke="#6e6e6e" stroke-width="1.2"/>
<line x1="594.4" y1="532.4" x2="594.4" y2="534.6" stroke="#8a8a8a" stroke-width="1"/>
<line x1="619.3" y1="532.4" x2="619.3" y2="536.2" stroke="#6e6e6e" stroke-width="1.2"/>
<line x1="644.2" y1="532.4" x2="644.2" y2="534.6" stroke="#8a8a8a" stroke-width="1"/>
<line x1="669.1" y1="532.4" x2="669.1" y2="536.2" stroke="#6e6e6e" stroke-width="1.2"/>
<text x="21.7" y="554.6" text-anchor="middle" class="tk">8.5</text>
<text x="71.5" y="554.6" text-anchor="middle" class="tk">8.0</text>
<text x="121.3" y="554.6" text-anchor="middle" class="tk">7.5</text>
<text x="171.1" y="554.6" text-anchor="middle" class="tk">7.0</text>
<text x="220.9" y="554.6" text-anchor="middle" class="tk">6.5</text>
<text x="270.7" y="554.6" text-anchor="middle" class="tk">6.0</text>
<text x="320.5" y="554.6" text-anchor="middle" class="tk">5.5</text>
<text x="370.3" y="554.6" text-anchor="middle" class="tk">5.0</text>
<text x="420.1" y="554.6" text-anchor="middle" class="tk">4.5</text>
<text x="469.9" y="554.6" text-anchor="middle" class="tk">4.0</text>
<text x="519.7" y="554.6" text-anchor="middle" class="tk">3.5</text>
<text x="569.5" y="554.6" text-anchor="middle" class="tk">3.0</text>
<text x="619.3" y="554.6" text-anchor="middle" class="tk">2.5</text>
<text x="669.1" y="554.6" text-anchor="middle" class="tk">2.0</text>
<text x="314" y="568" class="tk" style="font-size:14px" textLength="62" lengthAdjust="spacingAndGlyphs">f1 (ppm)</text>

<!-- H labels -->
<text x="5" y="55" class="hl" style="font-size:12.3px" textLength="10" lengthAdjust="spacingAndGlyphs">H</text><text x="14.6" y="58" class="hl" style="font-size:8.5px">1</text>
<text x="32.1" y="55" class="hl" style="font-size:12.3px" textLength="10" lengthAdjust="spacingAndGlyphs">H</text><text x="41.3" y="58" class="hl" style="font-size:8.5px">2</text>
<text x="49.9" y="55" class="hl" style="font-size:12.3px" textLength="10" lengthAdjust="spacingAndGlyphs">H</text><text x="59.3" y="58" class="hl" style="font-size:8.5px">3</text>
<text x="100.5" y="55" class="hl" style="font-size:12.3px" textLength="10" lengthAdjust="spacingAndGlyphs">H</text><text x="110" y="58" class="hl" style="font-size:8.5px">4</text>

<!-- trace labels -->
<text x="460.5" y="52.6" class="lb" textLength="64" lengthAdjust="spacingAndGlyphs">Guest only</text>
<text x="467" y="82.4" class="lb" textLength="100.5" lengthAdjust="spacingAndGlyphs">24.4 equiv. guest</text>
<text x="466.5" y="112.8" class="lb" textLength="44" lengthAdjust="spacingAndGlyphs">21.2 eq</text>
<text x="468.3" y="144.6" class="lb" textLength="44" lengthAdjust="spacingAndGlyphs">17.9 eq</text>
<text x="467.6" y="172.2" class="lb" textLength="44" lengthAdjust="spacingAndGlyphs">14.5 eq</text>
<text x="467.3" y="199.6" class="lb" textLength="44" lengthAdjust="spacingAndGlyphs">11.2 eq</text>
<text x="470.3" y="228.6" class="lb" textLength="45" lengthAdjust="spacingAndGlyphs">8.20 eq</text>
<text x="470.8" y="259.5" class="lb" textLength="44.5" lengthAdjust="spacingAndGlyphs">5.87 eq</text>
<text x="470.3" y="288" class="lb" textLength="45" lengthAdjust="spacingAndGlyphs">4.13 eq</text>
<text x="470.3" y="316.2" class="lb" textLength="45" lengthAdjust="spacingAndGlyphs">2.80 eq</text>
<text x="471.4" y="344.8" class="lb" textLength="44" lengthAdjust="spacingAndGlyphs">1.80 eq</text>
<text x="472.2" y="374" class="lb" textLength="44.8" lengthAdjust="spacingAndGlyphs">1.13 eq</text>
<text x="473.4" y="404.2" class="lb" textLength="44" lengthAdjust="spacingAndGlyphs">0.67 eq</text>
<text x="473.4" y="432.4" class="lb" textLength="44" lengthAdjust="spacingAndGlyphs">0.33 eq</text>
<text x="471.6" y="464.6" class="lb" textLength="100.5" lengthAdjust="spacingAndGlyphs">0.13 equiv. guest</text>
<text x="447.2" y="491.8" class="lb" textLength="140.8" lengthAdjust="spacingAndGlyphs">OA only (0 equiv. guest)</text>

<!-- peak letters -->
<text x="100.6" y="484.2" class="pk">g</text>
<text x="122.6" y="485" class="pk">j</text>
<text x="155.5" y="486" class="pk">d</text>
<text x="176.8" y="485.8" class="pk">c</text>
<text x="222" y="489" class="pk">f</text>
<text x="277.4" y="489.5" class="pk">e</text>
<text x="404.6" y="485.6" class="pk">a</text>
<text x="423.8" y="489.3" class="pk">b</text>
<text x="616.6" y="492.3" class="pk">l</text>
<text x="654.5" y="486.6" class="pk">m</text>

<!-- structure -->
<g stroke="#5a5a5a" stroke-width="1.05" fill="none">
<polygon points="181.7,18.8 191.1,24.1 191.1,34.7 181.7,39.9 172.3,34.7 172.3,24.1"/>
<line x1="174.5" y1="25.6" x2="181.7" y2="21.4" stroke="#888"/>
<line x1="174.5" y1="33.3" x2="181.7" y2="37.4" stroke="#888"/>
<line x1="188.7" y1="25.6" x2="188.7" y2="33.3" stroke="#888"/>
<line x1="181.7" y1="18.8" x2="181.7" y2="13.2"/>
<line x1="191.1" y1="24.1" x2="199.9" y2="18.8"/>
<line x1="199.1" y1="18.8" x2="199.1" y2="11.6"/>
<line x1="200.8" y1="18.8" x2="200.8" y2="11.6" stroke="#888"/>
<line x1="199.9" y1="18.8" x2="206.6" y2="22.6"/>
<line x1="191.1" y1="34.7" x2="197.6" y2="38.6"/>
<line x1="181.7" y1="39.9" x2="181.7" y2="46.2"/>
<line x1="172.3" y1="34.7" x2="166.6" y2="38"/>
<line x1="172.3" y1="24.1" x2="165.3" y2="19.8"/>
</g>
<g style="font-weight:bold;fill:#444">
<text x="178.9" y="10.2" style="font-size:7px">H</text><text x="184.2" y="11.6" style="font-size:4.5px">1</text>
<text x="197.6" y="10.6" style="font-size:7.4px">O</text>
<text x="207.4" y="26.8" style="font-size:7.6px">OH</text>
<text x="197.3" y="43.8" style="font-size:7.2px">H</text><text x="202.7" y="45.2" style="font-size:4.6px">2</text>
<text x="154.6" y="43.6" style="font-size:7.2px">H</text><text x="160" y="45" style="font-size:4.6px">3</text>
<text x="178.6" y="52.8" style="font-size:7px">H</text><text x="183.9" y="54.2" style="font-size:4.5px">4</text>
<text x="149.2" y="20.8" style="font-size:7.8px">O</text><text x="155.4" y="22.2" style="font-size:4.6px">2</text><text x="158.3" y="20.8" style="font-size:7.8px">N</text>
</g>

<!-- ============ binding chart ============ -->
<text x="297" y="606.2" class="big" style="font-size:24px">[G<tspan font-size="14.5" dy="4.5">t</tspan><tspan dy="-4.5">] in mol/L</tspan></text>
<text x="236" y="684.3" class="big" style="font-size:24.6px">OA-3-Nitrobenzoic acid</text>
<line x1="78.5" y1="621.0" x2="78.5" y2="1023.5" stroke="#8c8c8c" stroke-width="1.5"/>
<line x1="74.8" y1="644.6" x2="78.5" y2="644.6" stroke="#8c8c8c" stroke-width="1.3"/>
<text x="67.6" y="650.6" text-anchor="end" class="ct" style="font-size:12.2px">-0.005</text>
<line x1="74.8" y1="691.9" x2="78.5" y2="691.9" stroke="#8c8c8c" stroke-width="1.3"/>
<text x="67.6" y="697.9" text-anchor="end" class="ct" style="font-size:12.2px">-0.015</text>
<line x1="74.8" y1="739.1" x2="78.5" y2="739.1" stroke="#8c8c8c" stroke-width="1.3"/>
<text x="67.6" y="745.1" text-anchor="end" class="ct" style="font-size:12.2px">-0.025</text>
<line x1="74.8" y1="786.4" x2="78.5" y2="786.4" stroke="#8c8c8c" stroke-width="1.3"/>
<text x="67.6" y="792.4" text-anchor="end" class="ct" style="font-size:12.2px">-0.035</text>
<line x1="74.8" y1="833.7" x2="78.5" y2="833.7" stroke="#8c8c8c" stroke-width="1.3"/>
<text x="67.6" y="839.7" text-anchor="end" class="ct" style="font-size:12.2px">-0.045</text>
<line x1="74.8" y1="880.9" x2="78.5" y2="880.9" stroke="#8c8c8c" stroke-width="1.3"/>
<text x="67.6" y="886.9" text-anchor="end" class="ct" style="font-size:12.2px">-0.055</text>
<line x1="74.8" y1="928.2" x2="78.5" y2="928.2" stroke="#8c8c8c" stroke-width="1.3"/>
<text x="67.6" y="934.2" text-anchor="end" class="ct" style="font-size:12.2px">-0.065</text>
<line x1="74.8" y1="975.5" x2="78.5" y2="975.5" stroke="#8c8c8c" stroke-width="1.3"/>
<text x="67.6" y="981.5" text-anchor="end" class="ct" style="font-size:12.2px">-0.075</text>
<line x1="74.8" y1="1022.7" x2="78.5" y2="1022.7" stroke="#8c8c8c" stroke-width="1.3"/>
<text x="67.6" y="1028.7" text-anchor="end" class="ct" style="font-size:12.2px">-0.085</text>
<line x1="75" y1="621.0" x2="659.4" y2="621.0" stroke="#151515" stroke-width="1.9"/>
<line x1="150.1" y1="621.0" x2="150.1" y2="624.6" stroke="#151515" stroke-width="1.5"/>
<text x="149.1" y="642.4" text-anchor="middle" class="ct">0.001</text>
<line x1="222.8" y1="621.0" x2="222.8" y2="624.6" stroke="#151515" stroke-width="1.5"/>
<text x="221.8" y="642.4" text-anchor="middle" class="ct">0.002</text>
<line x1="295.4" y1="621.0" x2="295.4" y2="624.6" stroke="#151515" stroke-width="1.5"/>
<text x="294.4" y="642.4" text-anchor="middle" class="ct">0.003</text>
<line x1="368.1" y1="621.0" x2="368.1" y2="624.6" stroke="#151515" stroke-width="1.5"/>
<text x="367.1" y="642.4" text-anchor="middle" class="ct">0.004</text>
<line x1="440.7" y1="621.0" x2="440.7" y2="624.6" stroke="#151515" stroke-width="1.5"/>
<text x="439.7" y="642.4" text-anchor="middle" class="ct">0.005</text>
<line x1="513.3" y1="621.0" x2="513.3" y2="624.6" stroke="#151515" stroke-width="1.5"/>
<text x="512.3" y="642.4" text-anchor="middle" class="ct">0.006</text>
<line x1="586.0" y1="621.0" x2="586.0" y2="624.6" stroke="#151515" stroke-width="1.5"/>
<text x="585.0" y="642.4" text-anchor="middle" class="ct">0.007</text>
<line x1="658.6" y1="621.0" x2="658.6" y2="624.6" stroke="#151515" stroke-width="1.5"/>
<text x="657.6" y="642.4" text-anchor="middle" class="ct">0.008</text>
<text transform="translate(19.2,968) rotate(-90)" x="0" y="0" class="big" style="font-size:24.55px">Shift of “f” protons in ppm</text>
<polyline points="78.4,621.1 82.9,654.6 90.7,701.6 101.8,763 119.4,829.4 141.5,881.4 172.6,923.5 213.7,954.5 264.6,969 326,980.2 396,987.8 465.6,992.3 526.8,995.5 580.5,997.8 629.3,998.3" fill="none" stroke="#c02a42" stroke-width="1.8" stroke-linejoin="round"/>
<circle cx="78.4" cy="621.1" r="5" fill="#5a50d0" opacity="0.28"/>
<ellipse cx="78.4" cy="621.1" rx="3.9" ry="4.3" fill="#1610a0"/>
<circle cx="82.9" cy="654.6" r="5" fill="#5a50d0" opacity="0.28"/>
<ellipse cx="82.9" cy="654.6" rx="3.9" ry="4.3" fill="#1610a0"/>
<circle cx="90.7" cy="701.7" r="5" fill="#5a50d0" opacity="0.28"/>
<ellipse cx="90.7" cy="701.7" rx="3.9" ry="4.3" fill="#1610a0"/>
<circle cx="101.8" cy="763" r="5" fill="#5a50d0" opacity="0.28"/>
<ellipse cx="101.8" cy="763" rx="3.9" ry="4.3" fill="#1610a0"/>
<circle cx="119.4" cy="829.4" r="5" fill="#5a50d0" opacity="0.28"/>
<ellipse cx="119.4" cy="829.4" rx="3.9" ry="4.3" fill="#1610a0"/>
<circle cx="141.5" cy="881.5" r="5" fill="#5a50d0" opacity="0.28"/>
<ellipse cx="141.5" cy="881.5" rx="3.9" ry="4.3" fill="#1610a0"/>
<circle cx="172.6" cy="924" r="5" fill="#5a50d0" opacity="0.28"/>
<ellipse cx="172.6" cy="924" rx="3.9" ry="4.3" fill="#1610a0"/>
<circle cx="213.7" cy="957" r="5" fill="#5a50d0" opacity="0.28"/>
<ellipse cx="213.7" cy="957" rx="3.9" ry="4.3" fill="#1610a0"/>
<circle cx="264.3" cy="971.1" r="5" fill="#5a50d0" opacity="0.28"/>
<ellipse cx="264.3" cy="971.1" rx="3.9" ry="4.3" fill="#1610a0"/>
<circle cx="326" cy="980.4" r="5" fill="#5a50d0" opacity="0.28"/>
<ellipse cx="326" cy="980.4" rx="3.9" ry="4.3" fill="#1610a0"/>
<circle cx="396.2" cy="985.3" r="5" fill="#5a50d0" opacity="0.28"/>
<ellipse cx="396.2" cy="985.3" rx="3.9" ry="4.3" fill="#1610a0"/>
<circle cx="465.6" cy="990" r="5" fill="#5a50d0" opacity="0.28"/>
<ellipse cx="465.6" cy="990" rx="3.9" ry="4.3" fill="#1610a0"/>
<circle cx="526.8" cy="994.9" r="5" fill="#5a50d0" opacity="0.28"/>
<ellipse cx="526.8" cy="994.9" rx="3.9" ry="4.3" fill="#1610a0"/>
<circle cx="580.4" cy="999.8" r="5" fill="#5a50d0" opacity="0.28"/>
<ellipse cx="580.4" cy="999.8" rx="3.9" ry="4.3" fill="#1610a0"/>
<circle cx="629.3" cy="994.8" r="5" fill="#5a50d0" opacity="0.28"/>
<ellipse cx="629.3" cy="994.8" rx="3.9" ry="4.3" fill="#1610a0"/>
<text x="78.3" y="642.4" text-anchor="middle" class="ct" style="font-size:12.4px;stroke:#333;stroke-width:0.3px">0</text>
<rect x="523.8" y="695.6" width="109.1" height="55.1" fill="#fff" stroke="#111" stroke-width="2"/>
<circle cx="563.4" cy="708.2" r="5" fill="#0d0a9a"/>
<text x="577" y="720" class="big" style="font-size:19px">f</text>
<line x1="546.5" y1="737" x2="570" y2="737" stroke="#b8263c" stroke-width="2.4"/>
<text x="577" y="741.6" class="big" style="font-size:19px" textLength="25.5" lengthAdjust="spacingAndGlyphs">f fit</text>
<text x="288.6" y="798.5" class="big" style="font-size:24px;font-style:italic">K</text>
<text x="304.3" y="804.3" class="big" style="font-size:15px">a</text>
<text x="317.9" y="798.5" class="big" style="font-size:24px;letter-spacing:0.5px;word-spacing:-2px">=3809 M</text>
<text x="414.3" y="791.6" class="big" style="font-size:15.5px;letter-spacing:0.2px">-1</text>
<ellipse cx="118" cy="1050" rx="2" ry="1.6" fill="#333"/>
</svg>
</body></html>
